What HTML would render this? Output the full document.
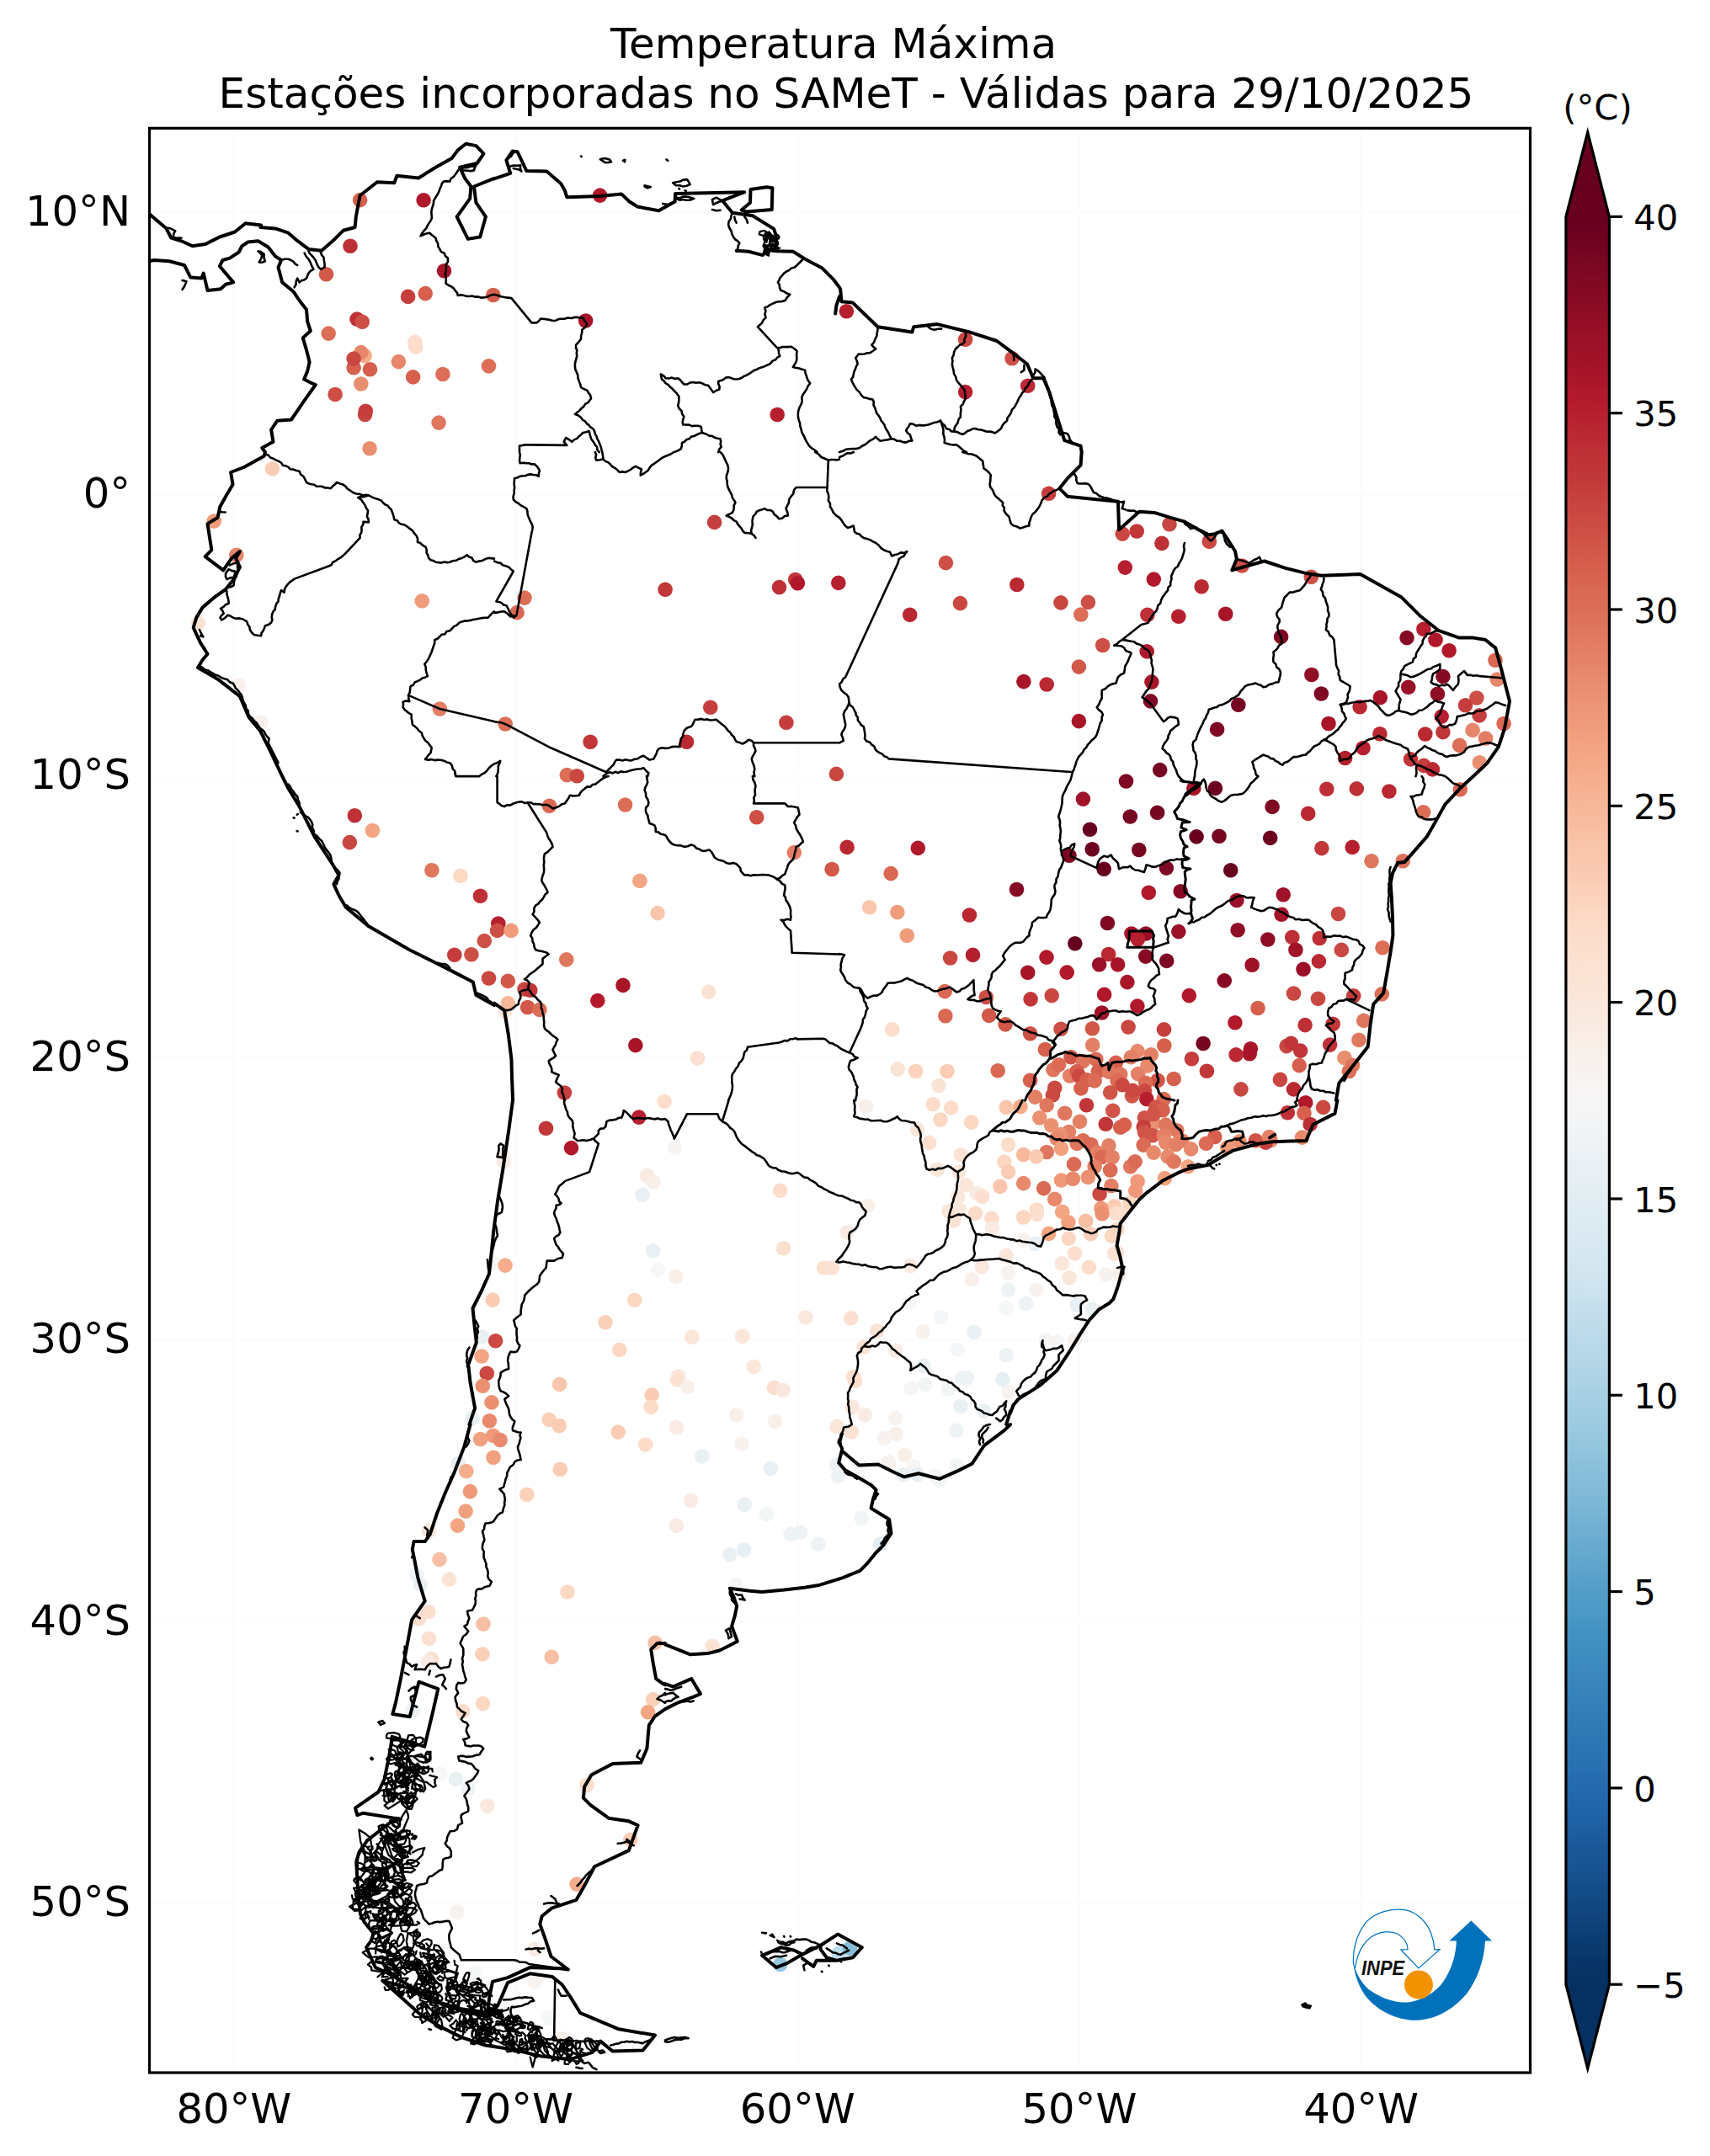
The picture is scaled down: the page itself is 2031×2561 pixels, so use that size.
<!DOCTYPE html>
<html lang="pt-BR"><head><meta charset="utf-8"><title>Temperatura Máxima - SAMeT</title>
<style>html,body{margin:0;padding:0;background:#fff}body{width:2031px;height:2561px;overflow:hidden}svg{display:block}text{font-family:'DejaVu Sans','Liberation Sans',sans-serif;fill:#000}.c{fill:none;stroke:#000;stroke-width:4;stroke-linejoin:round;stroke-linecap:round}.b{fill:none;stroke:#000;stroke-width:2.6;stroke-linejoin:round;stroke-linecap:round}.s{fill:none;stroke:#000;stroke-width:2.6;stroke-linejoin:round;stroke-linecap:round}.p{fill:none;stroke:#000;stroke-width:3.0;stroke-linejoin:round;stroke-linecap:round}.f{fill:none;stroke:#000;stroke-width:2.3;stroke-linejoin:round;stroke-linecap:round}</style></head><body>
<svg width="2031" height="2561" viewBox="0 0 2031 2561">
<rect width="2031" height="2561" fill="#fff"/>
<text x="990.1" y="69.4" font-size="50" text-anchor="middle">Temperatura Máxima</text>
<text x="1005" y="128.1" font-size="50" text-anchor="middle">Estações incorporadas no SAMeT - Válidas para 29/10/2025</text>
<defs><clipPath id="ax"><rect x="177.5" y="152.3" width="1640.0" height="2309.7"/></clipPath>
<linearGradient id="cb" x1="0" y1="0" x2="0" y2="1"><stop offset="0.0000" stop-color="#67001f"/><stop offset="0.0111" stop-color="#6d0220"/><stop offset="0.0222" stop-color="#760521"/><stop offset="0.0333" stop-color="#7f0823"/><stop offset="0.0444" stop-color="#870a24"/><stop offset="0.0556" stop-color="#900d26"/><stop offset="0.0667" stop-color="#991027"/><stop offset="0.0778" stop-color="#9f1228"/><stop offset="0.0889" stop-color="#a81529"/><stop offset="0.1000" stop-color="#b1182b"/><stop offset="0.1111" stop-color="#b61f2e"/><stop offset="0.1222" stop-color="#ba2832"/><stop offset="0.1333" stop-color="#be3036"/><stop offset="0.1444" stop-color="#c13639"/><stop offset="0.1556" stop-color="#c53e3d"/><stop offset="0.1667" stop-color="#c94741"/><stop offset="0.1778" stop-color="#ce4f45"/><stop offset="0.1889" stop-color="#d25849"/><stop offset="0.2000" stop-color="#d6604d"/><stop offset="0.2111" stop-color="#da6853"/><stop offset="0.2222" stop-color="#dc6e57"/><stop offset="0.2333" stop-color="#df765e"/><stop offset="0.2444" stop-color="#e37e64"/><stop offset="0.2556" stop-color="#e6866a"/><stop offset="0.2667" stop-color="#ea8e70"/><stop offset="0.2778" stop-color="#ee9677"/><stop offset="0.2889" stop-color="#f09c7b"/><stop offset="0.3000" stop-color="#f3a481"/><stop offset="0.3111" stop-color="#f5aa89"/><stop offset="0.3222" stop-color="#f6b191"/><stop offset="0.3333" stop-color="#f7b799"/><stop offset="0.3444" stop-color="#f8bda1"/><stop offset="0.3556" stop-color="#f9c4a9"/><stop offset="0.3667" stop-color="#fac8af"/><stop offset="0.3778" stop-color="#fbceb7"/><stop offset="0.3889" stop-color="#fcd5bf"/><stop offset="0.4000" stop-color="#fddbc7"/><stop offset="0.4111" stop-color="#fcdecd"/><stop offset="0.4222" stop-color="#fce2d2"/><stop offset="0.4333" stop-color="#fbe4d6"/><stop offset="0.4444" stop-color="#fae7dc"/><stop offset="0.4556" stop-color="#faeae1"/><stop offset="0.4667" stop-color="#f9eee7"/><stop offset="0.4778" stop-color="#f8f1ed"/><stop offset="0.4889" stop-color="#f8f4f2"/><stop offset="0.5000" stop-color="#f7f6f6"/><stop offset="0.5111" stop-color="#f3f5f6"/><stop offset="0.5222" stop-color="#eff3f5"/><stop offset="0.5333" stop-color="#eaf1f5"/><stop offset="0.5444" stop-color="#e6eff4"/><stop offset="0.5556" stop-color="#e1edf3"/><stop offset="0.5667" stop-color="#ddebf2"/><stop offset="0.5778" stop-color="#dae9f2"/><stop offset="0.5889" stop-color="#d5e7f1"/><stop offset="0.6000" stop-color="#d1e5f0"/><stop offset="0.6111" stop-color="#cae1ee"/><stop offset="0.6222" stop-color="#c2ddec"/><stop offset="0.6333" stop-color="#bbdaea"/><stop offset="0.6444" stop-color="#b6d7e8"/><stop offset="0.6556" stop-color="#aed3e6"/><stop offset="0.6667" stop-color="#a7d0e4"/><stop offset="0.6778" stop-color="#a0cce2"/><stop offset="0.6889" stop-color="#98c8e0"/><stop offset="0.7000" stop-color="#90c4dd"/><stop offset="0.7111" stop-color="#87beda"/><stop offset="0.7222" stop-color="#81bad8"/><stop offset="0.7333" stop-color="#78b4d5"/><stop offset="0.7444" stop-color="#6eaed2"/><stop offset="0.7556" stop-color="#65a9cf"/><stop offset="0.7667" stop-color="#5ca3cb"/><stop offset="0.7778" stop-color="#529dc8"/><stop offset="0.7889" stop-color="#4c99c6"/><stop offset="0.8000" stop-color="#4393c3"/><stop offset="0.8111" stop-color="#3f8ec0"/><stop offset="0.8222" stop-color="#3b88be"/><stop offset="0.8333" stop-color="#3783bb"/><stop offset="0.8444" stop-color="#337eb8"/><stop offset="0.8556" stop-color="#2f79b5"/><stop offset="0.8667" stop-color="#2c75b4"/><stop offset="0.8778" stop-color="#2870b1"/><stop offset="0.8889" stop-color="#246aae"/><stop offset="0.9000" stop-color="#2065ab"/><stop offset="0.9111" stop-color="#1d5fa2"/><stop offset="0.9222" stop-color="#1a5899"/><stop offset="0.9333" stop-color="#185493"/><stop offset="0.9444" stop-color="#144e8a"/><stop offset="0.9556" stop-color="#114781"/><stop offset="0.9667" stop-color="#0e4179"/><stop offset="0.9778" stop-color="#0a3b70"/><stop offset="0.9889" stop-color="#073467"/><stop offset="1.0000" stop-color="#053061"/></linearGradient></defs>
<path d="M277.9 152.3V2462.0M612.6 152.3V2462.0M947.3 152.3V2462.0M1282.0 152.3V2462.0M1616.7 152.3V2462.0M177.5 2260.9H1817.5M177.5 1926.2H1817.5M177.5 1591.5H1817.5M177.5 1256.8H1817.5M177.5 922.1H1817.5M177.5 587.4H1817.5M177.5 252.7H1817.5" fill="none" stroke="#000" stroke-opacity="0.012" stroke-width="3"/>
<g clip-path="url(#ax)">
<g><circle cx="427.6" cy="237.6" r="8.8" fill="#d6604d"/><circle cx="503.1" cy="237.8" r="8.8" fill="#b1182b"/><circle cx="416" cy="292.3" r="8.8" fill="#be3036"/><circle cx="387.5" cy="325.8" r="8.8" fill="#d25849"/><circle cx="527.5" cy="321.8" r="8.8" fill="#a81529"/><circle cx="484.6" cy="352.4" r="8.8" fill="#c53e3d"/><circle cx="505.2" cy="348.6" r="8.8" fill="#d6604d"/><circle cx="585.8" cy="350.5" r="8.8" fill="#d6604d"/><circle cx="424" cy="379.1" r="8.8" fill="#be3036"/><circle cx="430.2" cy="382.2" r="8.8" fill="#ce4f45"/><circle cx="390.2" cy="396.1" r="8.8" fill="#dc6e57"/><circle cx="492.8" cy="406.2" r="8.8" fill="#fcdfcf"/><circle cx="493.7" cy="412.1" r="8.8" fill="#fdddcb"/><circle cx="433.1" cy="422.5" r="8.8" fill="#f5aa89"/><circle cx="428.8" cy="418.6" r="8.8" fill="#e6866a"/><circle cx="420.1" cy="436.8" r="8.8" fill="#d6604d"/><circle cx="420.1" cy="426.1" r="8.8" fill="#c94741"/><circle cx="439.5" cy="438.8" r="8.8" fill="#d6604d"/><circle cx="473.4" cy="429.6" r="8.8" fill="#e6866a"/><circle cx="490.6" cy="447.9" r="8.8" fill="#d6604d"/><circle cx="525.9" cy="444.5" r="8.8" fill="#dc6e57"/><circle cx="580.5" cy="434.9" r="8.8" fill="#dc6e57"/><circle cx="428.8" cy="456" r="8.8" fill="#ea8e70"/><circle cx="398.1" cy="468.5" r="8.8" fill="#ce4f45"/><circle cx="433.5" cy="492.5" r="8.8" fill="#c94741"/><circle cx="434.3" cy="488.2" r="8.8" fill="#c53e3d"/><circle cx="521.1" cy="502.1" r="8.8" fill="#df765e"/><circle cx="439.1" cy="532.7" r="8.8" fill="#ea8e70"/><circle cx="323.5" cy="556.9" r="8.8" fill="#fbccb4"/><circle cx="254.2" cy="619" r="8.8" fill="#f09c7b"/><circle cx="280.8" cy="659.3" r="8.8" fill="#e6866a"/><circle cx="235.3" cy="740.1" r="8.8" fill="#fbe3d4"/><circle cx="501.2" cy="713.9" r="8.8" fill="#f09c7b"/><circle cx="283.2" cy="813.9" r="8.8" fill="#f9f0eb"/><circle cx="522.3" cy="842" r="8.8" fill="#e37e64"/><circle cx="309.6" cy="857.8" r="8.8" fill="#f9f0eb"/><circle cx="421.3" cy="968.8" r="8.8" fill="#be3036"/><circle cx="442.4" cy="986.5" r="8.8" fill="#f3a481"/><circle cx="415.3" cy="1000.6" r="8.8" fill="#c94741"/><circle cx="512.9" cy="1033.7" r="8.8" fill="#df765e"/><circle cx="547" cy="1040.2" r="8.8" fill="#fdd9c4"/><circle cx="570.5" cy="1064.2" r="8.8" fill="#be3036"/><circle cx="575.3" cy="1117.6" r="8.8" fill="#ce4f45"/><circle cx="539.8" cy="1134.2" r="8.8" fill="#c53e3d"/><circle cx="559.9" cy="1133.7" r="8.8" fill="#ce4f45"/><circle cx="580.5" cy="1162" r="8.8" fill="#c94741"/><circle cx="648.5" cy="1340.3" r="8.8" fill="#c13639"/><circle cx="758.8" cy="1327.1" r="8.8" fill="#b61f2e"/><circle cx="678.5" cy="1363.6" r="8.8" fill="#b1182b"/><circle cx="597.7" cy="1371.7" r="8.8" fill="#f9efe9"/><circle cx="598.2" cy="1380.1" r="8.8" fill="#f9ebe3"/><circle cx="768.4" cy="1396.4" r="8.8" fill="#f9ebe3"/><circle cx="776.3" cy="1403.9" r="8.8" fill="#f9efe9"/><circle cx="763.1" cy="1419.2" r="8.8" fill="#e9f0f4"/><circle cx="775.6" cy="1485.9" r="8.8" fill="#e9f0f4"/><circle cx="781.6" cy="1508.4" r="8.8" fill="#f6f7f7"/><circle cx="586.7" cy="1500" r="8.8" fill="#f7f5f4"/><circle cx="600.1" cy="1503.1" r="8.8" fill="#f5ac8b"/><circle cx="585.2" cy="1544.1" r="8.8" fill="#fbccb4"/><circle cx="753.8" cy="1544.4" r="8.8" fill="#fcd7c2"/><circle cx="719" cy="1570.7" r="8.8" fill="#fbd0b9"/><circle cx="572.3" cy="1588" r="8.8" fill="#e9f0f4"/><circle cx="588.6" cy="1592.8" r="8.8" fill="#cb4942"/><circle cx="735.8" cy="1603.4" r="8.8" fill="#fcd7c2"/><circle cx="572.1" cy="1611" r="8.8" fill="#f4a683"/><circle cx="578.3" cy="1631.2" r="8.8" fill="#cb4942"/><circle cx="573.3" cy="1646.3" r="8.8" fill="#eb9172"/><circle cx="664.6" cy="1644.4" r="8.8" fill="#f9c6ac"/><circle cx="584" cy="1665.9" r="8.8" fill="#eb9172"/><circle cx="774.2" cy="1657.1" r="8.8" fill="#fbccb4"/><circle cx="773.2" cy="1671.4" r="8.8" fill="#fddcc9"/><circle cx="561" cy="1684.6" r="8.8" fill="#e9f0f4"/><circle cx="581.4" cy="1687.7" r="8.8" fill="#e8896c"/><circle cx="652.1" cy="1686.3" r="8.8" fill="#fbd0b9"/><circle cx="664.1" cy="1693.5" r="8.8" fill="#fbccb4"/><circle cx="570.6" cy="1709.5" r="8.8" fill="#f2a17f"/><circle cx="585.7" cy="1705.2" r="8.8" fill="#ef9979"/><circle cx="594.1" cy="1710.5" r="8.8" fill="#e8896c"/><circle cx="734.1" cy="1701.1" r="8.8" fill="#fbccb4"/><circle cx="766.7" cy="1716" r="8.8" fill="#fddcc9"/><circle cx="586" cy="1731.3" r="8.8" fill="#f2a17f"/><circle cx="544.5" cy="1738" r="8.8" fill="#e9f0f4"/><circle cx="553.8" cy="1747.6" r="8.8" fill="#f5ac8b"/><circle cx="665.3" cy="1745.2" r="8.8" fill="#fbccb4"/><circle cx="558.4" cy="1771.6" r="8.8" fill="#ef9979"/><circle cx="625.8" cy="1775.2" r="8.8" fill="#fbd0b9"/><circle cx="553.1" cy="1795.1" r="8.8" fill="#f2a17f"/><circle cx="543.5" cy="1812.1" r="8.8" fill="#f4a683"/><circle cx="509.5" cy="1818.4" r="8.8" fill="#fbe6da"/><circle cx="521.9" cy="1852.4" r="8.8" fill="#f8bfa4"/><circle cx="495.1" cy="1871.3" r="8.8" fill="#edf2f5"/><circle cx="499.4" cy="1882.6" r="8.8" fill="#e9f0f4"/><circle cx="533.5" cy="1876.1" r="8.8" fill="#fbe3d4"/><circle cx="674" cy="1891" r="8.8" fill="#fcd7c2"/><circle cx="509" cy="1914.7" r="8.8" fill="#fcdfcf"/><circle cx="497.5" cy="1922.7" r="8.8" fill="#fcdfcf"/><circle cx="574" cy="1929.1" r="8.8" fill="#f8bfa4"/><circle cx="509.5" cy="1946.4" r="8.8" fill="#fcdfcf"/><circle cx="778" cy="1951.4" r="8.8" fill="#f8bfa4"/><circle cx="573" cy="1964.9" r="8.8" fill="#fbd0b9"/><circle cx="655.3" cy="1968.2" r="8.8" fill="#f8bfa4"/><circle cx="512.6" cy="1970.6" r="8.8" fill="#fcdfcf"/><circle cx="508.3" cy="1973.7" r="8.8" fill="#f9ebe3"/><circle cx="775.6" cy="2018.6" r="8.8" fill="#fbd0b9"/><circle cx="573.5" cy="2023.6" r="8.8" fill="#fcd7c2"/><circle cx="549.8" cy="2032.9" r="8.8" fill="#fddcc9"/><circle cx="490.3" cy="2031.3" r="8.8" fill="#edf2f5"/><circle cx="769.6" cy="2033.7" r="8.8" fill="#f4a683"/><circle cx="522.7" cy="2107" r="8.8" fill="#f6f7f7"/><circle cx="541.4" cy="2113.4" r="8.8" fill="#e9f0f4"/><circle cx="555.7" cy="2124.2" r="8.8" fill="#edf2f5"/><circle cx="578.8" cy="2145.3" r="8.8" fill="#fae8de"/><circle cx="697" cy="2120.2" r="8.8" fill="#fddcc9"/><circle cx="748.8" cy="2185.4" r="8.8" fill="#fbccb4"/><circle cx="685" cy="2238.1" r="8.8" fill="#f5ac8b"/><circle cx="543" cy="2270.7" r="8.8" fill="#f8f2ef"/><circle cx="635.4" cy="2315.1" r="8.8" fill="#f9ebe3"/><circle cx="527.5" cy="2316.8" r="8.8" fill="#f6f7f7"/><circle cx="564.4" cy="2342.7" r="8.8" fill="#f6f7f7"/><circle cx="635.4" cy="2353.9" r="8.8" fill="#f8f2ef"/><circle cx="651.4" cy="2396.8" r="8.8" fill="#f6f7f7"/><circle cx="668.4" cy="2421.8" r="8.8" fill="#f9efe9"/><circle cx="712.6" cy="232.1" r="8.8" fill="#b1182b"/><circle cx="695.6" cy="381" r="8.8" fill="#a81529"/><circle cx="923.2" cy="492.5" r="8.8" fill="#b61f2e"/><circle cx="623" cy="710.1" r="8.8" fill="#dc6e57"/><circle cx="614.1" cy="727.6" r="8.8" fill="#da6853"/><circle cx="790.1" cy="700.3" r="8.8" fill="#c13639"/><circle cx="848.6" cy="620.4" r="8.8" fill="#c53e3d"/><circle cx="925.5" cy="697.6" r="8.8" fill="#be3036"/><circle cx="944.7" cy="688.5" r="8.8" fill="#c13639"/><circle cx="947.4" cy="692.8" r="8.8" fill="#b1182b"/><circle cx="995.8" cy="692.4" r="8.8" fill="#b61f2e"/><circle cx="843.8" cy="840.3" r="8.8" fill="#c53e3d"/><circle cx="933.9" cy="858.3" r="8.8" fill="#c53e3d"/><circle cx="815.5" cy="881.3" r="8.8" fill="#ba2832"/><circle cx="701.1" cy="881.3" r="8.8" fill="#c13639"/><circle cx="600.2" cy="860" r="8.8" fill="#dc6e57"/><circle cx="673.3" cy="920.6" r="8.8" fill="#dc6e57"/><circle cx="685.3" cy="921.8" r="8.8" fill="#c94741"/><circle cx="993.4" cy="919.4" r="8.8" fill="#c94741"/><circle cx="652.5" cy="957.2" r="8.8" fill="#da6853"/><circle cx="742.6" cy="956" r="8.8" fill="#dc6e57"/><circle cx="898.7" cy="970.7" r="8.8" fill="#ce4f45"/><circle cx="943.3" cy="1012.6" r="8.8" fill="#e37e64"/><circle cx="988.1" cy="1032.5" r="8.8" fill="#d25849"/><circle cx="759.9" cy="1046.4" r="8.8" fill="#f3a481"/><circle cx="781" cy="1084.6" r="8.8" fill="#f9c6ac"/><circle cx="591.8" cy="1097" r="8.8" fill="#b61f2e"/><circle cx="590.6" cy="1105.4" r="8.8" fill="#ce4f45"/><circle cx="607.1" cy="1105.4" r="8.8" fill="#f09c7b"/><circle cx="672.8" cy="1139.9" r="8.8" fill="#df765e"/><circle cx="603.3" cy="1165.4" r="8.8" fill="#d25849"/><circle cx="623" cy="1175" r="8.8" fill="#c94741"/><circle cx="629.7" cy="1176.2" r="8.8" fill="#c13639"/><circle cx="740" cy="1170.4" r="8.8" fill="#a81529"/><circle cx="709.8" cy="1188.6" r="8.8" fill="#b1182b"/><circle cx="600.2" cy="1201.3" r="8.8" fill="#fbe6da"/><circle cx="603.3" cy="1191.7" r="8.8" fill="#f7b799"/><circle cx="626.6" cy="1196.5" r="8.8" fill="#d25849"/><circle cx="640.9" cy="1199.4" r="8.8" fill="#dc6e57"/><circle cx="841.6" cy="1178.1" r="8.8" fill="#fbe3d4"/><circle cx="754.8" cy="1241.6" r="8.8" fill="#a81529"/><circle cx="828.4" cy="1257" r="8.8" fill="#fcdfcf"/><circle cx="670.4" cy="1298" r="8.8" fill="#c53e3d"/><circle cx="789.1" cy="1308.5" r="8.8" fill="#fdddcb"/><circle cx="1028.6" cy="1314.2" r="8.8" fill="#f9efe9"/><circle cx="1108.2" cy="1311.8" r="8.8" fill="#fddcc9"/><circle cx="1129.7" cy="1315.9" r="8.8" fill="#fddcc9"/><circle cx="1195.2" cy="1315.4" r="8.8" fill="#f9c6ac"/><circle cx="1117" cy="1330" r="8.8" fill="#fcd7c2"/><circle cx="1153.7" cy="1333.1" r="8.8" fill="#fcd7c2"/><circle cx="1089.7" cy="1341.8" r="8.8" fill="#fbe6da"/><circle cx="1103.6" cy="1357.4" r="8.8" fill="#fcdfcf"/><circle cx="1141.3" cy="1371.7" r="8.8" fill="#fbe3d4"/><circle cx="1197.6" cy="1359.7" r="8.8" fill="#fddcc9"/><circle cx="1192.8" cy="1380.1" r="8.8" fill="#fcd7c2"/><circle cx="1197.6" cy="1392.1" r="8.8" fill="#fbccb4"/><circle cx="801.5" cy="1362.6" r="8.8" fill="#f7f5f4"/><circle cx="1113" cy="1389.2" r="8.8" fill="#fbe6da"/><circle cx="1138.9" cy="1392.1" r="8.8" fill="#fbe6da"/><circle cx="1147.3" cy="1407.7" r="8.8" fill="#fbe6da"/><circle cx="1187.8" cy="1409.4" r="8.8" fill="#f9c6ac"/><circle cx="926.7" cy="1414.2" r="8.8" fill="#fddcc9"/><circle cx="1160.4" cy="1417.3" r="8.8" fill="#f9ebe3"/><circle cx="1166.7" cy="1421.4" r="8.8" fill="#fcdfcf"/><circle cx="1137.7" cy="1422.1" r="8.8" fill="#fbe6da"/><circle cx="1030.5" cy="1432.2" r="8.8" fill="#f9efe9"/><circle cx="1138.9" cy="1436.5" r="8.8" fill="#fbe6da"/><circle cx="1126.9" cy="1438.9" r="8.8" fill="#fbe6da"/><circle cx="1158.5" cy="1441.3" r="8.8" fill="#fddcc9"/><circle cx="1177.9" cy="1447.3" r="8.8" fill="#fddcc9"/><circle cx="1132.9" cy="1449.7" r="8.8" fill="#fbe3d4"/><circle cx="1178.4" cy="1459.3" r="8.8" fill="#f9ebe3"/><circle cx="1005.8" cy="1464" r="8.8" fill="#f9ebe3"/><circle cx="930.5" cy="1482.7" r="8.8" fill="#fcdfcf"/><circle cx="1195.2" cy="1491.6" r="8.8" fill="#fbe6da"/><circle cx="978.7" cy="1506" r="8.8" fill="#fcdfcf"/><circle cx="988.5" cy="1506" r="8.8" fill="#fbe3d4"/><circle cx="1081.3" cy="1503.6" r="8.8" fill="#fae8de"/><circle cx="1166.4" cy="1504.8" r="8.8" fill="#fae8de"/><circle cx="802.7" cy="1516.3" r="8.8" fill="#f9efe9"/><circle cx="1154.4" cy="1519.7" r="8.8" fill="#f9efe9"/><circle cx="1197.6" cy="1512" r="8.8" fill="#f8f2ef"/><circle cx="1197.6" cy="1532.4" r="8.8" fill="#edf2f5"/><circle cx="1080.1" cy="1546.8" r="8.8" fill="#f7f5f4"/><circle cx="1195.2" cy="1553.5" r="8.8" fill="#f6f7f7"/><circle cx="956.9" cy="1565" r="8.8" fill="#fae8de"/><circle cx="1010.6" cy="1565.7" r="8.8" fill="#fcdfcf"/><circle cx="1117.8" cy="1564.3" r="8.8" fill="#f5f6f7"/><circle cx="1041.8" cy="1580.8" r="8.8" fill="#fbe3d4"/><circle cx="1096.4" cy="1581.8" r="8.8" fill="#f8f2ef"/><circle cx="1157.1" cy="1582.3" r="8.8" fill="#e9f0f4"/><circle cx="821.9" cy="1588.2" r="8.8" fill="#fbe6da"/><circle cx="881.8" cy="1587.3" r="8.8" fill="#fbe6da"/><circle cx="1026.2" cy="1600" r="8.8" fill="#fbe3d4"/><circle cx="1063.3" cy="1604.3" r="8.8" fill="#f9ebe3"/><circle cx="1137.2" cy="1603.1" r="8.8" fill="#f5f6f7"/><circle cx="1195.2" cy="1609.8" r="8.8" fill="#edf2f5"/><circle cx="895.3" cy="1623.5" r="8.8" fill="#fbe6da"/><circle cx="1096.9" cy="1622.3" r="8.8" fill="#e9f0f4"/><circle cx="805.6" cy="1634.8" r="8.8" fill="#fbe6da"/><circle cx="804.4" cy="1639.1" r="8.8" fill="#fbe3d4"/><circle cx="816.4" cy="1647.5" r="8.8" fill="#f9efe9"/><circle cx="1013.7" cy="1635.5" r="8.8" fill="#fcdfcf"/><circle cx="1015.4" cy="1640.3" r="8.8" fill="#fcdfcf"/><circle cx="1142.5" cy="1636.7" r="8.8" fill="#edf2f5"/><circle cx="1148.5" cy="1636.7" r="8.8" fill="#edf2f5"/><circle cx="1190.9" cy="1638.4" r="8.8" fill="#e6eff4"/><circle cx="1098.8" cy="1644.6" r="8.8" fill="#f2f5f6"/><circle cx="1081.8" cy="1649.4" r="8.8" fill="#f7f5f4"/><circle cx="1126.9" cy="1650.3" r="8.8" fill="#f2f5f6"/><circle cx="919.5" cy="1648.4" r="8.8" fill="#fcdfcf"/><circle cx="930.3" cy="1651.5" r="8.8" fill="#fae8de"/><circle cx="1197.6" cy="1653.5" r="8.8" fill="#f8f2ef"/><circle cx="1141" cy="1670.2" r="8.8" fill="#e9f0f4"/><circle cx="1012.5" cy="1671.4" r="8.8" fill="#fae8de"/><circle cx="1027.1" cy="1680.6" r="8.8" fill="#f9ebe3"/><circle cx="874.6" cy="1681" r="8.8" fill="#f9efe9"/><circle cx="1063.3" cy="1684.6" r="8.8" fill="#f8f2ef"/><circle cx="1168.4" cy="1676.2" r="8.8" fill="#e9f0f4"/><circle cx="920.4" cy="1688.2" r="8.8" fill="#f9efe9"/><circle cx="803.7" cy="1695.6" r="8.8" fill="#f9ebe3"/><circle cx="993.8" cy="1694.4" r="8.8" fill="#fbe6da"/><circle cx="1011.3" cy="1700.9" r="8.8" fill="#fbe3d4"/><circle cx="1064.1" cy="1703.3" r="8.8" fill="#f9efe9"/><circle cx="1050.6" cy="1708.3" r="8.8" fill="#f8f2ef"/><circle cx="1136" cy="1699.2" r="8.8" fill="#edf2f5"/><circle cx="880.9" cy="1715" r="8.8" fill="#f8f2ef"/><circle cx="833.9" cy="1729.9" r="8.8" fill="#e9f0f4"/><circle cx="1074.4" cy="1728.4" r="8.8" fill="#f9efe9"/><circle cx="1055.4" cy="1736.8" r="8.8" fill="#f8f2ef"/><circle cx="915.4" cy="1744" r="8.8" fill="#e9f0f4"/><circle cx="1021.4" cy="1740.7" r="8.8" fill="#f6f7f7"/><circle cx="1085.6" cy="1742.4" r="8.8" fill="#f7f5f4"/><circle cx="1136.5" cy="1741.2" r="8.8" fill="#f2f5f6"/><circle cx="993.8" cy="1740" r="8.8" fill="#edf2f5"/><circle cx="995.5" cy="1753.1" r="8.8" fill="#edf2f5"/><circle cx="1072.9" cy="1751.9" r="8.8" fill="#e9f0f4"/><circle cx="1089.7" cy="1751.5" r="8.8" fill="#e9f0f4"/><circle cx="1111.3" cy="1753.1" r="8.8" fill="#f7f5f4"/><circle cx="1116.1" cy="1757.9" r="8.8" fill="#f2f5f6"/><circle cx="820.7" cy="1782.2" r="8.8" fill="#f9ebe3"/><circle cx="884.2" cy="1787.2" r="8.8" fill="#e9f0f4"/><circle cx="910.6" cy="1798.5" r="8.8" fill="#f2f5f6"/><circle cx="1023.1" cy="1803" r="8.8" fill="#f2f5f6"/><circle cx="803.4" cy="1812.4" r="8.8" fill="#f9ebe3"/><circle cx="939.1" cy="1822.2" r="8.8" fill="#edf2f5"/><circle cx="950.6" cy="1820.3" r="8.8" fill="#edf2f5"/><circle cx="972.2" cy="1834.2" r="8.8" fill="#edf2f5"/><circle cx="1045.8" cy="1834.2" r="8.8" fill="#e1edf3"/><circle cx="883.5" cy="1841.1" r="8.8" fill="#e6eff4"/><circle cx="866.7" cy="1846.6" r="8.8" fill="#e9f0f4"/><circle cx="873.9" cy="1882.6" r="8.8" fill="#f7f5f4"/><circle cx="846.1" cy="1955.3" r="8.8" fill="#fbe3d4"/><circle cx="926.7" cy="2333.5" r="8.8" fill="#98c8e0"/><circle cx="996.2" cy="2320.4" r="8.8" fill="#bbdaea"/><circle cx="1009.4" cy="2314.4" r="8.8" fill="#87beda"/><circle cx="1005.4" cy="369.7" r="8.8" fill="#b61f2e"/><circle cx="1146.6" cy="403.3" r="8.8" fill="#c94741"/><circle cx="1202" cy="425.8" r="8.8" fill="#ce4f45"/><circle cx="1220.7" cy="458.2" r="8.8" fill="#ba2832"/><circle cx="1146.6" cy="465.6" r="8.8" fill="#b61f2e"/><circle cx="1245.6" cy="586.2" r="8.8" fill="#c53e3d"/><circle cx="1333.2" cy="634.1" r="8.8" fill="#c94741"/><circle cx="1350.2" cy="631" r="8.8" fill="#c13639"/><circle cx="1389" cy="622.8" r="8.8" fill="#c94741"/><circle cx="1379.9" cy="645.4" r="8.8" fill="#be3036"/><circle cx="1336.3" cy="674.1" r="8.8" fill="#b61f2e"/><circle cx="1370.3" cy="688.1" r="8.8" fill="#b1182b"/><circle cx="1123.4" cy="668.6" r="8.8" fill="#ce4f45"/><circle cx="1207.8" cy="694.5" r="8.8" fill="#ba2832"/><circle cx="1140.4" cy="716.6" r="8.8" fill="#c94741"/><circle cx="1080.7" cy="730.3" r="8.8" fill="#ba2832"/><circle cx="1260" cy="715.9" r="8.8" fill="#c94741"/><circle cx="1283.8" cy="730" r="8.8" fill="#dc6e57"/><circle cx="1292.4" cy="715.4" r="8.8" fill="#ce4f45"/><circle cx="1362.9" cy="730.3" r="8.8" fill="#be3036"/><circle cx="1399.8" cy="732.2" r="8.8" fill="#b61f2e"/><circle cx="1309.7" cy="766.5" r="8.8" fill="#ce4f45"/><circle cx="1362.2" cy="773.9" r="8.8" fill="#b1182b"/><circle cx="1281.4" cy="792.1" r="8.8" fill="#d25849"/><circle cx="1215.9" cy="809.6" r="8.8" fill="#a81529"/><circle cx="1243.2" cy="813" r="8.8" fill="#ba2832"/><circle cx="1367.9" cy="810.1" r="8.8" fill="#a81529"/><circle cx="1366.5" cy="832.9" r="8.8" fill="#7f0823"/><circle cx="1281.4" cy="856.6" r="8.8" fill="#a81529"/><circle cx="1377.7" cy="914.6" r="8.8" fill="#760521"/><circle cx="1337.5" cy="928" r="8.8" fill="#7f0823"/><circle cx="1286.4" cy="949.1" r="8.8" fill="#9f1228"/><circle cx="1342.3" cy="970" r="8.8" fill="#760521"/><circle cx="1374.6" cy="965.2" r="8.8" fill="#760521"/><circle cx="1294.5" cy="985.3" r="8.8" fill="#67001f"/><circle cx="1006.1" cy="1006.4" r="8.8" fill="#ba2832"/><circle cx="1090.3" cy="1007.4" r="8.8" fill="#b1182b"/><circle cx="1297.2" cy="1008.8" r="8.8" fill="#6d0220"/><circle cx="1352.8" cy="1009.5" r="8.8" fill="#760521"/><circle cx="1269.9" cy="1016.2" r="8.8" fill="#7f0823"/><circle cx="1311.1" cy="1032.3" r="8.8" fill="#67001f"/><circle cx="1385.4" cy="1031.1" r="8.8" fill="#7f0823"/><circle cx="1058.1" cy="1037.6" r="8.8" fill="#da6853"/><circle cx="1207.5" cy="1056.5" r="8.8" fill="#870a24"/><circle cx="1364.3" cy="1060.3" r="8.8" fill="#b1182b"/><circle cx="1402.2" cy="1058.7" r="8.8" fill="#870a24"/><circle cx="1032.7" cy="1077.8" r="8.8" fill="#f9c6ac"/><circle cx="1065.8" cy="1083.6" r="8.8" fill="#f09c7b"/><circle cx="1151.4" cy="1087" r="8.8" fill="#ba2832"/><circle cx="1315.4" cy="1096.5" r="8.8" fill="#7f0823"/><circle cx="1343.9" cy="1109" r="8.8" fill="#a81529"/><circle cx="1361" cy="1109" r="8.8" fill="#991027"/><circle cx="1351.4" cy="1115.7" r="8.8" fill="#b61f2e"/><circle cx="1399.8" cy="1106.6" r="8.8" fill="#991027"/><circle cx="1077.3" cy="1111.2" r="8.8" fill="#f09c7b"/><circle cx="1276.8" cy="1120.8" r="8.8" fill="#67001f"/><circle cx="1128.6" cy="1138" r="8.8" fill="#c94741"/><circle cx="1155.5" cy="1134.4" r="8.8" fill="#b61f2e"/><circle cx="1243" cy="1137.1" r="8.8" fill="#b1182b"/><circle cx="1316.6" cy="1133.5" r="8.8" fill="#ba2832"/><circle cx="1360.7" cy="1136.1" r="8.8" fill="#870a24"/><circle cx="1385.7" cy="1141.4" r="8.8" fill="#7f0823"/><circle cx="1305.6" cy="1145.7" r="8.8" fill="#991027"/><circle cx="1327.6" cy="1145.7" r="8.8" fill="#a81529"/><circle cx="1220.7" cy="1155.3" r="8.8" fill="#a81529"/><circle cx="1267.2" cy="1155.1" r="8.8" fill="#b1182b"/><circle cx="1338.9" cy="1166.6" r="8.8" fill="#a81529"/><circle cx="1311.6" cy="1181.4" r="8.8" fill="#b1182b"/><circle cx="1122.2" cy="1177.6" r="8.8" fill="#da6853"/><circle cx="1171.3" cy="1184.5" r="8.8" fill="#ce4f45"/><circle cx="1224.1" cy="1186.9" r="8.8" fill="#c13639"/><circle cx="1249.2" cy="1182.6" r="8.8" fill="#c94741"/><circle cx="1350.9" cy="1195.1" r="8.8" fill="#b1182b"/><circle cx="1308.7" cy="1203" r="8.8" fill="#9f1228"/><circle cx="1122.9" cy="1206.8" r="8.8" fill="#da6853"/><circle cx="1174.7" cy="1206.4" r="8.8" fill="#d25849"/><circle cx="1194.1" cy="1216.9" r="8.8" fill="#d25849"/><circle cx="1059.8" cy="1222.9" r="8.8" fill="#fdddcb"/><circle cx="1223.6" cy="1227.7" r="8.8" fill="#ce4f45"/><circle cx="1260" cy="1222.2" r="8.8" fill="#ce4f45"/><circle cx="1297.4" cy="1221.7" r="8.8" fill="#d25849"/><circle cx="1340.1" cy="1220" r="8.8" fill="#c94741"/><circle cx="1382.5" cy="1222.9" r="8.8" fill="#c53e3d"/><circle cx="1066.3" cy="1269.9" r="8.8" fill="#fbe3d4"/><circle cx="1087.6" cy="1272.5" r="8.8" fill="#fcd3bc"/><circle cx="1125" cy="1272.5" r="8.8" fill="#fbccb4"/><circle cx="1185.2" cy="1271.8" r="8.8" fill="#da6853"/><circle cx="1223.6" cy="1283.3" r="8.8" fill="#d6604d"/><circle cx="1115" cy="1289.6" r="8.8" fill="#fbe3d4"/><circle cx="1436.3" cy="643.2" r="8.8" fill="#c94741"/><circle cx="1475.1" cy="672" r="8.8" fill="#ce4f45"/><circle cx="1427.1" cy="696.7" r="8.8" fill="#ba2832"/><circle cx="1455.7" cy="729.3" r="8.8" fill="#a81529"/><circle cx="1557.3" cy="685.2" r="8.8" fill="#ce4f45"/><circle cx="1521.6" cy="756.4" r="8.8" fill="#7f0823"/><circle cx="1671" cy="757.6" r="8.8" fill="#870a24"/><circle cx="1690.9" cy="747.3" r="8.8" fill="#b61f2e"/><circle cx="1705" cy="760" r="8.8" fill="#b1182b"/><circle cx="1721.1" cy="772.7" r="8.8" fill="#b1182b"/><circle cx="1776" cy="784.2" r="8.8" fill="#da6853"/><circle cx="1778.2" cy="807" r="8.8" fill="#e6866a"/><circle cx="1557.8" cy="801.5" r="8.8" fill="#900d26"/><circle cx="1569.3" cy="824" r="8.8" fill="#7f0823"/><circle cx="1470.8" cy="837.2" r="8.8" fill="#760521"/><circle cx="1445.6" cy="866.4" r="8.8" fill="#7f0823"/><circle cx="1672.7" cy="816.3" r="8.8" fill="#991027"/><circle cx="1713.9" cy="803.6" r="8.8" fill="#870a24"/><circle cx="1707.4" cy="824.2" r="8.8" fill="#900d26"/><circle cx="1639.3" cy="828.6" r="8.8" fill="#a81529"/><circle cx="1615.1" cy="839.8" r="8.8" fill="#ba2832"/><circle cx="1578" cy="859.5" r="8.8" fill="#a81529"/><circle cx="1753.9" cy="829" r="8.8" fill="#ce4f45"/><circle cx="1740.5" cy="837.7" r="8.8" fill="#c53e3d"/><circle cx="1757.1" cy="849.9" r="8.8" fill="#c53e3d"/><circle cx="1712.2" cy="851.1" r="8.8" fill="#b61f2e"/><circle cx="1786.1" cy="859.5" r="8.8" fill="#da6853"/><circle cx="1749.1" cy="867.4" r="8.8" fill="#e6866a"/><circle cx="1713.9" cy="869.6" r="8.8" fill="#c13639"/><circle cx="1692.8" cy="872" r="8.8" fill="#ba2832"/><circle cx="1638.9" cy="871.7" r="8.8" fill="#ba2832"/><circle cx="1764.5" cy="877" r="8.8" fill="#e37e64"/><circle cx="1733.6" cy="885.4" r="8.8" fill="#dc6e57"/><circle cx="1619" cy="888.5" r="8.8" fill="#b61f2e"/><circle cx="1597.6" cy="900.5" r="8.8" fill="#b61f2e"/><circle cx="1675.5" cy="901.9" r="8.8" fill="#c13639"/><circle cx="1691.1" cy="909.4" r="8.8" fill="#c53e3d"/><circle cx="1701.4" cy="913.9" r="8.8" fill="#ba2832"/><circle cx="1757.3" cy="905.8" r="8.8" fill="#ea8e70"/><circle cx="1417.8" cy="936.4" r="8.8" fill="#a81529"/><circle cx="1443.4" cy="936.4" r="8.8" fill="#6d0220"/><circle cx="1575.8" cy="937.3" r="8.8" fill="#be3036"/><circle cx="1611.3" cy="936.9" r="8.8" fill="#be3036"/><circle cx="1649.9" cy="940" r="8.8" fill="#ba2832"/><circle cx="1734.3" cy="937.8" r="8.8" fill="#da6853"/><circle cx="1511.1" cy="958.4" r="8.8" fill="#7f0823"/><circle cx="1553.7" cy="966.4" r="8.8" fill="#ba2832"/><circle cx="1690.6" cy="964.7" r="8.8" fill="#dc6e57"/><circle cx="1421.1" cy="993.9" r="8.8" fill="#67001f"/><circle cx="1448" cy="993.2" r="8.8" fill="#760521"/><circle cx="1508.7" cy="995.4" r="8.8" fill="#6d0220"/><circle cx="1569.8" cy="1007.6" r="8.8" fill="#c13639"/><circle cx="1606.2" cy="1006.4" r="8.8" fill="#b61f2e"/><circle cx="1629" cy="1022.7" r="8.8" fill="#df765e"/><circle cx="1666.2" cy="1022.7" r="8.8" fill="#dc6e57"/><circle cx="1461.7" cy="1033.7" r="8.8" fill="#67001f"/><circle cx="1524.2" cy="1062.7" r="8.8" fill="#9f1228"/><circle cx="1468.9" cy="1069.5" r="8.8" fill="#991027"/><circle cx="1522.1" cy="1086.2" r="8.8" fill="#a81529"/><circle cx="1589.5" cy="1085.5" r="8.8" fill="#c94741"/><circle cx="1470.1" cy="1104.7" r="8.8" fill="#900d26"/><circle cx="1505.8" cy="1116" r="8.8" fill="#900d26"/><circle cx="1534.8" cy="1113.3" r="8.8" fill="#be3036"/><circle cx="1538.9" cy="1128.2" r="8.8" fill="#9f1228"/><circle cx="1567.2" cy="1114.5" r="8.8" fill="#be3036"/><circle cx="1593.3" cy="1128.4" r="8.8" fill="#c94741"/><circle cx="1642" cy="1125.8" r="8.8" fill="#dc6e57"/><circle cx="1487.1" cy="1146.2" r="8.8" fill="#9f1228"/><circle cx="1566.4" cy="1141.9" r="8.8" fill="#ba2832"/><circle cx="1548" cy="1151.2" r="8.8" fill="#991027"/><circle cx="1454.2" cy="1164.9" r="8.8" fill="#870a24"/><circle cx="1412.3" cy="1182.6" r="8.8" fill="#b1182b"/><circle cx="1536.5" cy="1180" r="8.8" fill="#c94741"/><circle cx="1565.5" cy="1186.2" r="8.8" fill="#c94741"/><circle cx="1607.7" cy="1182.9" r="8.8" fill="#c53e3d"/><circle cx="1641.3" cy="1180.9" r="8.8" fill="#dc6e57"/><circle cx="1494" cy="1197.5" r="8.8" fill="#d6604d"/><circle cx="1466.9" cy="1214.8" r="8.8" fill="#b1182b"/><circle cx="1550.1" cy="1217.6" r="8.8" fill="#be3036"/><circle cx="1583.2" cy="1216.2" r="8.8" fill="#c13639"/><circle cx="1619.7" cy="1212.4" r="8.8" fill="#df765e"/><circle cx="1429.1" cy="1239.5" r="8.8" fill="#760521"/><circle cx="1485.4" cy="1245.7" r="8.8" fill="#a81529"/><circle cx="1484.2" cy="1251.7" r="8.8" fill="#a81529"/><circle cx="1468.1" cy="1252.9" r="8.8" fill="#ba2832"/><circle cx="1528.1" cy="1242.6" r="8.8" fill="#c94741"/><circle cx="1533.4" cy="1239.2" r="8.8" fill="#c13639"/><circle cx="1544.6" cy="1248.1" r="8.8" fill="#c13639"/><circle cx="1579.6" cy="1241.1" r="8.8" fill="#be3036"/><circle cx="1613.9" cy="1235.4" r="8.8" fill="#df765e"/><circle cx="1415.4" cy="1257.7" r="8.8" fill="#c53e3d"/><circle cx="1543.2" cy="1265.6" r="8.8" fill="#d6604d"/><circle cx="1596.9" cy="1256.5" r="8.8" fill="#ea8e70"/><circle cx="1606.5" cy="1265.3" r="8.8" fill="#df765e"/><circle cx="1602.4" cy="1272.5" r="8.8" fill="#dc6e57"/><circle cx="1433.4" cy="1272.3" r="8.8" fill="#c13639"/><circle cx="1520.4" cy="1282.4" r="8.8" fill="#c94741"/><circle cx="1473.9" cy="1293.9" r="8.8" fill="#c94741"/><circle cx="1536.5" cy="1293.9" r="8.8" fill="#ba2832"/><circle cx="1297.7" cy="1241.4" r="8.8" fill="#e48066"/><circle cx="1241.4" cy="1246.5" r="8.8" fill="#d6604d"/><circle cx="1382.8" cy="1242" r="8.8" fill="#d6604d"/><circle cx="1351.1" cy="1248.6" r="8.8" fill="#e8896c"/><circle cx="1343.3" cy="1255.8" r="8.8" fill="#e48066"/><circle cx="1367.2" cy="1252.8" r="8.8" fill="#e48066"/><circle cx="1271.9" cy="1255.8" r="8.8" fill="#d05548"/><circle cx="1286.3" cy="1260.6" r="8.8" fill="#df765e"/><circle cx="1301.9" cy="1258.2" r="8.8" fill="#db6b55"/><circle cx="1325.3" cy="1262.4" r="8.8" fill="#d6604d"/><circle cx="1251" cy="1270.8" r="8.8" fill="#df765e"/><circle cx="1257.5" cy="1264.8" r="8.8" fill="#db6b55"/><circle cx="1363" cy="1266" r="8.8" fill="#e8896c"/><circle cx="1270.7" cy="1278" r="8.8" fill="#e48066"/><circle cx="1279.1" cy="1272.6" r="8.8" fill="#d6604d"/><circle cx="1351.7" cy="1275.6" r="8.8" fill="#e48066"/><circle cx="1304.3" cy="1272.6" r="8.8" fill="#d6604d"/><circle cx="1317.5" cy="1273.2" r="8.8" fill="#df765e"/><circle cx="1330.7" cy="1276.2" r="8.8" fill="#df765e"/><circle cx="1281.5" cy="1278" r="8.8" fill="#cb4942"/><circle cx="1291.1" cy="1282.7" r="8.8" fill="#d6604d"/><circle cx="1300.1" cy="1283.9" r="8.8" fill="#db6b55"/><circle cx="1327.1" cy="1283.9" r="8.8" fill="#db6b55"/><circle cx="1375" cy="1283.3" r="8.8" fill="#d05548"/><circle cx="1394.2" cy="1281.5" r="8.8" fill="#d6604d"/><circle cx="1360.6" cy="1286.3" r="8.8" fill="#db6b55"/><circle cx="1333.1" cy="1288.7" r="8.8" fill="#cb4942"/><circle cx="1250.4" cy="1300.7" r="8.8" fill="#cb4942"/><circle cx="1252.7" cy="1292.3" r="8.8" fill="#cb4942"/><circle cx="1283.9" cy="1292.9" r="8.8" fill="#d6604d"/><circle cx="1344.5" cy="1301.9" r="8.8" fill="#d05548"/><circle cx="1345.1" cy="1295.3" r="8.8" fill="#cb4942"/><circle cx="1359.4" cy="1295.9" r="8.8" fill="#cb4942"/><circle cx="1318.7" cy="1297.7" r="8.8" fill="#d05548"/><circle cx="1361.8" cy="1305.5" r="8.8" fill="#b61f2e"/><circle cx="1229.4" cy="1303.1" r="8.8" fill="#e48066"/><circle cx="1382.2" cy="1305.5" r="8.8" fill="#db6b55"/><circle cx="1243.2" cy="1312.7" r="8.8" fill="#df765e"/><circle cx="1290.5" cy="1312.7" r="8.8" fill="#c13639"/><circle cx="1212" cy="1314.5" r="8.8" fill="#f5ac8b"/><circle cx="1372.6" cy="1315.1" r="8.8" fill="#d05548"/><circle cx="1381" cy="1318.7" r="8.8" fill="#d6604d"/><circle cx="1321.7" cy="1319.3" r="8.8" fill="#d05548"/><circle cx="1264.7" cy="1322.3" r="8.8" fill="#df765e"/><circle cx="1370.2" cy="1334.3" r="8.8" fill="#eb9172"/><circle cx="1359.4" cy="1327.7" r="8.8" fill="#d05548"/><circle cx="1370.2" cy="1323.5" r="8.8" fill="#d05548"/><circle cx="1234.8" cy="1327.7" r="8.8" fill="#eb9172"/><circle cx="1282.5" cy="1332.3" r="8.8" fill="#e48066"/><circle cx="1313.3" cy="1335.3" r="8.8" fill="#c13639"/><circle cx="1330.7" cy="1339.1" r="8.8" fill="#d6604d"/><circle cx="1335.5" cy="1336.1" r="8.8" fill="#d6604d"/><circle cx="1358.2" cy="1338.5" r="8.8" fill="#c53e3d"/><circle cx="1384.6" cy="1336.1" r="8.8" fill="#df765e"/><circle cx="1248.6" cy="1336.7" r="8.8" fill="#eb9172"/><circle cx="1397.8" cy="1342.7" r="8.8" fill="#df765e"/><circle cx="1269.5" cy="1344.5" r="8.8" fill="#e48066"/><circle cx="1259.9" cy="1347.5" r="8.8" fill="#eb9172"/><circle cx="1369" cy="1348.7" r="8.8" fill="#d05548"/><circle cx="1359.4" cy="1345.1" r="8.8" fill="#d05548"/><circle cx="1382.2" cy="1348.7" r="8.8" fill="#e48066"/><circle cx="1255.1" cy="1352.3" r="8.8" fill="#e8896c"/><circle cx="1286.3" cy="1354.7" r="8.8" fill="#db6b55"/><circle cx="1295.9" cy="1359.5" r="8.8" fill="#db6b55"/><circle cx="1403.8" cy="1354.7" r="8.8" fill="#e48066"/><circle cx="1279.1" cy="1358.3" r="8.8" fill="#df765e"/><circle cx="1316.9" cy="1360.7" r="8.8" fill="#e48066"/><circle cx="1358.2" cy="1360.1" r="8.8" fill="#db6b55"/><circle cx="1384.6" cy="1357.1" r="8.8" fill="#e8896c"/><circle cx="1396.6" cy="1359.5" r="8.8" fill="#e48066"/><circle cx="1260.5" cy="1364.3" r="8.8" fill="#f2a17f"/><circle cx="1243.2" cy="1368.5" r="8.8" fill="#df765e"/><circle cx="1303.1" cy="1369.1" r="8.8" fill="#e48066"/><circle cx="1370.2" cy="1369.1" r="8.8" fill="#e8896c"/><circle cx="1215.6" cy="1371.5" r="8.8" fill="#f7b99c"/><circle cx="1230.6" cy="1373.9" r="8.8" fill="#fbccb4"/><circle cx="1308.5" cy="1374.5" r="8.8" fill="#db6b55"/><circle cx="1321.1" cy="1374.5" r="8.8" fill="#e48066"/><circle cx="1387" cy="1373.9" r="8.8" fill="#e8896c"/><circle cx="1394.2" cy="1379.9" r="8.8" fill="#df765e"/><circle cx="1342.7" cy="1385.8" r="8.8" fill="#df765e"/><circle cx="1348.1" cy="1379.9" r="8.8" fill="#db6b55"/><circle cx="1275.5" cy="1382.9" r="8.8" fill="#db6b55"/><circle cx="1300.1" cy="1385.8" r="8.8" fill="#e48066"/><circle cx="1318.7" cy="1390" r="8.8" fill="#db6b55"/><circle cx="1260.5" cy="1402" r="8.8" fill="#ef9979"/><circle cx="1274.3" cy="1400.2" r="8.8" fill="#e8896c"/><circle cx="1292.3" cy="1398.4" r="8.8" fill="#eb9172"/><circle cx="1351.1" cy="1403.2" r="8.8" fill="#ef9979"/><circle cx="1383.4" cy="1399.6" r="8.8" fill="#f2a17f"/><circle cx="1215.6" cy="1405.6" r="8.8" fill="#e8896c"/><circle cx="1319.9" cy="1408.6" r="8.8" fill="#e48066"/><circle cx="1239.6" cy="1411.6" r="8.8" fill="#db6b55"/><circle cx="1348.7" cy="1414.6" r="8.8" fill="#ef9979"/><circle cx="1306.1" cy="1418.2" r="8.8" fill="#cb4942"/><circle cx="1550.7" cy="1309.7" r="8.8" fill="#b1182b"/><circle cx="1571.6" cy="1315.4" r="8.8" fill="#cb4942"/><circle cx="1529.3" cy="1321.7" r="8.8" fill="#be3036"/><circle cx="1548.9" cy="1322.3" r="8.8" fill="#d6604d"/><circle cx="1556.1" cy="1335.5" r="8.8" fill="#be3036"/><circle cx="1442.8" cy="1350.5" r="8.8" fill="#d6604d"/><circle cx="1432.6" cy="1358.3" r="8.8" fill="#db6b55"/><circle cx="1414.6" cy="1364.9" r="8.8" fill="#e8896c"/><circle cx="1546.5" cy="1351.1" r="8.8" fill="#e8896c"/><circle cx="1509.3" cy="1354.7" r="8.8" fill="#eb9172"/><circle cx="1503.3" cy="1357.1" r="8.8" fill="#c53e3d"/><circle cx="1491.3" cy="1354.7" r="8.8" fill="#d05548"/><circle cx="1507.5" cy="1350.5" r="8.8" fill="#e48066"/><circle cx="1472.1" cy="1355.9" r="8.8" fill="#eb9172"/><circle cx="1457.7" cy="1363.1" r="8.8" fill="#ef9979"/><circle cx="1411" cy="1385.8" r="8.8" fill="#f4a683"/><circle cx="1252.7" cy="1424.4" r="8.8" fill="#e8896c"/><circle cx="1231.4" cy="1437" r="8.8" fill="#fddcc9"/><circle cx="1231.4" cy="1442.4" r="8.8" fill="#fcdfcf"/><circle cx="1215.6" cy="1446" r="8.8" fill="#fcd7c2"/><circle cx="1261.7" cy="1439.4" r="8.8" fill="#f4a683"/><circle cx="1268.9" cy="1452" r="8.8" fill="#f2a17f"/><circle cx="1289.6" cy="1450.2" r="8.8" fill="#f8bfa4"/><circle cx="1323.5" cy="1432.8" r="8.8" fill="#fbccb4"/><circle cx="1325.9" cy="1441.2" r="8.8" fill="#fddcc9"/><circle cx="1331.9" cy="1442.4" r="8.8" fill="#fcdfcf"/><circle cx="1341.5" cy="1429.2" r="8.8" fill="#fcd7c2"/><circle cx="1307.9" cy="1435.2" r="8.8" fill="#ef9979"/><circle cx="1309.1" cy="1441.8" r="8.8" fill="#eb9172"/><circle cx="1245.6" cy="1465.4" r="8.8" fill="#f4a683"/><circle cx="1269.3" cy="1471.2" r="8.8" fill="#fcd7c2"/><circle cx="1295.5" cy="1465.8" r="8.8" fill="#fbd0b9"/><circle cx="1327.1" cy="1460.4" r="8.8" fill="#fddcc9"/><circle cx="1320.5" cy="1468.2" r="8.8" fill="#fcd7c2"/><circle cx="1215.6" cy="1473" r="8.8" fill="#f8f2ef"/><circle cx="1230" cy="1477.1" r="8.8" fill="#e9f0f4"/><circle cx="1276.5" cy="1488.9" r="8.8" fill="#fcdfcf"/><circle cx="1323.5" cy="1489.1" r="8.8" fill="#fbe3d4"/><circle cx="1326.5" cy="1487.3" r="8.8" fill="#fbe3d4"/><circle cx="1261.3" cy="1500.8" r="8.8" fill="#fbe6da"/><circle cx="1293.3" cy="1505.3" r="8.8" fill="#fddcc9"/><circle cx="1270.1" cy="1517.9" r="8.8" fill="#fbe6da"/><circle cx="1313.3" cy="1514.1" r="8.8" fill="#f8f2ef"/><circle cx="1330.1" cy="1513.7" r="8.8" fill="#f9efe9"/><circle cx="1230.8" cy="1532.1" r="8.8" fill="#f8f2ef"/><circle cx="1218.6" cy="1548.2" r="8.8" fill="#edf2f5"/><circle cx="1279.4" cy="1550" r="8.8" fill="#e6eff4"/><circle cx="1297.7" cy="1555.1" r="8.8" fill="#e9f0f4"/><circle cx="1242" cy="1591.6" r="8.8" fill="#f7f5f4"/><circle cx="1255.7" cy="1594" r="8.8" fill="#f7f5f4"/><circle cx="1276.7" cy="1591.6" r="8.8" fill="#f8f2ef"/></g>
<path class="f" d="M915.1 277.3L915.6 278.9L915.8 280.8L914.1 281.6L912.2 281.7L912.1 279.6L911.7 277.4L913.4 275.4ZM921.5 292L920 292.3L918.3 292L917 291.1L917 289.9L919.6 290.4L921.9 290.9ZM916.4 284.9L918.2 283.4L920.7 282.6L921.7 284.9L921.3 286.6L919.7 287.2L917.2 287.3ZM910.5 287.7L909.4 286.1L908.6 286.5L908.4 284.7L907.1 284.1L906.8 282.4L907.3 281.1L907.6 279.3L908.9 280.2L909.8 279.3L910.7 280.4M917.9 296.7L914.6 289.8L915.5 279.6L918.8 281L921 286.4L921.1 295.2ZM908.4 278L909 277.1L910.3 276.8L912.5 277.9L913.2 279L912.9 279.9L910.4 279.4ZM921.5 286.4L920.6 287.1L919.4 286.5L918.4 285.4L919.1 284L920.7 284.3L921.5 285.3ZM922.8 294.3L926.1 294.6L923.2 296L921.4 296.8L918.8 297.5L916.5 297.2L914.7 296.6L916.4 295.4L918.3 294.7L920.7 294ZM911.5 283.3L910.7 286.1L909.5 287.3L908.3 287.8L907.9 285.8L909.6 283.1L910.8 282.5ZM907.2 300.2L907.8 297.5L907.8 295.2L910.2 293.8L912.3 291.2L915.1 290.3L915.4 293.3L913.7 296.9L911.2 298.8L909.1 300.2ZM909.8 291.1L912.6 295.9L913.9 299.3L913.2 301.4L910.3 300.4L908.5 295.6L907.7 291.9ZM923.8 290.4L922.8 290.6L921.5 289.4L920.7 287.6L920.1 285.3L921.2 284.3L923.3 286.3L924.2 289ZM922.3 296.5L923.1 297.3L921.5 298.7L919.1 298.8L917.5 298.7L915.8 298.2L917.3 296.9L919.5 296.4M916.9 282.1L916.2 283.9L911.6 282.2L908.5 280.6L901.8 278.3L902.1 275.6L904.5 274.6L907.9 273.9L912.9 277.3L918.3 280.2ZM920.5 281.2L921.3 280.2L920.8 278.5L922.2 278.1L923.8 279.2L925.2 280.6L925.2 282L925 283.4L923.6 283.7L922.3 282ZM906.4 292.3L909.1 285.3L912.3 282.9L914.6 283.9L913.8 290.1L910.6 296.8L908.5 294.3ZM459.7 2127.6L462.8 2126.9L466.2 2129.9L464.6 2135.4L463.2 2139.9L459.6 2141.7L456.3 2138.6L456.5 2133.2L455.9 2127.6ZM489 2073.1L486.5 2071.9L487.6 2069.4L489.5 2068L492 2069.2L491.8 2072.4ZM461.6 2077.8L465.5 2078.3L469 2079.5L471.2 2084.6L468.1 2085.2L464.2 2083.4ZM475.4 2134.7L483.6 2138.7L490.5 2143.7L489.6 2146.6L488.8 2148.8L483.5 2148.7L477.5 2142.8L476.6 2139.3ZM485.1 2126.9L482.5 2125.4L482.2 2121.1L482.8 2117.9L482.4 2112.9L485.1 2112.7L487.6 2113.6L489.9 2115.9L489.8 2120.2L490.2 2123.1L489 2124.7M486.9 2089.7L489.9 2096.2L492.6 2103.2L490.7 2106.5L486.1 2103.1L482.9 2095.7L483.1 2091.8L482.8 2086.5ZM476.7 2081.7L479.6 2082.9L481.6 2081.8L484.7 2085.1L486.7 2092.1L487.4 2098.2L485.7 2100L484.2 2100.4L482.4 2102.5M481.1 2121.8L482.4 2122.7L483.6 2123.1L485.2 2124L483.9 2125.9L482.2 2127.3L480.6 2128.6L479.3 2127.7M473.6 2098.6L472.2 2097L474.7 2095.9L476.1 2094.9L477.4 2095.8L480.2 2095.6L479.3 2097.6L478.4 2099.2L476.6 2099.8L474.4 2100.4ZM500.4 2099.7L497.8 2101.9L495.8 2103.1L493.9 2101.9L493.1 2100L493.9 2098L495.8 2094.6L498.2 2097.3ZM461 2112.5L459.4 2111.8L456.1 2112L456.5 2109.8L459.7 2107.5L462.9 2106.5L465.1 2106.7L466.1 2107.7L465.1 2109.3L464.1 2111.3ZM482 2082.4L480 2081.6L478.1 2079.5L475 2076.5L474.9 2073.6L477.1 2073.6L479.6 2076.1L481.8 2078.2L482.3 2080.6ZM483.6 2136.7L487.3 2133.7L494.1 2128.5L493.1 2134.1L495.7 2136.7L490.9 2142.1L485.2 2147.3L481.2 2146L479.1 2144.1L480 2140.3ZM510.3 2108.9L519 2111.2L516 2114.3L516.9 2116.3L516.2 2117.8L517.8 2121.3L514.4 2122.9L506.9 2117L501.3 2116.4L496.2 2113.2L489.2 2109M475.1 2089.4L470.5 2089.7L472.1 2085.8L474.9 2084L480.2 2083.6L477.8 2087.8ZM480.6 2067.8L481.8 2070.5L480.4 2074.3L476.8 2075L474.8 2073L477.2 2069.9ZM466.7 2086.6L467.9 2087.3L469.4 2087.9L469.3 2089.2L466.4 2090.3L463.7 2090.5L460 2091.1L459 2089.8L460 2088.1L463.3 2086.5ZM483.3 2094.7L481.3 2095L479.1 2093.5L477.2 2091.3L478.8 2089.9L480.4 2089.3L482.3 2089.7L483.8 2091L485.7 2093.1M505.5 2092L505.4 2089.4L504.4 2086.5L506 2083.1L508 2083.7L509.1 2083.3L511.5 2080.7L511.3 2084.3L511.5 2086.9L511.4 2090.7L509 2091M507.7 2093.4L503.7 2093.6L498 2092.2L491.1 2086.4L495.6 2084.8L500.5 2083.7L505.3 2089.5ZM466.3 2137.1L475.5 2130L484.7 2129.4L481 2135.8L473.5 2140.8L461.1 2148.5L456.6 2144.7ZM483.2 2114.6L479.3 2106L479.7 2097.5L485.6 2101.4L489.8 2100.8L492.5 2108.6L492 2115.4L487.8 2114.3ZM484 2074.2L485.5 2073.1L488.9 2074.3L490.4 2076.7L491.3 2078.8L489.3 2079.4L486.6 2078L484.3 2076.2ZM486.2 2146.7L482.2 2142.8L482.6 2135.5L488.5 2128.8L491.8 2134.2L491.3 2140.4ZM474.1 2113.1L471.2 2114.7L469.3 2110.3L468.9 2105.5L470.6 2103.6L473.1 2105.8ZM491.1 2119.7L491.4 2117.2L495.3 2119.9L500.1 2120.6L502.6 2124.1L500.9 2126L499.3 2128M499.1 2063.6L502.8 2065.4L501.7 2069.5L497.7 2072.1L493.6 2074.3L489.3 2073.6L485.9 2070.7L489.5 2066.1L494.6 2064.5ZM483.1 2100.6L479.3 2112.4L474.7 2118.3L469.9 2115.9L472.2 2105.4L477.4 2097.2ZM473.3 2116.2L477.4 2117.6L483.3 2120.3L473.6 2122.1L467.6 2125.5L457.9 2125.2L459.9 2120.9L455.1 2118.7L463.1 2117.2L467.9 2115.2ZM490.5 2118.5L494.2 2118.6L496.6 2120.4L499.6 2123.1L497.4 2126.1L494.7 2127.9L491.8 2125.8L489.2 2122.6ZM494 2065.1L494 2073.3L489.7 2077.5L485.3 2083.7L482.5 2077.3L482.8 2069.9L485.1 2061.4L490.4 2060.8ZM482.3 2112.2L483.7 2113.6L484.6 2115.6L483.7 2119.1L481.1 2122.2L478.7 2122.9L476.5 2123.3L476.3 2120.7L477.4 2117.4L479.6 2114.5ZM479.4 2119.4L471.7 2122.3L469.4 2120.1L471 2114.2L481.2 2106L487.2 2106.4L484.1 2112.5ZM502.7 2098.7L504.9 2100.1L507.1 2099.9L509.3 2101.9L508.2 2104.8L506 2106L503.7 2107.2L501.6 2105.7L501.6 2103.1L501.9 2101.2ZM507.8 2080.8L509.1 2080.6L510.4 2083.4L510 2089.1L507.8 2090.6L506.4 2088.8L505.2 2085.8L506.4 2081.5ZM472.9 2109.2L474.2 2104.8L473.2 2101.8L477.4 2098.1L480.1 2098.1L481.6 2099.5L480.9 2103.4L476.9 2107.7ZM464.3 2110.1L465.4 2112.7L467.2 2116.8L466.2 2119.7L465.6 2123.3L463.7 2119.7L461.8 2118.1L460.8 2112.9M475.1 2072.8L473 2075.4L466.7 2073L464.8 2069.4L467.1 2067.1L472.9 2067.3L478.8 2070.7ZM474.9 2116.5L476.1 2114.7L479.2 2114.8L484.8 2116.9L485.5 2120.5L483.3 2122.1L478.5 2119.6ZM482 2089.5L486.7 2086.2L496.2 2086.2L502.3 2087L505.5 2088.8L510.1 2091.8L502.4 2093.8M468.1 2128.8L475.1 2131.6L479.4 2135L484.4 2142.2L477.7 2139.7L472.7 2136.4ZM502.9 2128.3L499.4 2126.6L493.7 2124.7L492.2 2114.5L494.6 2110.2L498.2 2108.7L503 2115.7L505.3 2124.6ZM483.7 2081.4L478.1 2085L471.9 2090.3L473.1 2082.1L471.8 2075.9L477.8 2069.1L483.7 2068L482.4 2075.7ZM451.8 2127.2L457.5 2125.9L463.3 2126.6L463.9 2129.8L463.5 2132.9L458.3 2133.3L454.6 2132.8M469.6 2089.7L466.4 2085.7L470.6 2083.8L475 2081.3L477.7 2086.4L476 2090.2L473 2094.6ZM472.6 2088.8L479.1 2088.1L486 2089.8L489.1 2094L497.3 2099L494.1 2103L485.9 2102L480.2 2097.4L475.6 2094ZM470.3 2096.8L469.5 2095.7L470.2 2094.9L470.8 2094.2L471.9 2094.5L472.8 2093.1L473.5 2094.5L474.1 2095.2L474.1 2096.1L475.8 2097.1L474.6 2097.8M487.3 2099.2L492.7 2099.3L494.3 2103.8L492.1 2113.6L482.8 2120.7L478.8 2119.4L477.9 2115.4L479 2107.6ZM488.2 2141.5L484.2 2142.5L484.8 2138.8L487 2136.2L490.4 2134.2L491.3 2137.2ZM470.1 2131.7L469.4 2136.4L466.7 2140.2L464.2 2139L461.8 2138.9L461.4 2135.2L460.8 2130.9L463.3 2126.7L466 2124.6L468.8 2124.2M467.8 2116.9L469.1 2123.2L468.5 2129.2L467.3 2137.3L463.8 2130.6L459.3 2131.2L459.2 2122.7L461 2116.4L464.4 2114.6ZM494.6 2113.2L493.4 2110.4L496 2106.3L497.2 2103.2L500 2100.4L503.3 2098.9L505.7 2099.7L509 2098.2L509.1 2100.8L513.3 2100.9L513.7 2104.3M459.1 2064.4L458.9 2061.4L460.8 2058.8L467.5 2058.1L474.1 2059.9L475.2 2062.8L474.9 2065.1L471.7 2067.1L465.7 2065.6ZM502.4 2107L498.2 2105.1L496 2103.1L492.2 2100.7L493 2098.2L497.7 2099L502.1 2099.1L503.5 2102.2L504.6 2104.4M474.7 2095.2L470.5 2094.4L468.5 2094.1L466.2 2095L463.6 2095.1L460.1 2094.7L462.7 2091.3L461.9 2089L463.5 2086.2L467.7 2086.8M488.1 2110.8L478 2109.9L474.9 2106.2L485.3 2103.4L492.2 2104.9L497.1 2107.5ZM571 2375.8L572 2374.9L573.1 2375.6L574.2 2375.7L575 2376.5L574.6 2377.7L574.2 2378.5L574.4 2379.8L573 2379.9M556.6 2364.8L556 2362.6L558.5 2360.3L561.5 2357.9L566.6 2357.2L572.3 2356.6L576.2 2358.4L569.8 2362.1L563 2363.3ZM536.7 2378.1L532.4 2369.1L530 2361L531.6 2356.8L535.3 2354.3L540.9 2363.8L546.1 2373L544 2377.6L543 2384ZM519.2 2370.4L520.5 2376.5L518.5 2380.5L511.5 2377.5L506.6 2372.5L501.6 2366.2L504.6 2362.5L511.8 2365.5ZM489.6 2332.4L486.4 2335.8L484.7 2332.7L481.9 2333.7L483.2 2330.1L482 2327.8L483.8 2324.4M455.9 2225.6L445.4 2225.5L435.5 2222.6L434.9 2218.6L443.4 2218L460.8 2220.3ZM479 2181.8L482.6 2180.8L486.3 2184.2L486.8 2196.3L482.3 2206.6L478.4 2198.8L476.1 2191.2M421.3 2269.8L418.5 2267.4L415.3 2264.6L423.1 2260.8L429.9 2259.4L437.5 2258.1L443.7 2259.9L434.5 2264.6L429.5 2268.9ZM490.5 2284.5L489.4 2286.2L485.3 2283.4L482.4 2279.6L480.9 2277L480.4 2275.1L480.8 2273.4L483.8 2275.5L487.6 2277.5L489.9 2281.6ZM424.5 2212.4L429.5 2213.6L433.1 2216.1L432.9 2220.4L428.5 2220.6L425.5 2219.6L422.8 2216.6ZM460.7 2180.7L462.6 2182.2L464.5 2184L464.6 2186.2L462.3 2186.2L460.7 2187.5L458.8 2185.4L458.6 2183.7L457.2 2181.6L458.1 2179.8ZM470.8 2318.7L476.8 2316.6L479.6 2313.2L484.2 2312.9L488 2314L487.4 2317.4L488.4 2320.6L483 2322.2L479.5 2324.4L475.2 2324.6M493.6 2330.7L495.8 2330.9L498.8 2331.2L499.6 2333.7L497.8 2335.1L497 2337.7L494.1 2336.3M476.1 2281.1L473.7 2279L473.1 2274.6L478.8 2268L484.8 2262.4L491.3 2259.8L494.4 2263.6L488.3 2272.8L481.5 2281.4ZM445.3 2243.3L442.2 2251.3L436.1 2246.7L429.6 2241.4L435.1 2235.9L441.6 2235.1ZM442.6 2225.7L448.2 2224.8L453.8 2223.2L456.6 2224.9L458.6 2226.5L454.3 2228.2L449.6 2230.2L443.8 2229.5L442.1 2227.7ZM448 2259.9L450.4 2259.8L449.6 2261.2L449.1 2262.6L446.8 2263.5L444.6 2264.4L442.3 2264.7L440.4 2264.2M510.3 2368.7L510.4 2372L506.8 2373.7L503.4 2370.9L499.1 2370.1L498.7 2366.7L502.3 2365.8L505 2363.9L508.5 2365.9ZM449.2 2300.5L447.1 2304L445.2 2308.1L442.4 2306.3L440.5 2303.8L442.3 2300.2L442.9 2296.3L445.9 2293.8L448.7 2295.9ZM488.6 2366.4L492.7 2357.6L496.9 2350.4L500.7 2349.9L501.2 2357.1L496.4 2365.2L493.3 2369.5L490.3 2370.9ZM494.8 2358.6L495 2360.9L496.2 2364.7L494.2 2365L493.7 2367.9L492.4 2367.7L490.9 2369.2L490.2 2365.6L490 2362.7L488.8 2360.8L488.2 2357.5M446 2274.9L447.3 2273.7L448.1 2275L448.6 2275.9L448.5 2277L447.7 2277.6L447.1 2278.6L446 2278.2L444.8 2278L444.4 2277L443.4 2275.7M524.6 2372L525.5 2374.3L524.5 2376.1L522.2 2376.5L519.4 2374.8L519.8 2371.9L521.8 2369.4ZM516.5 2325.7L517.3 2327.8L515.4 2331.4L512.3 2332.6L508.4 2333.9L509.7 2329.4L512.4 2326.5L515.8 2322ZM480.6 2248.4L476 2253.2L469.1 2253.1L466.6 2247.2L467.3 2240.5L475 2242.9ZM464.1 2308.2L465.3 2306L468.2 2304.6L470.2 2306L469.9 2307.9L466.6 2310ZM516.5 2361.3L516.1 2358.7L515.9 2356.1L518 2355.2L519.9 2356.2L522.1 2357.9L520.4 2360.1L518.8 2361.3ZM572.5 2378.5L575.6 2376.7L578.6 2382.3L583.6 2385.6L582.6 2392.2L579.9 2394.4L577.6 2396.6L574.1 2394.2L570.5 2388.9L571.8 2383.4ZM419.6 2261.7L419.8 2257.3L424.9 2252.7L430.1 2253.2L435.5 2253.1L433 2258L430.9 2261.8L425.6 2268.1L418.7 2267.4ZM506.2 2308.5L509.1 2311.7L510.7 2315.9L509.2 2319.8L507.9 2324L504.4 2323.7L500.1 2324.6L499.2 2319.3M499.8 2352.6L496.9 2349.2L496.9 2346.3L503.2 2348.4L508.3 2352.8L508.9 2355.6L504.9 2355.1ZM459.3 2318.7L462.5 2319L464.4 2320.3L467.7 2321.3L471.9 2323.4L469.1 2325.1L467.3 2327L462.9 2328.2L457.8 2325.7L454.8 2324.7L451.2 2323.9M438.7 2314.6L445.8 2314.7L457.1 2317.4L462.8 2323.3L457 2326.1L447.8 2324.4L437.8 2325.2L430.8 2319.3L436 2316.6ZM522.2 2322.8L527.7 2323.3L527 2329L527.5 2334.2L522.5 2336L517.4 2334.3L516.6 2329.1L518.2 2324.9ZM479.7 2269.2L478.4 2271.4L476.6 2272.9L474.2 2271.3L474.3 2267.6L476 2264.5L479 2265.6ZM570.5 2363.9L563.5 2363.2L560.5 2359.6L558.7 2356.6L561.6 2355.1L566.8 2354L572 2358.3M450.7 2298L450.8 2301.8L447.5 2302.6L445.3 2303L442.1 2302L442.4 2298L445.7 2297.1L448.3 2295.7ZM460 2208.1L462.7 2209.1L463.9 2210.7L465.5 2213L461.8 2212.1L459.4 2211.5L457.7 2210.1L455.1 2208.6L454.2 2206.5L457.1 2206.6ZM481.9 2255.1L484.6 2255.6L486.8 2258.7L486 2261.5L484.5 2262.2L482.6 2262.9L481.4 2260L481.3 2257.7ZM481.3 2286.6L471.2 2287.6L461.8 2287L468.6 2282.5L476.2 2279.2L481.6 2281.9ZM438.8 2248.2L432.4 2250.9L434 2245.3L433.9 2242.1L437.7 2237.1L441.1 2239.6L445.8 2239.8L445.2 2245ZM535.2 2353.7L535.6 2355.5L537.2 2353.7L537.6 2355.1L536.9 2357.3L536.3 2358.7L535.6 2359.7L535.3 2362.8L533.9 2364.1L533.1 2362.9M433.7 2251.6L429.4 2246.7L423.4 2242.4L425.2 2239.6L420.2 2233.8L421.1 2231.4L424.8 2232.1L427 2229.5L433.3 2238L438.1 2240.6L442.2 2245.3M485.1 2158.9L481.8 2166.5L478.8 2174L473.5 2181.6L471.8 2177.4L469.7 2174.4L474.5 2165.9L477 2158.7L482.4 2150.2L484.3 2154.3ZM463.5 2215.3L465.9 2215.9L467.4 2219.3L469.1 2224L467.1 2228.8L464.3 2229.7L462 2229.7L459.3 2227.6L459.4 2221.9L461 2217.3ZM514.7 2335.6L517.1 2332L522.1 2329L526.3 2329.7L524.8 2334.2L523.9 2337.3L520.7 2340.3L515.5 2344.5L513.8 2340.9M466 2235.4L462.4 2233.8L460.2 2230.5L463 2230.5L466.6 2231.4L467.5 2234.4ZM492.4 2184.9L490.6 2183.6L491.4 2181.8L492.5 2180.5L494.7 2181.3L493.8 2183.4ZM473.8 2345.9L472.6 2343.5L470.9 2340.4L470.9 2335.5L472.8 2333.3L474.3 2331.1L476.2 2331.7L477.1 2335.6L478.5 2337.9M484.6 2218.7L490.4 2219.2L493.1 2221.1L490.4 2222.7L488.2 2224.3L483.8 2223.5L477.8 2223.5L475.4 2221.3L478.1 2219ZM459 2298.9L465.1 2295.5L462.1 2301.6L459.1 2306.8L454 2309.7L452.5 2307.5L449.1 2305.6L455.5 2300.5ZM559.1 2360.6L562.7 2365.4L555 2367.2L545.2 2364.7L534.8 2361.3L539.2 2358.2L547.7 2358ZM455.2 2238L450.7 2242.8L445.7 2247.2L442.9 2246.2L439.5 2246.2L444.6 2237.5L440.9 2235.8L448.5 2230.1L450.9 2226.3L453.9 2223.7M569.8 2381.6L571.4 2385.3L575.6 2392.1L574.9 2396.9L572.4 2399.6L567.7 2396.7L564.6 2388.9L559.6 2385.3L556.2 2377.7L558 2373.5M554.9 2363.5L556.5 2367.8L561.6 2372.9L553.8 2370.4L547.7 2369.1L542.2 2364.4L541.6 2360.7L546.5 2359.7ZM457.1 2304.6L457.8 2307.7L457.4 2310L458.6 2312.8L457.9 2313.8L457.5 2315L457 2316.7L455.9 2313.8L455.1 2312.7L454.1 2311.3M446.1 2320.5L446.3 2313.8L447.6 2308.3L449.8 2306.2L451.7 2304.7L453.1 2306.7L454.1 2309.5L456 2315.1L453 2319.3M457.9 2258.2L457.9 2256L460.3 2255.7L462 2256.9L462.3 2258.2L461.7 2259.2L460.1 2259.1ZM489.9 2200.5L496.6 2196.9L504.3 2195L502.2 2199.8L501.9 2202.9L497.9 2207.1L491.5 2212.4L483.4 2214.7M571.3 2362.8L573 2365.5L569.6 2366.8L567.3 2366.8L565.3 2366.5L564.3 2364.9L564.8 2363L565.6 2360.6L568.1 2360.8L570.5 2360.9ZM551.9 2360.7L547 2365L546.5 2361.1L547.1 2357.1L552.8 2352.9L554.9 2356.2ZM539.6 2329L540.4 2333.7L543.7 2335.3L541.4 2344.1L539.8 2355.1L535.8 2352.2L531.3 2361.3L531.5 2351.6M469.8 2212.9L473.5 2216.7L476.5 2217.3L477.9 2224L480.7 2230.6L477 2233.5L477.1 2242.3L473.6 2238.2M428.5 2220.4L425 2220L424.6 2213.3L425 2208.6L426.2 2203.6L429.2 2198.1L432.9 2200.4L433.8 2208.2L432.5 2216.8ZM514.9 2365.2L519.4 2367.4L520.7 2372.2L517.6 2375.9L515.4 2379L512 2378.8L509.8 2376.2L510.1 2372.4M475.5 2322.5L469.6 2323.9L463.9 2323.5L462.3 2319.1L462.3 2315.3L467.1 2311.2L472.2 2317.1ZM477.2 2293.7L476 2288.7L474.9 2283.3L479.9 2278.8L486.1 2273.6L487.5 2280.2L487.3 2286.7L482.9 2294.4ZM546.2 2379L546.1 2377.8L548.2 2376.6L551 2375.9L552.6 2376.8L557 2376.1L553.9 2378.3L554.1 2379.4M448.6 2348.2L459.4 2339.6L468.6 2338.4L479 2336.1L470.4 2344.4L465 2349.2L458 2351.6M467.9 2345.2L464.3 2342.5L460.6 2338.3L455.1 2330.9L453.7 2323.4L460.5 2327.1L465.9 2330L471.3 2337.4L475.9 2345.8L476 2352.4ZM471.2 2337.5L471.3 2340.8L467.7 2339.3L465 2339.3L462.9 2337.3L457.8 2335.4L461.3 2332.8L460.9 2330L464.2 2330.3L466.3 2329M452.3 2291.3L447 2291.2L451.9 2288.1L455.2 2286.2L457.4 2283.5L462.2 2281.5L466.8 2281L471.1 2281L468.5 2284.4L467.5 2286.1L465.7 2287.6M504.1 2357.2L502.8 2356.4L504.6 2352.3L507 2347.6L510.5 2344.3L510.1 2348.3L510.3 2350.3L509.1 2354.9L505.4 2358.8ZM496.5 2335.6L494.2 2336.2L492.7 2337.2L490.6 2337.4L491.3 2335.6L491.7 2334.6L492.6 2333.1L494.2 2333.3L496 2333L495.7 2334.3ZM449.4 2230.6L453.4 2229.6L457.7 2226.9L456.9 2234.1L458.1 2241.4L452.8 2245.6L449.2 2247.1L444.5 2247.5L445.1 2238.5ZM449.5 2276.6L453.1 2280L452.8 2282.2L451 2282L449.7 2283.7L445.9 2280.1L443.5 2276.3L442.9 2273.2L446.5 2274.8ZM485.5 2296.5L490 2295.8L495.6 2291.7L494.5 2297.6L498.9 2299.4L494.1 2303.7L491.2 2309.1M475.4 2181.4L482.6 2181.6L482.2 2186.2L480 2190.3L473.2 2191.2L468.3 2188.8L469.5 2184.3ZM487.2 2330L490.5 2333.6L489.2 2338.1L487.4 2341.2L484 2343.1L481.4 2339.6L479.9 2336.4L479.8 2332.2L483.1 2330.5ZM435.5 2193.5L441.5 2201.7L444.3 2210.6L437 2209.6L430.6 2199.1L429.5 2192.2ZM462 2227L461 2224L460.1 2221.6L461.7 2219.6L463.3 2218.4L465.1 2217L468.1 2215.9L469.6 2218.7M445.4 2202.8L447.6 2203.8L448.3 2205.9L448.3 2208L446.7 2209.3L445.1 2210.9L443.3 2209.6L441.4 2208.8L440.5 2206.8L441 2204.3M496.7 2369.4L500.8 2368.2L501.3 2366.4L504.9 2366.8L507 2366.7L511.2 2365.2L509.8 2367.7L512.5 2368L512.5 2369.3L510.5 2370.5M540 2352.1L541.8 2352.9L542.8 2354.9L543.7 2357.4L543.4 2361.2L541 2362.1L539.3 2359.7L537.3 2357.4L539 2354.6ZM474.2 2252.4L478.7 2257.3L479.6 2264.1L477.8 2267L473.9 2263.9L469.3 2258.8L466.1 2250L467.9 2246.3L471 2247ZM512.6 2351L512.4 2355.9L507 2352.3L501.3 2345.6L498.3 2338L502.8 2338.2L503.1 2333.8L508.2 2334.9L511 2343.7L516.1 2350.3ZM450.2 2194.7L453.8 2199.7L453.9 2205.7L451.6 2210.6L448.1 2205.2L444 2201.1L447.1 2197.6ZM457.8 2319.3L450.6 2317.3L444.6 2315L448 2312.1L453 2311L456.5 2314.6ZM498.7 2312.3L494.7 2310.8L493.7 2309L494.5 2307.1L500 2308.4L503.7 2310.6L504.2 2313ZM468.1 2216.3L469.7 2211.6L472.2 2208L476.3 2210.3L478 2215L479.2 2219.4L478.1 2223.9L474.3 2224.9L469.5 2223.1ZM575.2 2382.1L576.5 2388.1L572.4 2392.1L567.8 2391.2L563 2390.4L562.3 2384.7L563.9 2379.8L567.8 2377.2L572.5 2377.4ZM541.6 2371.7L541.1 2373.9L538.7 2374.4L536.6 2373.8L535.6 2372.5L535.3 2371.2L533.9 2369.8L534.4 2367.7M453.2 2285.2L454.7 2286.9L458.5 2287.7L459.3 2290.7L457.6 2292.8L455.3 2293.8L452.9 2293L450.2 2295.1M455.5 2291.9L454 2287.8L455.2 2280.8L461.2 2280.6L466 2278.6L465.9 2284L464.9 2287.8L463.5 2294.5L459.2 2292ZM494.1 2210.3L497.7 2213.2L496.1 2215L495 2216.8L489.9 2216.8L486 2213.7L483.4 2211.2L484.6 2209.3L488.9 2209.5ZM566.9 2350.8L568.5 2349.9L568.9 2351.4L570.7 2352.1L571.3 2353.7L570.9 2355.4L569.1 2356.3L567.1 2355.1L565.6 2356.2L563.8 2355.9M513.9 2343.2L509.6 2339.4L514.3 2336.8L523.9 2337.8L531.9 2340.1L543.9 2343.8L542.1 2348.2L533 2349.9M431.1 2241.3L431.9 2238.6L432.8 2235.8L435.8 2236.2L438.4 2237.8L437.5 2240.5L436.2 2242.5L433.7 2242.7ZM507.9 2351.9L506.3 2354.6L499.5 2349.2L494.8 2342.3L494.4 2338L499.8 2340.8L503.8 2340.7L507.2 2346.9L510.6 2351.7ZM558.5 2373.2L561.9 2371.9L565.1 2373L564.2 2375.5L570.5 2376.9L568.1 2379L567.2 2381.4L564.6 2383.6L559.7 2383.4L555.3 2382.9M468.1 2347.1L465 2347L465.8 2345.2L467.9 2343.6L470.7 2343.4L472.6 2343.8L474.1 2344.9L472.1 2346.5M488.8 2335.5L486.8 2332.1L490.2 2332.5L492 2332.6L494.4 2331.5L494.3 2334.4L497.6 2335.7L496.8 2338.4L494.3 2339.6M442.2 2238.4L444.6 2230.7L447.9 2225.7L453.1 2219.9L453.2 2228.6L452 2237.1L447.6 2242.1L443.7 2243.7ZM457.9 2194.1L456.8 2186.1L464.4 2190.9L470.1 2191.6L473.5 2200.4L477.5 2208.4L475.5 2213L469.1 2210.5L461.4 2203.4ZM472.1 2245.5L473.5 2239.8L476.5 2239.9L479.7 2239.3L478.8 2244.8L477.1 2249.9L474.1 2251.1L470.7 2254.3L469 2251ZM446.9 2296.5L443.5 2296.1L441.8 2295.4L441.4 2293.5L446.1 2290.4L450.3 2290.4L450.7 2291.8L449.8 2293.6ZM479.3 2249L471.1 2254.3L463.6 2253.5L460.2 2250.3L465.1 2244.9L473.1 2240.8L483.4 2236.9L489.7 2239.2L483.8 2245.1ZM450.3 2288.5L447.9 2286.3L451.3 2278.8L456.3 2275.1L457 2279.5L458.5 2284.3L452.9 2290.9ZM481 2273.7L483.6 2269.5L485 2266L490.8 2266.5L495.2 2269.1L492.6 2272.5L487.8 2275.1ZM453.7 2221.8L456.1 2221.2L458.8 2224.8L459.2 2230L458.2 2234.6L454.9 2233.3L452.5 2229.8L449.8 2225.6L450.1 2220.1ZM460.5 2327.8L465.8 2333.1L470 2338.4L472.5 2345.2L472.8 2352.7L465.7 2346.1L460.9 2342.4L455.4 2334.6L455.4 2327.5ZM469.6 2236.1L462.8 2235.5L458.6 2231.6L466.6 2229.6L471.9 2228L477.2 2229.8L481.9 2233.2L475.9 2236ZM439.1 2245L442.4 2243.5L447.7 2243.8L450.5 2246L451.5 2248.7L447.2 2250.2L439.2 2251.8L436.5 2247.5ZM476.3 2177.3L482.7 2174.1L486.9 2175.1L487.1 2178.7L481.8 2183.6L475.2 2185.3L467 2187.1L466.4 2182.1ZM536.6 2382.2L540.9 2376.6L544.8 2378L545.2 2381.8L544.4 2389.6L536.9 2391.1L532.3 2389.1ZM450.4 2244.1L449.8 2244.8L450.4 2245.9L448.3 2246.5L445.5 2247.1L443.1 2246.1L442.3 2245.2L440.6 2244.4L442.1 2243.7M432.5 2251.6L429.9 2255.1L424.1 2255.5L422 2250.9L422.2 2246.1L427.6 2245.6L433.3 2244.1M437.4 2235L438.2 2232.3L444.4 2232.8L454.2 2234.7L460.4 2240.5L457.9 2243.7L449.6 2242.8L439.9 2239.4ZM500.6 2329.5L504.2 2336.1L508.5 2343.4L503.5 2344.4L497.9 2344.5L493 2337L491.2 2330.4L493.8 2326.2ZM473.3 2227.5L469.6 2220.6L464.4 2211.7L469.8 2214.3L474.4 2215.4L476.3 2223.1L479 2231.2ZM513.6 2359.9L514.9 2366L515 2370.8L512.4 2371.5L510.1 2364.9L510.6 2359.1ZM506.2 2315.6L499.9 2314.2L498 2310.3L500.3 2307.1L503.1 2304.6L508.2 2303.2L512.4 2305.3L512.6 2308.8L510.7 2312ZM426.4 2250.9L434.2 2249.1L444.1 2258.5L446 2265.1L437.5 2265.6L423.1 2256.6ZM472.9 2301.8L475.9 2296.9L478.6 2299.1L479.7 2304.7L476.3 2310.2L472.5 2312.2L471.3 2307.3ZM452.8 2265.1L457.3 2266.3L463 2271.4L463.7 2277L463.9 2282.6L457.9 2280.5L453.7 2273.3L450.9 2267.8ZM443.3 2266.3L454.7 2256L459.3 2259.4L460.1 2263.8L455.2 2271.5L448.3 2275.5L443.9 2275.4M447.2 2341.3L441.2 2340.3L441.1 2337L437 2333.6L440.3 2330.6L447.4 2331.1L454.4 2332.5L457 2336.2L456.9 2339.5L454.3 2342.7ZM457.8 2253L447.6 2258.2L437.3 2256.8L443 2250.7L450.1 2246.3L460.1 2245L466.9 2247.6ZM441.8 2196.5L439 2202.7L433.4 2199.2L428.3 2188.2L426.4 2173.5L433.5 2177.7L439.9 2183.3ZM561 2371.9L558.6 2374.7L557.1 2376.5L553.5 2374.2L548.6 2370.4L552.2 2369.1L555.4 2367.6ZM459.9 2208.5L459.6 2212.7L456.5 2213.4L449.8 2209.2L445.7 2202.4L446.5 2198.6L453.1 2203.9ZM434.3 2247.5L437.1 2252.5L439.5 2258.1L432.4 2254.2L427.7 2253.5L422.7 2248L420.1 2242.7L424.3 2242.6L428.9 2245.3ZM475.1 2235.6L478.8 2237.4L480.6 2239.8L480.2 2241.2L478.5 2241.5L475.8 2240.5L473.5 2239.3L470.5 2238.3L468.9 2236.3L465.6 2233.5L469.3 2234.2M433.9 2232.8L438.1 2230.5L440 2231.9L440.6 2235.3L439.6 2242.3L435.2 2245.1L430.7 2247.9L430.6 2241.1ZM482.6 2272.9L476.7 2272.2L473.3 2270.7L470.8 2266.9L477.5 2266.3L482.1 2265.9L482.2 2268.9ZM462.2 2194.7L457.3 2181.7L464.7 2185L471.8 2190.5L477.3 2201.3L478.3 2209.1L476.7 2213.7L471.8 2215.3L465 2203.3ZM474.6 2169.7L471.7 2171.9L468.8 2168.6L466.1 2166.7L463.2 2162.5L466.7 2159.9L470.2 2159L474.2 2159.7L474.8 2163.9L475.2 2166.6ZM426.6 2232.5L435 2221.6L441.5 2214.2L443.7 2222.2L437 2232.2L432.3 2235.2ZM460.6 2347.8L453.7 2348.3L456.3 2343.8L457 2340.3L461.9 2339.5L466 2338.1L468 2340.7L473.3 2342.3M462.8 2314.9L464.8 2310.3L469.6 2312.7L471.1 2315.6L472.1 2319.9L467.5 2321.2L462.6 2319.7ZM535 2369.9L530.5 2362.6L535.5 2359.6L542.3 2361.9L546.3 2369.1L540.9 2370.5ZM516.7 2352.2L521 2356.3L523.9 2357.3L524.5 2360.3L524.8 2363.2L523 2365.7L519.2 2367.8L517 2362.8L514.4 2359.8L515.2 2356.3ZM485.2 2178.9L486.5 2177.7L488 2179L490.1 2178.3L489.6 2180.2L491.5 2180.8L492 2182.4L489.7 2182.8L489.2 2184.4M473.5 2237.3L471.6 2237.8L469.4 2237.6L466.9 2235.9L468 2232.7L471.4 2232.3L473.7 2232.2L476.7 2233L476.7 2236.1ZM459.5 2176.4L459.5 2177.9L459.4 2179.7L458 2181.1L456.4 2182.4L455.1 2180.7L453.9 2181.1L453.4 2180.2L451.8 2179.8L453.6 2178.1L452.4 2176.5M491.7 2318.6L490.7 2321.2L486.8 2323.8L484.4 2323.9L483.2 2322.8L485.3 2320L488.9 2316.6L490.6 2317.8ZM431.8 2274.9L432.7 2273.7L433.8 2271L436.4 2270.8L436.5 2274.5L437.4 2275.7L438.6 2277.5L437.9 2279.5M461.7 2254L461.9 2256.2L461.8 2258.4L460.2 2258.9L459.1 2258.7L457.6 2257.7L458.9 2255.7L460 2254.6ZM520 2340.1L520.3 2339.2L521.5 2338.4L524.1 2339.7L525.5 2341.3L525.9 2342.6L525.2 2343.5M570.1 2382.1L571.5 2379.5L574 2379.6L575.8 2381.4L575.1 2384.5L572 2384.4ZM485.9 2326.7L485 2329.1L481.7 2329.8L478.4 2327.5L479.2 2324L482.2 2321.2L485.1 2324.5ZM473.8 2208.7L471.1 2208.6L468 2207L471.8 2202.7L474.3 2198.6L478.4 2194.3L482.7 2193.7L487.5 2192L489.6 2194.3L485.8 2200L487.5 2202.3M465.2 2183.9L464.1 2181.3L460.8 2179.5L461.3 2177.9L464.8 2178.1L468 2179.7L471.6 2180.6L474 2182.7L472.3 2183.9L468.8 2183.3ZM452.4 2242.6L449.2 2243L445.6 2239.4L445.1 2235.7L445.1 2232.5L448 2232.5L451 2232.1L455.2 2234.8L456.4 2239M435.6 2200.5L439 2202.3L440.7 2205.9L437.5 2206.6L434.6 2205.7L432.8 2202.3ZM484.8 2265.5L484 2269.2L479.9 2268.2L478.1 2263.7L480.9 2261.4L483.7 2262.7ZM553.2 2361.4L552.3 2361.2L551.3 2363.3L550.5 2360.1L549.7 2357.9L549 2355L550.2 2354L550.9 2353.3L551.6 2351.5L552.9 2352.6M424.1 2247L427.7 2248.6L430.3 2252.3L430.8 2255.7L432.6 2259.4L429.8 2260.1L428.3 2262.1L425.1 2262.4L422.3 2258.6L418.8 2255.5L418 2251.4M461 2263.1L464.2 2264.6L465.7 2265.1L467.7 2266.7L470.6 2269.2L470.6 2271L468.7 2270.6M540.9 2353.4L528.6 2349.1L527.4 2342.5L533.7 2341.3L541.1 2344L542.6 2348.2ZM481 2283.7L477.8 2281.7L478.4 2278.3L479.1 2276.9L480.7 2277.1L482.8 2280.1L485.2 2285L483.3 2286ZM475.9 2183.1L474.1 2177L477.1 2174.4L479.8 2173.9L483.2 2176.7L483 2182.4L479.7 2183.7ZM471.8 2268.9L466 2271.3L459.1 2271.2L458.9 2268.7L459.4 2266.8L464.3 2265.3L469.8 2265.8M507 2324.9L507.4 2328.3L509.5 2332.6L505.8 2333.8L502.7 2335.7L498.8 2330.7L495.3 2329.8L495.1 2326.9L491.4 2323.5L493.6 2321.5L494.6 2317.7M459.6 2308.1L457.2 2311.5L455 2311.5L454.2 2309.3L457 2306L460.3 2302.3L462.1 2304ZM453.6 2259.8L462.4 2260.6L468.8 2265.5L457.9 2267.7L449.8 2266.3L438.7 2264.2L446.2 2260.5ZM556.9 2347.6L555.6 2352.2L553.1 2355.5L551.5 2355.1L550.7 2353.5L550.3 2350.9L552 2346.7L554.2 2343.3L556 2343.1L557.5 2343.6ZM488.3 2252.7L488.8 2256.8L487.2 2262L485.3 2261.3L484.5 2260.2L483.7 2257.8L485.1 2254.6L486.6 2252.6ZM522.9 2334.5L524.4 2336.4L524.3 2338.4L522.1 2338.4L519.9 2337.1L518.5 2335.3L518.5 2333.8L518.7 2332.4M457.5 2213.5L459.2 2216.2L457.5 2219.2L454.4 2217.3L453.8 2213.5L455.7 2212ZM445.7 2205.2L447.1 2198.7L449.1 2191.1L453.9 2184.4L455.1 2189.8L456.6 2192.2L454.2 2198L452 2206.4M455.6 2270.1L454.8 2269.1L453.9 2267.8L453.9 2265.6L452.5 2262.6L454.4 2263.1L454.1 2260.4L454.7 2259.2L455.6 2258.5L456.6 2260.7L457.6 2261.7M448.8 2231.5L446.2 2230.3L442.4 2231.6L441.5 2228.1L439.5 2224.6L443.9 2223.4L444.9 2219.2L448 2221.3L449.5 2223.4L450.9 2225L453.4 2227.9M472.6 2248L472.8 2249.8L471.1 2249.2L469.5 2249.4L467.6 2248.1L467.8 2246.1L468.9 2244.9L470.6 2244.7L472.5 2245.4M508.2 2375.3L500.7 2373.1L492.3 2365.4L492 2359.7L493.4 2356.2L499.8 2357.2L509 2364.6L507.1 2369.4ZM437.4 2276.5L431.5 2280.5L427.7 2279L429.3 2275.8L433.7 2272.9L440.3 2270.1L440.4 2273.1M508.5 2353.4L503.9 2353.3L503.4 2349L501.7 2345.1L505 2341.5L510.2 2343L512.8 2347.1L510.6 2350.5ZM520.7 2311.1L527.1 2319.6L526.9 2324.5L521.5 2320.7L515.3 2314.9L515.9 2310.5ZM484.2 2210.3L482.9 2213.1L479.8 2214.7L475.3 2217.8L473.4 2215.4L470.3 2213.2L476 2209.3L478.8 2207.2L481.5 2206.6L484.9 2205.7M465.4 2329.4L463.4 2328.8L464.1 2327.1L467.3 2326.8L469.9 2326.5L470.7 2327.6L470.6 2329.2L467.4 2329.9ZM480.2 2204.7L475 2204.8L471.4 2199.2L469.7 2193.6L473.5 2191.5L477.8 2194.9L480.7 2199.4ZM449.6 2169.2L451.9 2168.3L454.6 2167.3L459.4 2172.2L461.7 2178.4L464 2184.4L460.8 2184.4L458.1 2184.9L453.4 2180.6L450.5 2174.2ZM472.2 2196L469 2194.1L465.6 2191.5L463.2 2186.8L464.2 2184.3L467.2 2185.9L470.2 2187.4L472.7 2191.8M458.8 2279.2L458.2 2276.6L459.7 2273.6L461.5 2271.2L462.7 2273.2L464.8 2273.6L463.6 2277.1L462.1 2280.1L460 2281.2ZM509.1 2357.6L511.4 2360.3L508.9 2362.2L505 2362L503.7 2364L500.7 2363.6L498.6 2361.7L494.8 2360.8L494 2358.4L495 2356.5M579.6 2390.1L573.5 2388.9L567.7 2388.3L559.7 2386.4L565.6 2383.8L569.5 2381.9L576.1 2379.4L584 2381.2L586.9 2384L591.2 2386.9M442.4 2193.5L442.4 2194.8L442.6 2196L441.2 2196.8L439.7 2197.3L437.8 2197L436.8 2195.7L437.8 2194.3L438.5 2193.3M479.3 2283.5L476.7 2283.9L477.1 2279.5L480.3 2276.5L483.4 2273.9L482.8 2277.9L482.1 2282ZM479.3 2271.6L476 2274.8L473 2273.3L471 2271.3L471.6 2267.2L475.9 2266.8L479.6 2267.5ZM519.7 2340.2L517.4 2337.4L519 2333.8L520.9 2331.4L523.6 2328.8L526.6 2330.6L529 2333.1L529.5 2337.2L525.9 2339M426.9 2243.4L429.9 2238.9L432.5 2246.1L434.2 2250.2L435.9 2254.8L437.9 2262.9L434.4 2267.2L434 2277.9M449.5 2298.1L450.1 2293.2L455.8 2292.2L459.6 2289.7L462.7 2293.3L466 2295.9L463.5 2298.5L460.2 2299.4L454.5 2302.2ZM434 2212.4L438.2 2209.4L441.3 2213.1L444.4 2216.7L443.1 2221.4L437.1 2220.7L432.3 2223.3L427.4 2220.2M458.4 2305.9L460.6 2306.2L461.9 2308L463.4 2309.5L462.9 2311.8L463.1 2314.7L461.4 2317.8L458.3 2316.5L454.7 2318M470.1 2177.9L467.6 2181.6L460.8 2178.2L452.5 2171.1L455 2167.4L462.1 2170.2ZM485.1 2342.4L480.6 2345.6L471.5 2338.4L462.4 2333.8L459.1 2327.5L467.4 2327.9L475 2328.1L481.7 2334.2L489.3 2340ZM463.9 2318.4L466.6 2322.9L468.1 2329.1L466.3 2332.8L462.7 2330.9L460.4 2325.3L459.2 2319.7L460.6 2316.1ZM451.8 2183.9L457.1 2182.5L458.9 2185.6L458.1 2189.4L455.1 2195.7L450.3 2194L447.5 2190.3M499.4 2336L496 2340.4L487.5 2339.2L478.4 2336.3L482.5 2330.7L491.6 2329.6L496.7 2332.7ZM454.5 2281L451.9 2282.2L448.5 2281L448.2 2276.8L449.9 2274.2L449.7 2270.2L452.4 2267.9M539.3 2374.2L537.5 2375.7L536.2 2376.3L535.2 2378L533 2376.6L529.7 2375.9L529.7 2372.9L530.8 2371.6L529.3 2368M480.7 2197.2L483.4 2199.8L480.4 2201.5L475.1 2201.2L470.8 2199.6L467.6 2198L466.1 2196L469.4 2195.3L472 2193.8L477 2195.1ZM570.2 2376L568 2380.1L563.1 2378.9L559.7 2375L559.3 2369.3L564.7 2370.1L570.2 2370.3ZM480.2 2323.1L476.1 2326.3L471.4 2325.5L470 2322.4L471.2 2318.9L475 2316L479.9 2314L482.6 2316.3L485.2 2318L486.3 2321.6ZM521.8 2331.1L521.1 2326.9L524.1 2324.7L527.1 2326.2L530.5 2327.7L530.6 2332.3L527.1 2334.1L525.5 2337.4M511.2 2337.7L510.4 2334.6L509.8 2331.8L509.7 2328.6L511.4 2326.7L512 2323.3L513.7 2322L515.7 2321.2L516.1 2325.5M453.5 2331.3L450.5 2329.9L446.1 2329.3L446.9 2327.1L452.4 2326L455.9 2324.6L460 2324.8M457.8 2332.3L459.2 2330.3L460.9 2329.2L463.3 2327.3L464.8 2329.5L466.7 2330.7L465.4 2332.4L462.9 2333.6M450.6 2290.2L446.4 2290.4L440 2291.4L438.1 2287.3L438.3 2284.4L439.4 2281.4L444.8 2281L451.4 2281.5L455 2285.4L453.6 2288.5ZM460.3 2281.4L454.1 2279.7L462 2272.9L472.2 2266.3L471.5 2272.5L470.7 2278.8ZM495.7 2282.6L498.3 2284.4L494.5 2286.5L489.5 2286.7L484.4 2287.5L480.8 2286L480.9 2283.5L485.2 2281.2M499 2298.3L498.2 2299.7L496.4 2301.2L493.3 2300.1L491.8 2298.3L491.7 2296.7L492.3 2295.2L494.4 2294.6L497 2295.3L498.9 2296.6ZM520.2 2333.2L526.3 2339.3L522.6 2342.2L517.8 2344.9L513.1 2338.8L515.5 2335.9ZM567.3 2356.6L569.8 2356.4L573 2357.2L577 2360.7L579.9 2364.6L584.4 2370.9L577.9 2367.6L575.6 2369.4L571.1 2363.9L567.6 2359.7ZM522.4 2347.1L524.8 2348.6L526.9 2350.2L526.2 2352.3L522.5 2352.3L519.4 2350L521.2 2348.5ZM513.2 2348.6L515.7 2353.4L514.4 2357.2L509.9 2355.7L505.3 2351.5L505.8 2346.8L508.8 2344.8ZM550.2 2362L550.3 2360L553.3 2359.7L555.6 2360L557.7 2361L556.3 2362.4L555.4 2363.3L553.7 2363.6L551 2363.7ZM492 2309.8L489.6 2315.1L484.5 2316.3L482.8 2305.8L484.5 2296.1L490.7 2300.1ZM440.5 2206.9L441.7 2205.7L444.8 2205.7L446.3 2207.3L447 2208.5L446.8 2210.1L443.6 2209.3L439.8 2208.7ZM512.9 2325.9L505.2 2325.9L503.7 2322.9L502 2319.9L508.8 2321.2L515.5 2322.9ZM508.2 2316.5L515 2315.8L524.7 2317.7L527.3 2324.3L533.4 2331L524.4 2329.5L516 2328.9L508.7 2322ZM444.2 2288.1L447 2287.9L450.5 2287L452.9 2288.1L451 2289.7L451.2 2291.2L447.7 2291.1L445.7 2290.9L444 2290.3L442.1 2289.3ZM471.2 2164.1L473.9 2167.5L473.1 2170.2L468.8 2169.8L466.3 2168L466 2165.2ZM573.4 2368.6L576.2 2367.6L579.3 2366.5L579 2368.4L578.8 2369.6L577.4 2371.3L573.9 2372.1L572.8 2370.5ZM478.4 2245.3L477.8 2241.9L481.8 2242.8L485.4 2240L486.4 2243.7L489.4 2245.6L488.5 2248.8L486 2251.2L482.3 2249.4L478.9 2250.7M549.7 2413L546.6 2412.9L546 2410.3L545.5 2407.9L548.1 2406.9L549.7 2404.9L552.9 2404.9L554.1 2407.4L555.3 2409.8L553.9 2412.1M580.4 2425.6L573.1 2423.9L567.4 2423.7L569.6 2420.5L570.4 2417.2L577.8 2415.7L586 2414.2L590.4 2416.7L588.3 2421.2ZM607 2404.1L604.4 2405.8L600.8 2406.4L598.2 2401L600.6 2397.2L604.8 2399.6ZM676.6 2450.1L674.8 2447.5L673 2444L673.1 2439.8L675.3 2441.2L677.4 2444.2L677.9 2448.6ZM613.2 2411.7L617.4 2415L620.6 2414.2L624.2 2417.9L623.4 2421.1L626.5 2425.6L624 2426.8L621.4 2428L617.5 2424.6M635.8 2420.7L637.1 2420.1L638.4 2420.2L639 2421.3L638.8 2422.6L637.7 2423.8L636.5 2423.2L635.7 2422.2ZM601.9 2418L603.8 2419.6L605.6 2421.2L603.7 2424.6L599.8 2425.1L598.9 2422.8L598.3 2420ZM616.7 2404.1L619.6 2404.5L622.4 2405.9L617.5 2408.8L614.7 2410.1L609.5 2413.2L607.2 2411.3L607.7 2408L612.8 2405.4ZM636.1 2428.4L637.4 2432.4L639.5 2436.6L635.9 2443.6L632.7 2455.4L630.8 2448L629.8 2443.7M519.6 2379.9L517.6 2382.1L514.2 2382.2L510.8 2381L510.9 2377.6L512.9 2374.7L517 2372.4L519 2375.9L520.4 2377.7ZM491.1 2362.6L489.2 2364.8L485.1 2367L482.4 2366.6L484.7 2363.9L489.1 2362ZM638.4 2424.3L640.7 2423.4L642.8 2423.7L644.7 2425L645.8 2427.5L644.3 2429.6L642.6 2431.6L640.3 2430.7L639 2428.8L637.8 2426.8ZM568.4 2393.6L572.7 2400.6L571.9 2404.2L571.5 2408.7L568.6 2407.9L565.2 2404.3L561.9 2400.2L559.6 2394.1L559.9 2389.9L557 2383.6L560.3 2385.2M463.5 2361.2L462.4 2359.1L464.6 2358.4L469.9 2361.5L469.8 2363.9L466.8 2363.8ZM605.8 2405.2L602.6 2404.6L600.9 2404.4L599.1 2404L596.6 2403.5L594.7 2402.1L595.5 2401L596.1 2400.1L597.3 2399.6L599.2 2399.7L601.3 2400M636.5 2431.1L635.2 2433.8L633.2 2431.8L631.8 2430.6L630 2430L630.4 2425.8L629.8 2423.5L630.2 2421.1L629.8 2417.5L631.4 2417M671.7 2431.9L668 2437.1L664.4 2436.6L664.6 2432.4L666.3 2427.7L670.5 2426.2L673.2 2424.8L674.8 2426.1L676.4 2428.9ZM612.3 2416.4L612.2 2414.2L614 2413.9L618.6 2415.3L619.3 2418L617.2 2418.4ZM604.3 2419L603.2 2417.3L603.3 2415.5L603.4 2414L604.2 2412.2L605.2 2414.4L606.2 2415.5L606.2 2417.3L605.5 2418.7ZM514 2401L512.7 2394L516.4 2394.5L519.4 2393.3L524.1 2399.1L525.4 2406.6L524.2 2410.7L520.6 2408.4L517.4 2407.2ZM630 2401.8L631.7 2402.3L633.2 2403.7L631.9 2408.8L628.7 2411.2L626.8 2409.9L627.8 2405.5ZM576.1 2422.7L578.5 2422.2L581.1 2422.5L584.7 2424.1L582.4 2426.8L582.8 2429.5L580 2429.5L576.8 2430.2L575.4 2427.2L575 2424.7ZM552.5 2402L559.7 2398.1L567.2 2398.4L562.7 2404.2L557.7 2409.1L552 2407.4ZM611.9 2436.5L605.3 2435.2L601.1 2429.9L601.8 2425.8L608.8 2427.6L614.4 2429.2L619.3 2433.4L620.9 2437.7M582.7 2406.1L583 2409.4L581.9 2412.7L578.7 2411.6L575.6 2410.3L575.7 2406.4L579.3 2404.9ZM662.8 2434.6L668.6 2431.1L671.3 2433.9L669.1 2439.1L666 2443.6L661.8 2444.4L655.6 2448L657.6 2442.4L658.3 2438.3ZM584.8 2416.6L583.3 2415.8L583.3 2412.6L582.6 2410.2L583.2 2408.4L584.4 2409.2L585.9 2407.3L586.3 2411.2M476 2368.4L476.5 2366.7L478.3 2366.1L479.9 2367.1L479 2368.8L478.6 2370L477.3 2370.8L475.7 2370.3ZM638.3 2421.5L641.6 2422.5L645 2423.1L648.3 2430.7L650.9 2438L650.2 2443.1L646 2440.5L641.3 2435.5L641.1 2428.8ZM631.1 2418.6L626.6 2418.2L630.2 2412.9L635.7 2410.8L638.3 2411.9L635.4 2415.4ZM619.9 2409.1L617.9 2407.9L619.7 2406.5L621.6 2405.2L623.8 2406.2L623.6 2407.9L622.2 2409.2ZM604.5 2428.9L606.4 2428.3L610.3 2430.7L614.1 2435.1L613 2436.8L611.3 2437.4L607.7 2434.3M605.2 2425.6L607.1 2423.4L609.1 2425.1L611 2427.6L609.8 2430.8L609.2 2433.9L607.4 2432.3M518.5 2395.6L514.7 2397.5L511.3 2397.6L512.2 2394L514.7 2391.3L518.3 2389.2L520.1 2391.6ZM590.8 2415.4L589.6 2416.2L587.7 2413.2L585.9 2411L584.8 2408.1L587.2 2409.1L589.2 2410.8L591.3 2412.8L592.9 2415.7ZM531.1 2382.9L536.8 2384L537 2387L536.6 2390.8L528.3 2391.6L521.9 2392.2L515.2 2390.9L516.9 2386.8L524.7 2384.7ZM589.7 2403.3L589.4 2401.7L590.7 2400.7L592.2 2401L593.4 2401.8L595 2403.2L594.1 2405L592.2 2405.4L590.2 2405.2ZM457.5 2351.7L461 2350.7L464.5 2348.7L466.6 2350.8L466.9 2353.5L466.5 2355.9L465 2357.8L464.6 2361.4L461.3 2363.9L457.7 2363.8L456.7 2360.5M559.2 2402.5L559.7 2400.9L560.6 2399.5L561.9 2398.8L563.4 2398.5L564.3 2399.8L563.4 2401.5L562.5 2402.6L561.4 2404.1L560.2 2403.3ZM574.6 2402L575 2405.6L576.1 2408L574.2 2410.5L572.1 2411.7L569.7 2410.9L569.6 2406.9M533.6 2386.7L536.9 2386.1L538.5 2389.1L539.2 2392L536.3 2391.5L533 2390.1ZM679.5 2432.2L681 2429.1L683.4 2433.6L685.2 2437L688.5 2441.4L688.8 2447.7L686.9 2450.8L684.7 2451.9L682.3 2447.9L679.8 2447.7M485.2 2365.4L485.8 2364.2L486.9 2363.1L488.8 2363.1L491.8 2363.4L492.5 2366.1L493.7 2368.7M556.6 2405L556.4 2401.8L558.5 2400.8L560 2398.2L562.2 2399.9L561.9 2402.9L561.8 2404.8L560.5 2405.8L559.1 2405.2ZM592.5 2389.4L594.6 2390.4L596.8 2393L597.9 2396.1L596.9 2397.3L596.1 2398.9L594 2396.8L591.4 2395.1L591.6 2392.4L592 2391.1ZM520.5 2396L518.1 2396.6L517 2394L516.3 2391.7L517.8 2389.4L520.7 2390.8L520.6 2393.7ZM589.5 2388.2L589.3 2388.9L592.8 2389.2L589 2390.5L588.3 2391.7L586.2 2392.1L584.7 2392.3L582.1 2394.5L581.4 2393.3L579.8 2393.4L579.4 2392.5M641.9 2430.9L640.1 2432.8L639.3 2430.3L639 2428.5L638.4 2425.9L640.2 2424L641.6 2424.8L642.4 2425.6L643.4 2426.6L642.4 2428.5ZM526.6 2382.2L527.6 2385.3L529.3 2386.7L529.1 2390.8L526.6 2395.7L524.1 2393.3L523 2392.2L521.3 2390.6L522.8 2386.8M683.8 2430.6L683.9 2426.7L686.2 2426.7L689.2 2424.5L689 2429.2L687.9 2433.2L685.6 2433.6L683.9 2433.4ZM654.6 2432.4L662.3 2440.7L663.3 2447.7L652.5 2441.6L647 2435.8L645.7 2430.2ZM629.2 2422.6L628.3 2421L627.7 2419.4L627.8 2417.9L629.3 2417.4L631.4 2418.9L633.8 2420L633.6 2421.9L634.5 2424M599.5 2406.4L600 2408.9L602.5 2412L597.8 2413.1L593.1 2411.6L587.7 2411.3L584.3 2408.2L588.3 2406.3L589.5 2403.2L595.2 2404.9ZM573.7 2397.6L576.1 2393.5L579.7 2391.5L582 2397.3L583.1 2402.9L582.6 2408.9L579.5 2410.3L577 2410.7L574.6 2408.3L571.8 2403.5ZM559.6 2406.8L559.2 2400.6L562.3 2399.5L566.2 2400L568.2 2406.4L568.6 2413L563.9 2410.2ZM558.8 2407.5L558 2405.9L559.5 2405.1L561 2404.8L562.2 2406.3L561.4 2408L559.9 2408.6ZM575.8 2415L577.6 2412.7L580.5 2416L581.9 2418.9L579.2 2419.8L576.5 2417.5ZM634.4 2425.3L631.6 2425.4L633.2 2423.7L630.4 2423L632.5 2422L633.7 2421.2L635.2 2420.5L637.2 2420.3L639.9 2419.8M631.9 2414.4L633.2 2410.5L634.8 2406.8L636.2 2408.8L637.9 2409.1L638.2 2412.7L636.9 2416.6L635 2417.2L633.8 2416.9M613.4 2436.7L613.8 2434.9L614.9 2434.1L615.8 2432.9L616.8 2434.2L617.8 2434.7L618.6 2435.9L617.3 2436.7L616.3 2436.9L615 2437.4ZM567.7 2413.8L568.4 2411.9L570.1 2411L571.8 2412.7L572.7 2415.4L571.6 2417.5L570.1 2417.8M614.8 2416.4L613.7 2419.4L613.9 2425.4L611 2425.9L608.8 2419.6L606.4 2417.7L606.1 2413.5L605.6 2409.2L607.6 2408.3M467.8 2363.7L465.9 2359.3L476.1 2350.2L484.5 2349.8L477.5 2359L470.7 2367ZM535.1 2398.8L533.9 2401L531.6 2398.5L530.6 2397.1L528.3 2395L530.3 2394L532.6 2393.3L535.3 2394.9L537.4 2396.7L536.1 2398.1ZM558.4 2395.2L558.1 2397.4L556.8 2399.3L554.1 2399.8L552.2 2397.6L551.3 2394.3L553.8 2391.9L557.1 2392.4ZM559.9 2403.5L560.5 2401.1L562.3 2401.2L564.6 2403.9L567.5 2408.2L568.1 2413.1L566.6 2415.3L563.4 2410.6L560.1 2408ZM583.9 2397.9L581.9 2397.4L580.7 2395.2L583.1 2392.2L584.5 2388.9L587 2388.1L586.7 2391.6L587.2 2393.7M672.5 2434.9L675 2435.1L677.2 2434.4L679.4 2436.5L679.1 2438.9L678.3 2440.9L675.7 2440.3L674 2439L672.9 2437.2ZM500.9 2385.5L500 2379.7L502.6 2378.6L506 2379.4L510.1 2385.2L515.7 2391.8L517.9 2399.9M646.8 2429.7L646.2 2428.4L647.1 2427.6L648.2 2427.5L649.2 2427.1L650.4 2428L651.7 2428.9L652.6 2430.3M593.7 2394.5L594.9 2396.3L593.1 2397.5L590.3 2396.9L588.5 2395.9L586.3 2394.5L588.3 2393.6L589 2391.6L591.9 2393.1ZM498.9 2385.2L497.8 2386.7L496.3 2386.1L495.3 2383.7L497.1 2381.9L498.1 2381.3L499.7 2379.7L500.1 2382.1L500.7 2384.6ZM505.9 2390.8L508 2391.7L509.5 2392L510.3 2393.7L508.1 2397L505.2 2400.8L501.3 2403L501.2 2400L499.1 2398.8L501.3 2393.9ZM536.6 2388.1L536 2389.4L534.7 2388.2L533.5 2386.9L533.3 2385.1L534 2383.7L535.6 2384.2M479.9 2363.7L476.9 2369.1L473.3 2367.8L473.2 2363.2L473.7 2359.1L476.1 2353.4L479.8 2355M585.9 2393.9L580.7 2395.2L581.9 2392.9L582.6 2391.3L583.8 2389.6L586.4 2387.8L589.9 2387.9L592.6 2387.8L596.6 2387.5M577.5 2414.1L577.1 2420.4L574.9 2425.4L572.3 2420.2L569.6 2420.5L568.3 2414.9L569.1 2408.8L571.7 2407.1L573.7 2408.3L576.7 2407.8ZM620.2 2428.7L618.7 2429L616.9 2429.2L617 2425.9L617.9 2422.7L619.8 2422L620.5 2424L620.7 2426ZM677.2 2435.2L674.1 2433.3L673.2 2429.2L674.2 2425.9L676.2 2422.9L678.9 2425.9L680.5 2427.9L680.3 2430.5L679.3 2432.5ZM633.4 2432.9L633.3 2433.8L632.8 2434.7L631.7 2435L631.2 2433L629.8 2432.4L630.3 2431.1L630 2429.7L631.1 2429.6L631.8 2429.7M675.1 2451.9L670.6 2451.6L670.8 2448L674.4 2444.3L677.9 2441.8L681.7 2438.3L684.4 2439.6L689.4 2438.6L688.5 2442L687.2 2445.7M552.2 2414.2L550.2 2412.8L550 2408L548.6 2404.9L550 2401.3L551 2396.8L553.1 2397L554.1 2400.7L554.8 2403.3M703 2436.4L697.4 2432.8L693.8 2424.4L695.7 2421.6L699.1 2421.2L704.2 2428.3L707.8 2434.9L705.8 2436.7ZM671.2 2428L671.9 2422.6L676.2 2419.9L679.4 2422L680.5 2425.6L676.7 2428.4ZM609.1 2435.7L606.9 2436.7L605.2 2436.6L603 2437.4L601.6 2436L602.1 2433.5L602.6 2431.3L604.5 2430.1L606 2428.9L608.4 2427M505.8 2378.6L499 2376L498.5 2369.8L504.6 2369.9L510.9 2371.8L510.2 2376.8ZM507.7 2395.2L506.6 2395.8L505.6 2396.6L504.1 2397.2L503.7 2396L502.9 2395.8L501.7 2395.6L501.2 2394.8L502.3 2393.8L503.8 2393.4L504.3 2392.4M568.2 2422.2L570.9 2422.1L572.9 2423.8L572.3 2425.6L571.2 2426.6L569.2 2426.3L567.7 2424.5ZM602.4 2415.8L606.4 2415.7L608.3 2418L610.7 2419.4L608.3 2422L607.7 2423.9L605.8 2426L602.4 2428L600.8 2425.3L595.5 2426.3L599.2 2422.6M657.8 2436.2L661.3 2428.8L665.3 2422.6L669.1 2423.7L672.6 2424.1L670.1 2429.5L667.1 2434.1L663.3 2435.3ZM605.9 2394.6L609.6 2397L609.4 2401.4L605.7 2401.5L602.4 2399.8L602.4 2395.8ZM565.1 2415.2L574.8 2408.2L581.5 2407.9L585 2410.3L578.6 2417.2L568.4 2423.6L564.4 2420.8ZM565.6 2417.1L565.9 2420.8L566 2425L564.8 2427L562.8 2426.4L561.8 2420.9L560.3 2415.7L561.2 2411.7L563 2412L564.8 2411ZM574 2399.2L578.9 2398.5L582.5 2399.1L585.4 2401.7L580 2403.9L575.3 2404.9L570.8 2403.3M542.8 2406.9L550.2 2400.9L552.3 2408L548.5 2421.2L542.1 2423.4L537.7 2420.7ZM696.5 2440L694.6 2438.8L693.6 2438.7L692.5 2438.5L691.2 2437.8L690.7 2436.9L688.9 2435.8L690.4 2435.4L690.4 2434.6L690.3 2433.5L692.3 2434.5M620.4 2402.3L621.3 2407.1L615.1 2404L612.1 2400.6L611.8 2396.6L617.7 2397.3ZM657.8 2424.1L656.1 2420.1L657.5 2419.2L658.4 2418.2L660 2420.4L661.5 2422.8L662.1 2426.1M559.1 2427.4L561.4 2422.8L566 2418.4L571.3 2414.2L579.7 2409.7L578.6 2414.2L580.6 2417.2L571.8 2422.3L563.6 2428.4ZM491.1 2365.2L490.6 2370.9L487.2 2374L485.3 2369.8L483.1 2365L486.8 2362.7L489.7 2360.8ZM654.2 2432.7L653.2 2430.5L650.9 2426.6L654.4 2427.9L656.6 2427.2L658.9 2430.5L662.1 2433.5L663.2 2437.3L659.9 2437.2M513.9 2388.7L513.5 2384.9L516.8 2384.3L520.2 2382.7L520.7 2386.6L518.2 2389.7L516.2 2391.1L513.5 2392ZM612.2 2399.2L610.4 2405.9L608.2 2412.2L604.9 2412.2L602.3 2412.9L602.2 2408.6L600.2 2404.2L604.2 2400.1L607.2 2395.6L609.4 2397.5ZM583.6 2402.8L582.2 2404L579.6 2402.6L577.6 2399.7L577.7 2396.7L580.9 2398.5L583.8 2400.2ZM563 2407.8L567.6 2404.7L569.2 2410.1L567.7 2415.4L566.1 2421.4L562.7 2420.5L560.3 2418.7L561.5 2413.8ZM619.9 2426.7L623.2 2425.7L625.6 2427.8L626.7 2431.4L623.9 2433.9L621 2434.5L619 2432.1M673.9 2430.7L675.9 2429.7L677.5 2428.7L679.2 2429.7L680.1 2432L679 2434.3L677.8 2435.9L676.3 2436L674 2436.4L673.2 2433.7ZM590.8 2393.5L587.8 2392.4L584.8 2392.8L583.1 2391L582.6 2388L585.9 2384.7L587.5 2380.6L590.9 2382M666 2428.5L665.2 2426.3L664.2 2423.9L670.4 2423.7L675.8 2423L676.5 2425.4L671.8 2427.4ZM667.2 2443.9L665.4 2441.3L663.8 2438.5L663.9 2434.9L665.8 2433.7L666.6 2431.6L668.3 2429.3L670.2 2431.6M645.3 2428.6L638.2 2428.5L629.7 2427.9L628.1 2423.2L631.9 2419.9L638.8 2417.9L646.1 2420.8L650 2425.2ZM590.4 2392.8L588.9 2388.9L591.5 2390.1L593.9 2392.2L595.8 2395.4L597.5 2399.4L595.3 2398.9L592.7 2396ZM545.7 2410.5L542.3 2410L542.6 2407.8L542.5 2406.5L542.7 2403.9L547.1 2401.3L551 2401.1L552.2 2402.8L552 2405M605.5 2429.8L607.9 2428.1L609.5 2425.8L613.4 2428.4L615.6 2431.2L616 2433.6L618.2 2437.7L615.3 2438.8L611.7 2435.1L609.6 2433.2ZM609.7 2412.5L607.1 2411.4L605.3 2409.6L603 2407.4L602.8 2402.3L602.5 2397.2L603.9 2394.1L606.2 2400.1L608 2401.7L609.1 2406.5ZM474.8 2366.4L472.5 2361.5L472.8 2358.2L474.3 2356.1L476.5 2354.5L480.8 2356.1L485.1 2359.7L485.8 2364L489.5 2368.7L489 2372.3L484.6 2371.1M577.9 2410.6L580.4 2407.9L585.8 2410L591.7 2412.2L595.7 2419.7L602.2 2427.5L598.6 2428.8L593.4 2425.7L589.2 2423.9L582.4 2418.4ZM534.4 2406.1L538.6 2403.6L541.6 2399.4L544 2403.5L546.5 2406.9L544.4 2411.7L540.2 2410.2L537.6 2409.4ZM625.6 2436.6L622.6 2437L621.1 2435.2L621.1 2431.9L624.8 2428.9L627.8 2425.1L632.5 2422.8L630.5 2428.4L633.2 2430.3L628.7 2433.7ZM605.2 2408.3L607.5 2408.6L611.5 2410.6L611.3 2412.8L609.1 2413.2L606.3 2411.6L602.5 2410L603.3 2408.4ZM528.5 2388.6L524.1 2390.9L525.9 2386.8L527.6 2383.6L530.3 2381.9L533.5 2377.5L536.8 2377M639.6 2441.2L637 2444L631.9 2441L627.4 2439.2L625.3 2434.9L628.8 2433.3L633.2 2434L636.2 2437.1ZM502.9 2380.8L505.5 2380.1L506.1 2386.6L508.1 2390.3L506.4 2394.8L504.8 2397.7L503.2 2395.1L500.6 2395.9L501.4 2390.1L501.8 2386.3ZM603.9 2385.1L603.4 2387.2L598 2388.7L594.3 2391.1L589.9 2390.1L587.2 2389.7L583.2 2389.9L582.3 2388.6L577.1 2387.5L583.3 2385.2M602.3 2411.1L603.8 2412.9L604.4 2416L603.4 2417.8L603.4 2420.5L601.9 2419.4L601.3 2422.1L600 2420.5L598.5 2419.7L597.2 2416.9M703.7 2433.9L700.5 2427.6L699.3 2421.6L702.4 2422.4L705 2425.2L709.2 2428.9L709.7 2434.7L707.2 2435.6ZM673.9 2433.8L682.5 2439L687.6 2443.1L692.3 2447.8L687.7 2448.1L682.9 2448.4L677 2443.4L671.1 2439.2L668.5 2434.5ZM519.1 2397.1L521.7 2395.1L522.2 2397.9L519.8 2401.6L517.5 2405.1L516.7 2403.3L517.1 2400.5ZM478.7 2369.7L477.2 2369.4L477 2368.3L475.9 2367.3L475.6 2366L477.3 2365.7L479 2365.4L480.1 2367M643.1 2422.8L643.8 2423.6L643.6 2424.7L644 2425.6L643.7 2426.7L642.1 2426.5L641.6 2428L640.3 2428.4L639.3 2427.9M504.3 2396.1L497.6 2396.1L492.5 2395.8L489.8 2393L493.4 2388.4L499.5 2385.2L506.1 2383.2L509.3 2385.6M595.5 2403.6L601.5 2398.7L608.2 2396.1L614.9 2394.2L617.5 2396.5L610.2 2401.5L603.8 2404.6L597.1 2406.2ZM587.3 2430.1L584.1 2429.5L582.8 2427.7L581.7 2426.4L582.5 2425.3L579.2 2423.5L579.9 2422L584.4 2422.9L586.2 2422.3L588.8 2421.1L592.1 2422M641.3 2425.8L639.2 2424.1L637.6 2419.3L637.9 2414.8L639.3 2409.5L642.1 2416.4L643 2423.5ZM554.3 2403.5L551.6 2404.9L549 2404.7L545.6 2398.8L546.8 2393.6L549 2391.3L551.7 2396.8Z"/>
<path class="s" d="M485.1 825.9L522.3 842L587 857.1M659.3 2350.3L658.1 2422.3M834 514L838.3 515.4L842.4 517.6L845.8 517.9L848.9 519.8L852.1 520.7L855.5 521.2L856.2 524.4L855.6 527.7L856.7 530.8L854.3 533.6L853.1 537.1M855.5 537L858.2 539.8L859.9 543.2L861.5 546.6L862.9 549.7L864.4 552.8L865.1 556.2L864.5 560.2L863.1 564.1L862.7 568.2L863.7 571.8L863.7 575.6L864.7 579.1L866.3 582.6L867.9 585.4L869.2 588.3L870 591.5L871.9 594.2L873.5 596.9L871.6 600.7L871.6 605.1L869.9 608.9L866.3 610.8L862.7 612.5L866 613.9L869.1 615.5L871.6 618.2L874.7 619.7L876.2 622.7L878.3 625.2L880.6 627.6L882.1 630.5L884.3 632.9L888.6 633.1L892.7 634.1L895.6 636L897.5 638.9M892.7 634.1L892.1 630.5L892.9 626.9L893.9 623.3L893.5 619.7L893.9 616.1L894.8 612.9L897.3 610.6L898.7 607.7L901.8 606.3L905.1 605.3L908.3 604.1L911.2 606L914.9 606L917.9 607.7L919.7 611.1L922.7 613.3L925.1 616.1L928.9 615.7L932 613L935.9 612.5L935.2 608.2L933.5 604.1L935.1 600.6L936.9 597.1L937.3 593.1L939.5 589.7L942.2 586.6L942.9 582.2L945.5 579L982.6 579M983.8 546.6L982.6 579L982.2 582.9L983.8 586.7L984.4 590.6L983.8 594.5L985.9 597.9L986.1 602L988.2 605.4L989.8 608.9L993.1 612.3L997 614.9M587 857.1L590.7 857.7L594.4 858.1L597.9 859.3L601.4 860.7L654.1 888.3L721.3 917.7M720.1 918.2L721.6 915.3L724 913L726.3 910.6L728.7 908.4L730.1 905.3L732.1 902.6L735.7 902.6L739.2 903.4L742.9 902.2L746.4 903.1L750 903.4L753.6 901.8L757.5 901.2L760.7 899L764.4 897.8L768 900.3L771.6 902.6L776.4 901.4L777.9 898.4L779.6 895.5L780.4 892.2L782.4 889.5L786.2 888.2L790.3 888.9L794.2 888.5L798 887.1L802.8 886.8L807.6 887.1L807.1 883.8L808.5 880.7L808.8 877.5L811 874.8L811.5 871.3L812.6 868.1L814.8 865.5L817.6 863.9L820.8 863.1L822.8 860.5L824.1 857.5L825.6 854.7L829.2 854.6L832.8 853.9L836.4 855L840 854.4L843.5 855.5L847.1 855.2L850.7 854.7L854.3 857.7L857.9 860.7L860.7 862.7L862.8 865.4L864.9 868.1L867.5 870.3L869.1 873.1L871.7 875.3L873 878.3L874.7 881.1L878.4 882.1L881.9 883.5L885.8 881.5L889.1 878.7L892.5 879.7L895.1 882.3L997 882.3M895.1 882.3L895 885.7L896.5 888.7L897.5 891.9L895.9 895.1L894.1 898.1L892.7 901.4L893.8 905.5L895.4 909.3L896.3 913.4L895.4 917.7L896.3 922.1M893.9 922L894.4 926.2L896.5 929.9L897.5 934L896.6 937.3L896.7 940.8L897 944.3L895.3 947.5L895.8 951L895.1 954.4L932.3 954.4L935.9 958L939.9 957.8L943.9 958.6L947.8 959.2L948.7 963.4L949.5 967.6L946.9 970.4L945 973.8L943.1 977.1L945 980.6L945.8 984.5L947.8 987.9L949.7 990.7L951.3 993.7L952.8 996.7L953.8 999.9L951.2 1002.1L948.7 1004.5L945.5 1005.9L945 1010L943.7 1013.9L943.1 1017.9L941.3 1021.6L938.1 1024.2L935.9 1027.5L934.9 1031.2L933.5 1034.7L932.3 1038.3L929 1040.1L926.3 1043L922.7 1044.3M1137.7 1392.1L1140.5 1390.1L1143.7 1388.5L1145 1384.6L1144.4 1380.4L1146.1 1376.5L1148.8 1373.2L1152 1370.5L1156 1368.6L1159.2 1365.7L1160.4 1362.6L1160.6 1359.3L1161.6 1356.2L1164.6 1353.8L1167.8 1351.9L1171.2 1350.2L1174.1 1348.2L1175.5 1344.8L1178.4 1343M1159.2 1466.4L1162.8 1466L1166.4 1467.3L1170 1466.4L1173.6 1466.4L1177.3 1467.2L1180.7 1468.6L1184.4 1469.2L1188 1470L1192.1 1470.1L1196 1471.5L1200 1472M1153.2 1496.4L1157.1 1497.2L1161 1497.1L1164.9 1496.6L1168.8 1496.4L1172.4 1496L1176 1495.9L1179.6 1495.8L1183.2 1495.2L1186.7 1495.1L1190 1496.2L1193.4 1496.9L1196.7 1498L1200 1498.8M1116.9 499.7L1118.4 503.6L1119.8 507.5L1120.5 511.6L1120.3 515.3L1121.4 518.8L1122 522.4L1121.7 526L1125.2 526.9L1128.7 528L1132.3 528.5L1136.1 528.4L1139.1 530.5L1141.9 532.9L1144.6 535.5L1148.1 537.1M1143.3 537L1146.6 538.1L1149.9 539.1L1153.5 539.3L1156.8 540.4L1160 541.8L1163.6 544.8L1167.2 547.8L1167.8 552L1168.4 556.2L1171.6 558.6L1174.5 561.3L1176.8 564.6L1176.4 568.2L1176.2 571.8L1175.6 575.4L1176.3 578.6L1178.3 581.2L1179.8 584L1180.9 587.1L1182.8 589.7L1185.7 592L1188.4 594.6L1191.2 596.9L1190.8 600.2L1192.9 603.2L1192.4 606.5L1195 610.5L1198.4 613.7L1199.5 618L1200.8 622.1L1204.1 624.5L1208.1 625.6L1211.6 627.6L1215.2 626.5L1218.7 625.1L1222.4 624.5L1222.4 620.7L1223.8 617.3L1224.8 613.7L1226.8 610.4L1229.8 607.9L1232.2 604.9L1234.4 601.7L1236.2 598L1237.6 594.1L1240.4 590.9L1243.7 589.6L1245.9 586.9L1248.8 585L1251.8 583L1255.2 581.9L1258.3 580.2M997 614.9L999.4 617.9L1001.5 621.2L1003.7 624.3L1006.6 626.9L1010.2 625.9L1013.8 624.5L1014.4 628.1L1015 631.7L1017.6 633.7L1020.9 634.6L1023.1 637.1L1025.8 638.9L1029.6 639.9L1033.2 641.2L1036.6 643.2L1040.2 644.9L1043.5 647.5L1046.2 650.9L1049.7 653.3L1053.3 654.8L1056.9 655.7L1059.3 660.5L1062.8 659L1066.5 658.2L1069.9 656.4L1074 656.8L1077.3 655L1075.1 657.4L1073.7 660.5L1070.5 662L1067.7 664.1L1066.5 668.9L1004.2 804.3L1001.2 806.6L999.6 810.1L997 812.7L997.8 816.5L999.4 819.9L1002.2 822.7L1005.6 825L1007.8 828.3L1008.5 834.3L1009.7 837.8L1012.9 840L1014.4 843.2L1016.2 846.3L1016.8 849.5L1018.8 852.2L1018.9 855.6L1021 858.3L1022.8 861.2L1025.8 863.1L1026.5 866.6L1027.1 870.2L1027.5 873.8L1027 877.5L1029.3 880.4L1033.1 881.7L1035.4 884.7L1038.3 886.5L1039.6 890.1L1041.9 892.5L1045 894.3L1047.9 895.7L1050.1 898.2L1053.3 899.3L1055.7 901.4L1272.7 917M1008.5 834.3L1007.3 838.1L1005.5 841.7L1003.1 844.9L1001.8 848.7L1002.6 852.7L1003.4 856.7L1004.2 860.7L1003.7 863.9L1002.3 866.9L1000.3 869.5L999.4 872.7L1000.9 876.2L1001.8 879.9L997 882.3M1272.7 922.1L1273.9 917L1275.5 914.2L1276.4 911.1L1277.6 908.1L1278.3 904.9L1279.7 902L1281.1 899L1283.6 896.4L1286 893.7L1287.5 890.4L1290.2 887.9L1291.9 884.7L1294.1 882.3L1296.2 879.8L1298.7 877.8L1301 875.5L1302.7 872.7L1303.7 869.2L1304.8 865.9L1305.8 862.4L1306.8 859L1308.7 855.9L1308.6 852.2L1309.9 848.7L1308.1 845.4L1305 843.2L1302.7 840.3L1305.1 836.9L1306.6 833.1L1308.7 829.5L1308.6 824.7L1308.7 819.9L1312.7 818.2L1315.9 815.1L1318.9 813.3L1322.1 812.2L1325.5 811.5L1326.6 807.9L1327.9 804.3L1331.1 801.4L1335.1 799.5L1335.8 795.4L1336.3 791.2L1338.2 788.1L1339.9 785L1341.1 781.6L1342.6 778.7L1343.5 775.6L1340.5 774.3L1337.5 773.2L1335.1 769.5L1331.5 767.2L1327.3 767L1323.1 766.7L1326.7 765L1329.4 762.2L1332.7 760M1332.7 760L1355.5 742L1359.7 741.1L1363.8 739.6L1365 736.4L1367.3 733.9L1368.7 730.9L1370.6 728.2L1373.2 725.9L1374.6 722.8L1375.3 719.2L1378.3 716.5L1379.1 712.9L1380.6 709.6L1382.7 706.8L1384.7 704.1L1386.9 701.4L1387.6 697.6L1390.2 695.2L1390.2 691.6L1391.5 688.1L1391.2 684.3L1392.6 680.9L1394 677.7L1396 674.8L1399 672.7L1400.3 669.3L1402.2 666.5L1403.8 663.4L1404.8 660.1L1405.8 656.9L1406.8 652.9L1405.8 648.8L1407 644.9M1332.7 760L1336.3 760.4L1339.9 761.1L1343.5 761.8L1347.1 762.4L1350 764.6L1353.4 765.6L1356.6 767.2L1359 770.1L1362.5 771.7L1365 774.4L1366.4 777.6L1366.7 781L1367.9 784.3L1367.5 787.9L1368.6 791.2L1369.5 794.7L1369.1 798.3L1368.8 801.9L1368.6 805.5L1367.6 809.6L1366.1 813.5L1365 817.5L1362.4 819.8L1360.4 822.6L1358.5 825.4L1356.6 828.3L1359.9 830.7L1363.2 832.9L1366.2 835.5L1381.8 857.1L1384.6 855.3L1387 852.8L1390.2 851.6L1394.5 852.1L1398.6 853.5L1399.5 857L1399.8 860.7L1396.4 862.8L1393.4 865.4L1390.2 867.9L1389.2 871L1387.6 873.8L1387.3 877.1L1385.4 879.9L1383.3 882.8L1381.4 885.9L1380.6 889.5L1383.4 891.5L1385.4 894.3L1388.4 896.1L1390.2 899L1390.9 902.3L1393.3 904.8L1393.6 908.1L1395 911L1396.9 914.6L1398 918.5L1399.8 922.1M1272.7 922L1271.7 925.9L1270 929.4L1267.9 932.8L1266.4 936.1L1265 939.4L1263.2 942.6L1261.9 946L1261.6 950L1261.5 954L1260.7 958L1259.7 962L1258.5 966L1257.1 970L1258.5 973.4L1259.1 977L1258.7 980.8L1259.5 984.3L1259.9 988L1259.3 991.6L1259.3 995.2L1258.3 998.7L1259.7 1001.9L1260.2 1005.2L1259.8 1008.7L1260.7 1011.9L1263.5 1009.4L1266.8 1007.8L1270.6 1006.9L1272.8 1003.6L1276.3 1002.3L1275.6 1006.1L1273.7 1009.4L1272.3 1013L1271.5 1016.7L1302.7 1031.1L1303.4 1027.3L1304.4 1023.7L1306.3 1020.3L1311.1 1016.7L1315.9 1017.9L1319.5 1015.5L1321.7 1019.2L1324.9 1022L1327.9 1025.1L1328.4 1028.7L1329.1 1032.3L1332.2 1030.8L1335.6 1030.1L1339.2 1030.3L1342.3 1028.7L1344.9 1031.5L1348.3 1033.5L1352 1033.7L1355.5 1034.9L1359 1035.9L1360.5 1031.8L1361.4 1027.5L1364.7 1028.1L1367.8 1029.4L1371 1029.9L1374.4 1028.9L1377.6 1027.6L1380.9 1026.4L1383.7 1024L1387 1022.8L1390.2 1021.5L1393.9 1021.9L1397.4 1020.4L1401 1021L1404.6 1020.3L1407 1020.3M1260.7 1011.9L1261 1015.6L1262.9 1019L1263.1 1022.7L1261.7 1026.3L1260.4 1030L1258.2 1033.3L1257.1 1037.1L1256.6 1040.9L1254.5 1044.2L1254.4 1048.2L1252.4 1051.5L1252.6 1055.1L1253.5 1058.7L1252.7 1062.2L1250.6 1065.2L1248.8 1068.3L1248.6 1072.3L1248.2 1076.3L1247.6 1080.2L1246.1 1083.5L1243.9 1086.4L1242.8 1089.8L1238 1090.2L1233.2 1089.8L1229.7 1093L1226 1095.8L1225.6 1099.9L1224 1103.6L1222.6 1107.4L1222.4 1111.4L1219.6 1113.4L1217.4 1116L1215.2 1118.6L1212.1 1119.8L1208.8 1119.8L1205.6 1119.8L1201.9 1122L1198.7 1124.8L1196 1128.2L1193.2 1131.6L1191.2 1135.4L1193.6 1140.2L1190.5 1143.7L1187.6 1147.4L1184.8 1149.8L1182.3 1152.5L1179.2 1154.6L1177.8 1157.5L1177.6 1160.9L1176.3 1163.8L1174.4 1166.6L1174.4 1169.8L1173.7 1173L1173.2 1176.2L1175 1179.1L1176.3 1182.3L1176.8 1185.7M1021 1173.8L1023.5 1176.7L1025.2 1180.2L1027.6 1183.2L1030.6 1185.7L1034 1184L1037.5 1182.6L1041.5 1182.6L1045 1180.9L1047.4 1178.7L1048.9 1175.8L1050.8 1173.1L1052.8 1170.5L1054.5 1167.8L1058.6 1167.5L1062.6 1167.4L1066.5 1166.6L1070.4 1165.6L1073.8 1163.6L1077.3 1161.8L1080.3 1163.5L1083.6 1164.5L1086.6 1166.3L1089.5 1168.1L1092.9 1169L1096.5 1170.1L1099.5 1172.6L1103.2 1173.5L1106.3 1175.8L1109.7 1177.4L1113 1177.2L1116.2 1176.1L1119.3 1175L1123.6 1174.3L1127.7 1172.6L1130.6 1174.4L1133.4 1176.4L1136.1 1178.5L1139.6 1177.6L1142.2 1174.7L1145.7 1173.8L1148.6 1171.7L1151.5 1169.4L1153.9 1166.8L1156.4 1164.2L1156.5 1167.8L1156.7 1171.4L1156.6 1175L1157.1 1178.6L1157.6 1182.1L1154.5 1183.1L1151.8 1184.9L1149.3 1186.9L1152.8 1187.9L1156.6 1187.8L1160 1189.3L1163.6 1189.4L1166.8 1188.1L1170.1 1187.1L1173.4 1186.3L1176.8 1185.7M1176.8 1185.7L1177.4 1189.8L1177.6 1193.9L1179.2 1197.7L1182.2 1199.5L1185.4 1200.7L1188.8 1201.3L1186.1 1204.7L1184 1208.5L1186.4 1211L1188.8 1213.3L1192.8 1214.1L1196.8 1213.4L1200.8 1213.3L1203.8 1215.4L1206.5 1218L1209.8 1219.6L1212.8 1221.7L1215.6 1223.4L1219 1223.5L1221.8 1225.3L1224.8 1226.5L1228.9 1227.2L1232.6 1229.5L1236.8 1230.1L1239.9 1231.2L1243.2 1232.3L1245.4 1235.3L1248.8 1236.1L1250.7 1239L1253.5 1240.9M1253.5 1240.9L1251.2 1236.1L1253.6 1233.8L1255.4 1230.8L1258.3 1228.9L1261.2 1226.1L1264.9 1224.3L1267.9 1221.7L1268.4 1217.3L1270.3 1213.3L1273.9 1212.3L1277.5 1211.5L1280.9 1209.9L1284.7 1209.7L1288.3 1208.8L1291.9 1208L1295.4 1206.4L1299.1 1206.1L1302.7 1210.9L1305.7 1207.3L1308.7 1203.7L1311.9 1203L1314.9 1201.3L1318.3 1201.3L1321.9 1200.5L1325.5 1200.5L1329.1 1202.1L1332.7 1201.3L1337.5 1201.8L1342.3 1201.3L1345.1 1202.9L1347.9 1204.4L1350.7 1206.1L1354.5 1204.5L1357.8 1202L1361.4 1200.1L1364.6 1199L1367.3 1197.2L1369.5 1194.6L1372.2 1192.9L1371.4 1189.7L1371.3 1186.4L1369.8 1183.3L1371.3 1179.8L1372.2 1176.2L1369.7 1174.2L1366.2 1173.7L1363.8 1171.4L1365.2 1167.5L1367.4 1164.2L1370.7 1161.8L1373.5 1158.9L1377 1157L1376.3 1153.8L1376.2 1150.4L1374.6 1147.4L1372.8 1144.5L1370.2 1142.1L1368.6 1139L1369.1 1135.7L1368.6 1132.3L1368.9 1129L1369.8 1125.8M1369.8 1125.8L1373.4 1124.4L1377 1123.2L1380.6 1122L1384.1 1120.8L1387.8 1119.8L1386.7 1115.9L1387.9 1111.7L1386.6 1107.8L1385.3 1103.7L1384.2 1099.4L1386.2 1095.5L1386.6 1091L1389.8 1090L1392.9 1088.8L1396.2 1088.6L1398.4 1084.6L1399.8 1080.2L1403.2 1083L1407 1085M1399.8 922L1402.1 924.5L1404.6 926.8L1407 928M1457.7 1337L1460.9 1335.1L1464.5 1334.6L1467.9 1333.3L1471.2 1331.9L1474.5 1330.4L1478.1 1329.8L1482 1328.3L1486.2 1327.7L1490.1 1326.2L1493.6 1326.6L1496.9 1326.3L1500.3 1325.2L1503.7 1326.1L1507.1 1325L1510.5 1325L1514.3 1324.3L1517.9 1323.1L1521.3 1321.4L1524.7 1320.6L1527.8 1318.8L1530.8 1317L1533.7 1315L1537.4 1314.6L1540.5 1313L1538.1 1309.4L1541.7 1307M1200 1472.4L1203.7 1472.3L1207.1 1474.2L1210.9 1473.5L1214.4 1474.8L1218 1475.3L1221.6 1475.8L1225.3 1476L1228.8 1477.2L1232 1479.8L1236 1480.8L1237.6 1477.4L1238.8 1473.8L1239.6 1470L1242.1 1467.5L1245.4 1466.1L1248.4 1464.4L1251.5 1462.8L1254.8 1460.6L1258.9 1460.3L1262.3 1458.5L1265.9 1459.7L1269.5 1460.5L1273.7 1460.3L1277.5 1458.9L1281.5 1458.1L1284.4 1459.5L1287.1 1461.4L1289.8 1463.1L1293 1463.8L1295.9 1465.2L1299.1 1464.4L1302.1 1463L1304.2 1460.1L1307.4 1459.1L1310.3 1457.6L1314.1 1457.9L1318 1457.8L1321.8 1456.5L1325.7 1457.3L1329.5 1456.9M1200 1498.8L1203.8 1500.6L1208.2 1500.4L1212 1502.4L1215 1503.8L1217.6 1506.2L1221.1 1506.7L1224 1508.4L1226.8 1509.9L1230.1 1510.6L1233 1511.9L1236 1513.2L1238.6 1516.1L1241.7 1518.3L1244.6 1520.9L1248 1522.8L1249.7 1526.4L1253.3 1528.8L1255.1 1532.4L1258.9 1535.2L1262.3 1538.4L1266.4 1538.1L1270.4 1538.8L1274.3 1539.6L1277.9 1538.9L1281.5 1538.7L1285.1 1538.8L1288.7 1539.6L1291.1 1544.4L1287.2 1546.3L1283.9 1549.2L1283.6 1553.2L1283.7 1557.2L1283.9 1561.2L1280.3 1563.5L1276.7 1565.9L1282.7 1567.1L1286.4 1567.4L1289.9 1568.3M1556.9 683.3L1555 686.6L1552.5 689.5L1550.9 692.8L1548.8 695.9L1546.3 698.7L1543.7 701.2L1539.7 702.3L1535.8 703.6L1531.7 703.6L1528.8 706.7L1525.7 709.6L1524.3 713.6L1523.1 717.6L1522.1 721.6L1518.6 724.8L1516.1 728.8L1517.2 732.8L1519.7 736L1519.5 739.3L1517.6 742.3L1517.3 745.6L1518.3 748.9L1518.9 752.3L1520.9 755.2L1521.9 758.3L1522.6 761.5L1522.1 764.8L1519.1 766.6L1517.5 769.8L1515.3 772.3L1512.5 774.4L1512.9 778.4L1512.1 782.4L1512.5 786.4L1515.3 788.9L1516.3 792.6L1519.4 794.9L1520.9 798.3L1520.6 802.5L1519.5 806.4L1518.5 810.3L1514.6 810.7L1511.2 812.4L1507.4 813.1L1504.2 815.4L1500.5 816.3L1497.7 814L1494.2 812.9L1490.9 811.5L1486.9 812.8L1482.8 813.4L1478.9 815.1L1476.4 818.2L1473.5 821.1L1471.7 824.7L1469 826.8L1466.1 828.7L1462.7 829.9L1460.4 832.7L1457.4 834.3L1454.4 835.9L1451.4 837.2L1448.1 837.8L1445.3 839.9L1442.1 840.6L1439 841.8L1435.8 842.7L1435 846.3L1433.1 849.5L1432 852.9L1429.8 855.9L1428.7 859.2L1427 862.3L1425.4 865.4L1424 868.6L1422.6 871.8L1421.4 875.1L1420.5 878.6L1417.5 881.1L1416.6 884.7L1417.2 887.9L1417.4 891.2L1419.4 894.1L1420.5 897.3L1420.3 900.7L1421.4 903.8L1421.4 907.5L1420.6 911.2L1419.7 914.7L1419.2 918.4L1419 922.1M1572.4 686.9L1572.2 690.3L1570.9 693.5L1570 696.8L1568.8 700L1571 703.4L1571.4 707.4L1574 710.6L1574.8 714.4L1576.2 717.9L1577.2 721.5L1577 725.4L1578.4 728.8L1578.3 732.1L1576.4 735.1L1576.4 738.4L1575.4 741.5L1575.6 744.8L1574.8 748L1577.8 750.6L1579.2 754.4L1582.3 756.8L1584.4 760L1586.8 786.4L1587 790.1L1588.4 793.6L1590.1 797L1589.6 800.8L1591.3 804.2L1591.6 807.9L1594.6 809.7L1597.7 811.5L1600.7 813.2L1603.6 815.1L1603.3 818.5L1602.4 821.6L1600.6 824.6L1601 828.1L1600.1 831.2L1598.8 834.3L1595.4 836.1L1591.6 836.7L1593.5 840.7L1594 845.1L1596.3 847.5L1597.2 850.7L1598.8 853.5L1597.1 856.3L1594.9 858.7L1593.2 861.5L1590.9 863.9L1589.2 866.7L1586.4 868.6L1584 871.2L1581.1 873L1578.1 874.7L1575.7 877.4L1572.4 878.7L1569.4 880.6L1567.2 883.6L1563.9 885.2L1560.5 886.7L1558.1 889.5L1555.9 892.1L1553.1 894.1L1550.9 896.6L1547.2 897L1543.7 898.3L1540.2 899.1L1536.5 899L1534 901.1L1531.4 903.2L1528.8 905.1L1525.4 906L1523.3 908.6L1520.3 907.2L1517.8 905.1L1514.8 903.8L1512.5 901.4L1509.3 900.9L1506.6 898.7L1503.5 897.8L1500.5 896.6L1497.1 898.5L1493.8 900.6L1490.5 902.7L1487.3 905L1488.6 908.6L1489.3 912.4L1490.9 915.8L1491.5 919.2L1493.3 922.1M1709.1 749.2L1705.3 749.4L1701.9 751.1L1698.5 752.7L1694.7 752.8L1693.5 755.8L1691.1 758.2L1689.8 761.1L1689.5 764.6L1687.5 767.2L1685.7 770.3L1683.7 773.3L1682 776.4L1681.7 780.2L1678.7 782.8L1677.9 786.4L1674.7 787.8L1671.5 789.4L1668.3 791.2L1666.8 794.4L1664.4 797.2L1663.5 800.7L1667.7 801.3L1671.8 802.3L1675.5 804.3L1679.5 803.6L1683 802L1686.5 800.3L1689.9 798.3L1692.8 796.6L1695.7 795L1699.3 794.5L1701.9 792.4L1706.2 790.8L1710.3 788.8L1710.3 794.7L1707.8 797.2L1704.8 798.9L1701.9 800.7L1701.1 803.9L1700.8 807.3L1699.5 810.3L1702.4 812.6L1706.1 813.1L1709.1 815.1L1712.1 813.7L1715.7 814.3L1718.7 812.7L1721.4 814.8L1723.7 817.3L1725.9 819.9L1728.6 816.1L1731.9 812.7L1732.5 807.9L1731.9 803.1L1735.4 800L1739.1 797.1L1742.7 801.9L1746.3 801.7L1749.8 802.8L1753.5 802.3L1757.1 803.1L1785.8 805.5M1663.5 800.7L1663.4 804.4L1663.2 808.1L1661 811.4L1661.2 815.1L1659.1 818L1657.6 821.1L1659.6 824.3L1661.4 827.6L1663.5 830.7L1662.7 834L1661.7 837.2L1661.8 840.6L1661.2 843.9L1664.7 845.2L1668.5 845.7L1672.1 846.9L1675.5 848.7L1679.2 848.1L1682.6 846.6L1685.4 843.8L1689.2 843.5L1692.3 841.5L1695.5 839.4L1698.2 836.5L1701.6 834.6L1704.3 831.9L1707.7 833.7L1711.5 834.3L1715.1 835.5L1713.1 839.6L1711.5 843.9L1710.3 847.6L1708.1 850.7L1705.5 853.5L1708.4 855.7L1709.8 859.3L1712.1 862.1L1715.1 864.3L1718.5 863.3L1721.4 861.1L1725.1 861.1L1728.3 859.5L1730 855.4L1730.7 851.1L1734.1 850.6L1737.4 849.8L1740.7 848.9L1743.9 847.4L1747.5 847.5L1750.8 847L1753.6 844.7L1757 844.5L1760.5 844.2L1763.5 842.7L1766.6 841.5L1769.8 839L1773.2 836.9L1776.2 834.3L1780.4 835.1L1784.2 836.7L1788.2 837.9M1591.6 836.7L1595.1 837.1L1598.4 835.9L1601.8 835.9L1605 834.7L1608.4 834.3L1611.6 833.6L1614.9 834.3L1618 833.5L1621.2 832.9L1624.5 832.8L1627.6 831.9L1631.1 833.9L1634.2 836.4L1637.2 839.1L1639.4 842.3L1642.1 845L1644.7 847.8L1648 849.9L1651.6 849.2L1654.8 847.4L1657.7 845L1661.2 843.9M1572.4 878.7L1575.7 879.7L1578.6 881.3L1581.5 883L1584.4 884.7L1586.7 887.3L1586.9 890.9L1588.4 893.9L1590.4 896.6L1591.7 900.1L1591.6 903.8L1595.4 902L1599.7 901.9L1603.6 900.2L1604.9 897.1L1607.4 894.9L1609.8 892.7L1611.3 889.7L1613.2 887.1L1616.4 884.7L1619.9 882.7L1622.8 879.9L1626.4 878.3L1630.1 877.2L1633.9 876.1L1637.2 873.9L1640.1 875.3L1642.9 876.8L1645.5 878.8L1648.5 880.1L1651.6 881.1L1655.5 882.5L1659.5 883.8L1663.5 884.7L1666 886.8L1668.9 888.3L1671.9 889.5L1673.4 893.4L1674.2 897.5L1675.5 901.4L1678.1 903.7L1679.8 906.8L1682.7 908.6L1686.2 909.4L1689.4 910.8L1692.6 912.3L1695.6 914L1699 915L1701.9 917L1705.4 918.6L1708.9 920.2L1712.7 920.8L1716.3 922.1M1675.5 901.4L1677.3 898.4L1680.9 897.2L1682.6 894.1L1685.1 891.9L1689 889.2L1692.3 885.9L1695 888.1L1698.1 889.2L1701 890.9L1704.3 891.9L1706.9 893.8L1709.8 895.3L1713.1 895.9L1715.6 898.1L1718.7 899L1721.9 897.7L1725.4 897.4L1728.9 897.4L1732.2 896.6L1735.5 895.5L1739.1 893.2L1741.4 889.3L1745.1 887.1L1748.7 886.6L1752.3 885.7L1756 885.2L1759.5 884.2L1763.1 883.2L1766.6 882.3L1770.2 882.4L1773.4 883.5L1776.5 885L1779.8 885.9M1682.7 908.6L1681.9 912L1682.3 915.4L1682.5 918.8L1681.5 922.1M1407 946L1410.5 944L1413.3 941.1L1416.6 938.8L1420.1 936.8L1423.3 934.5L1426.2 931.6L1427.5 928.3L1429.8 925.6L1431.4 928.7L1432.2 932L1432.6 935.5L1433.4 938.8L1436.2 941.2L1437.7 944.8L1440.6 947.2L1444.2 949L1447.4 951.5L1451.4 952.7L1454.3 951.1L1457 949.1L1459.5 946.8L1462.1 944.8L1465.7 944L1469.4 944L1473 943.4L1476.5 942.4L1479.3 939.9L1481.6 937L1483.7 934L1485.5 930.6L1488.4 928.3L1490.9 925.6L1494.5 922M1411.8 1097L1414.8 1095.4L1418.3 1095.1L1421.4 1093.4L1424.6 1092.3L1427.1 1089.9L1430.7 1089.5L1433.4 1087.4L1436.9 1085.5L1440 1083L1443 1080.2L1445.8 1078.1L1449 1076.8L1452.2 1075.3L1455 1073.1L1457.7 1070.7L1461 1069.4L1464.5 1068.3L1467.2 1066L1470.5 1064.7L1473.8 1064L1477 1064.4L1480.1 1066.1L1483.3 1066.4L1486.5 1066L1489.7 1066.3L1488 1070L1487.3 1074L1486.1 1077.8L1490 1079.6L1494 1081.1L1498.1 1082.2L1501.6 1081.4L1504.6 1079.4L1507.7 1077.8L1511 1078.3L1514.1 1079.5L1517.3 1080.2L1520.1 1082.8L1524 1083.7L1526.9 1086.2L1529.7 1088.1L1532.9 1089.2L1536.2 1090.1L1538.9 1092.2L1542.8 1091.7L1546.6 1093L1550.6 1092.5L1554.5 1092.7L1557.1 1095L1560.1 1096.9L1563.3 1098.5L1565.7 1101.1L1568.8 1102.8L1571.2 1105.4L1572.2 1109.6L1572.4 1113.8L1576.4 1112.6L1580.6 1112.8L1584.4 1111.4L1588 1111.7L1591.7 1111.6L1595.1 1113.1L1598.8 1112.6L1602.8 1113.9L1606.6 1115.7L1610.8 1116.2L1613.7 1118.1L1615 1121.6L1618.3 1123.1L1620.4 1125.8L1618.6 1128.9L1617.7 1132.5L1615.6 1135.4L1613.2 1137.8L1610.5 1139.8L1608.4 1142.6L1608.1 1145.9L1606.5 1148.9L1606 1152.2L1602 1154.4L1597.6 1155.8L1597.5 1159.1L1597.7 1162.4L1596.2 1165.6L1596.4 1169L1599 1171.1L1601.3 1173.7L1603.6 1176.2L1606.2 1178.4L1608.3 1181L1610.8 1183.3L1608.4 1188.1M1608.4 1188.1L1605.3 1187.1L1602 1187.5L1598.8 1186.9L1595.8 1188.6L1592.4 1188.5L1589.2 1189.3L1587.1 1192.1L1583.5 1193.1L1581.4 1196L1578.4 1197.7L1577.1 1201.8L1577.2 1206.1L1579.3 1208.8L1581.7 1211.3L1584.4 1213.3L1581.6 1215.7L1577.7 1215.9L1574.8 1218.1L1578.4 1220.5L1580.9 1224L1584.4 1226.5L1585.7 1230.6L1585.6 1234.9L1582.7 1238L1579.9 1241.2L1577.2 1244.5L1576.6 1247.7L1574.5 1250.3L1573.2 1253.3L1572.4 1256.5L1570.9 1259.3L1570 1262.5L1566.4 1263L1562.9 1264.2L1559.2 1263.7L1555.7 1264.9L1555.7 1268.9L1554.4 1272.8L1554.5 1276.9L1553.8 1280.2L1552.6 1283.5L1550.9 1286.4L1548 1289.3L1546.5 1293.2L1543.7 1296L1541.9 1299.5L1540.9 1303.3L1540.1 1307.1M1598.8 1186.9L1626.4 1200.1M1554.5 1276.9L1554.9 1280.3L1555.6 1283.6L1556.2 1287L1556.6 1290.4L1558.1 1293.6L1561.3 1294.7L1564.9 1294.3L1568.1 1295.8L1571.6 1295.7L1574.8 1297.2L1578.1 1297.3L1581.3 1297.7L1584.4 1298.4M1688.7 922L1690.5 925L1690.4 928.7L1692.3 931.6L1691.5 935.7L1689.7 939.5L1688.7 943.6L1685.4 944.3L1682.1 944.6L1679 946.1L1675.5 946L1677.5 948.7L1678.5 951.8L1679.1 955L1680.3 958L1681.2 961.1L1681.9 964.3L1683.2 967.3L1685.1 970L1688.6 970.4L1691.4 972.8L1694.7 973.5L1697.9 973.2L1701.2 973.4L1704.3 972.4M1716.3 922L1719.7 924.5L1722.8 927.5L1725.9 930.4L1729.3 931.5L1732.6 933L1735.5 935.2M1418.9 922.4L1418 926L1417.9 929.7M1407.2 1085.1L1410.9 1085.2L1414.5 1085.1"/>
<path class="b" d="M361.6 300.7L363.6 304.5L366.4 307.8L368.2 310.7L369.5 313.8L370.8 316.9L372.4 319.8L369 321.7L366.4 324.6L365.2 327.6L364 330.6L361.3 332.4L358.1 333.3L355.6 335.4L353.2 330.6L351.7 334.1L351.5 338L349.6 341.4M366.4 298.3L368 301.4L370.6 303.8L372.8 306.4L374.8 309.3L376 312.6L377.9 316.6L380.8 319.8L385.6 317.4L385.5 313.4L384.9 309.4L384.4 305.5L382 302.8L380.8 299.5M334 309L338.1 307.7L342.4 307.8L345.6 309L348.3 310.7L350.5 313.3L353.2 315M546.2 198.8L544.6 201.8L542.6 204.6L540.7 207.5L538.5 210.1L535.5 212.2L534.3 215.5L530.7 215.1L527.1 215.5L524.8 218L524 221.2L522.5 224L521.6 227.2L520.1 230L518.4 232.8L516.8 235.6L515.1 238.3L514.9 241.8L513.9 245.1L512.8 248.5L512.3 251.9L512.6 255.5L512.9 259L511.5 262.3L509.4 265.2L507.6 268.4L506 271.6L503.4 274.2L501.3 277.1L499.5 280.3L502.9 278.7L506.5 277.4L510.3 276.7L513.7 279.8L517.5 282.7L518.3 286.1L520.1 289.2L520.3 292.8L522.3 295.9L524 299.1L527.7 300.7L529.1 304.2L531.9 306.6L532 310.7L529.8 314.3L530 318.3L529.5 322.2L528.9 325.8L529.7 329.4L529.8 333L529.5 336.6L532.5 338.8L536 340.4L539 342.6L540.8 345.3L543 347.8L543.8 351L547.2 350.4L550.6 350.7L553.9 351.9L557.3 352L560.6 351.5L564.1 352.6L567.8 352.4L571.3 353.6L575 353.4L579.1 352.5L582.9 350.7L587 349.8M546.2 200L549.5 199.8L552.7 199.1L556 198.9L559 197.5L562.4 197.7L565.4 196.4L563.9 199.2L563 202.4L559.1 203.1L555.2 202.7L551.3 202.5L547.4 202.4M306.5 298.3L309 300.6L311.3 303.1L310.1 307.5L307.7 311.4L311.4 311.7L314.9 310.2L313.5 306.2L313.7 301.9L308.9 298.7M216.6 333L221.4 334.2L220.2 337.3L219 340.2L216.6 343.8M198.6 270.7L202 271.2L205.1 272.7L208.2 274.3L206.3 277.7L205.8 281.5L208.9 282.7L212.1 282.6L215.4 282.7M314.9 539.4L318.5 540.5L321.2 543.5L324.7 544.8L328.1 546.6L331.1 548L334 549.7L336 552.7L339.5 553.4L342.5 554.9L344.8 557.4L348.6 557.6L352 559L355.6 559.8L357.1 563.5L360.5 566L362.3 569.4L364 573L366.9 574.4L370 575.3L373.3 575.8L376 577.8L379.4 577.8L382.8 577.9L386 579.5L389.5 579.4L392.8 580.2L395.1 577.6L397.7 575.5L400 573L403.5 574.4L407.2 575.4L410.3 577.6L412.8 580.6L416 582.8L419.2 585L423.1 586.5L427.3 586.9L431.2 588.5L434.7 587.7L438.3 588.5L441.7 590.5L445.4 591.9L449.1 593.1L452.7 594.5L454.9 597L457.2 599.2L460.4 600.5L462.4 603.1L464.7 605.3L466.2 609.3L467.5 613.2L468.3 617.3L471.7 618.3L474 621.3L477.1 622.8L480.7 623.6L483.6 625.4L486.3 627.6L489.7 630.1L492 633.4L494.7 636.5L496.1 640L495.9 643.7L499.4 645.2L502.2 647.8L505.5 649.7L506.7 652.9L506.6 656.5L508.3 659.5L509.1 662.9L511.5 665.2L514.7 666L517.5 667.7L520.8 668.1L524.2 668.5L527.5 667.5L530.9 668.1L534.3 667.7L537.8 666.3L541.6 665.8L545 663.9L548.6 662.9L551.7 661.3L554.6 659.3L557.1 661.6L560.6 662.8L562.3 666.1L565.4 667.7L569 666.6L572.8 666L576.2 664.2L579.8 662.9L583.4 663.1L587 663.6M438.3 588.5L435 589.1L431.8 590.2L428.4 590.1L425.2 590.9L428.8 593.3L431.2 596.9L433.5 599.9L435 603.4L437.1 606.5L436.6 610.1L435.9 613.7L437.6 616.9L437.9 620.4L431.6 619.7L431.3 623L429.4 625.9L429.5 629.3L429.3 632.6L427.4 635.5L427.6 638.9L409.6 658.1L407 660.4L404.3 662.5L401.3 664.2L398.6 666.2L395.4 667.7L393.6 671L390.4 672.5L349.6 687.6L347 689.6L344.3 691.4L342 693.8L340 696.4L338 699.8L337.6 703.6L334 701.2L332.8 704.4L332 707.8L330.8 711L330.5 714.4L328.3 717.1L327.2 720.3L326.7 723.8L324.5 726.4L323.2 729.6L322.7 732.9L323.4 736.4L322.1 739.6L318.8 742.1L314.9 743.2L314 746.3L312.6 749.3L310.6 751.9L310.1 755.2L305.8 754.8L301.7 754L298.9 751.3L296.9 748L296.3 744.6L294.2 741.7L293.3 738.4L288.5 735.5L284.4 734.4L280.1 734.8L276.8 733.6L273.8 731.8L270.5 730.7L267.2 734L263.3 736.5L261.4 733.6L263.2 730.9L265.7 728.8L264.4 725.6L262.1 722.8L265.4 720.9L268.1 718.2L271.7 716.8L271.4 713.2L270.6 709.6L269.5 706.1L269.3 702.4M587 726.4L584.4 728.6L582 731L579.8 733.6L576.2 733.7L572.5 734.1L569 734.8L565.4 735.5L562 735.9L558.7 736.9L555.4 737.4L551.9 737.6L548.6 738.4L545.2 739.9L542.6 742.6L539.2 744.1L536.6 746.8L534.2 749.3L530.5 750.1L528.4 753.2L524.6 753.7L522.1 756.3L519.6 758.7L516.3 760L516.2 763.8L515 767.3L513.8 770.8L512.7 774.4L511.3 777.4L509.9 780.5L508.4 783.4L506.4 786.2L504.3 788.8L505.7 792.2L505.8 796L506.7 799.6L507.9 803.1L504.9 804.7L501.6 805.5L498.9 807.6L495.9 809.1L492.6 810.5L490.8 813.8L487.5 815.1L487.1 818.8L486.7 822.5L485.1 825.9L485.4 829.6L486.3 833.1L482.4 832.6L478.6 833.8L479 837.1L478.6 840.3L480.6 843L483.2 845.1L485.6 847.2L488.7 848.7L488.6 852.7L489.4 856.7L489.9 860.7L492.8 862.9L495.4 865.3L497.7 868.2L500.7 870.3L501.7 873.8L503.4 876.9L505.5 879.9L508.4 882.2L510.5 885.3L512.7 888.3L511.5 894.3L509.1 896.6L507.1 899.3L505 901.9L508.7 902.6L512.4 902.1L516.1 903.1L519.9 902.6L523.6 902.8L527.2 903.7L530.6 905.4L534.3 906.2L536.8 909.1L537.6 913L540.2 915.8L541.4 922.1M540.2 918.2L541.4 922.1L569.3 922.1L571.9 919.9L575.1 918.4L577.7 916.3L579.8 913.4L583 910L587 907.4M268.1 680.9L271.7 676.1L275.1 677.9L278.9 678.5L278.9 682.2L277.7 685.7L273.4 686.4L269.3 688.1L267.9 684.6L268.1 680.9M272.9 671.3L275.9 669.8L279.1 668.9L282.5 668.9L282 672.9L282.6 677L281.3 680.9L280.7 684.5L278.8 687.9L277.9 691.5L277.7 695.2L274.9 696.9L271.7 697.6M236.9 791.2L240.2 792.8L243.1 795.2L246.7 796.2L249.8 798.1L252.9 799.9L256.1 801.8L259.7 802.7L262.8 805L266.5 806.2L270.2 807.3L272.9 810.2L276.5 811.5L278.4 814.3L279.8 817.4L282.4 819.8L284.4 822.5L286.6 825L287.8 828.3L288.5 831.8L290 835L291.8 838L292.3 841.6L294.8 844.4L294.9 848.1L296.9 851.1L299.8 853.2L301.7 856.3L304.6 858.4L306.6 861.4L308.4 864.5L311.3 866.7L313.8 869L315.2 872.3L317.2 875L319.7 877.5L318.5 882.3L330.5 906.2M236.9 748L238.9 752.3L241.3 756.4L238.1 755.2M260.9 607.7L264.2 608.3L267.6 608.5M356.8 965.2L360.1 967L363.1 969.4L366.4 971.2L368.4 973.7L370.1 976.5L371.2 979.5L370.8 983.2L372.8 986.6L372.4 990.3L376 992.6L378.8 995.9L382 998.7L383.7 1001.8L385 1005.1L386.7 1008.1L389 1010.8L391.1 1013.7L392.8 1016.7L393.6 1020.9L394 1025.1L396.2 1028.2L398.3 1031.5L401.4 1033.9L403.6 1037.1L402.4 1040.3L402.5 1043.9L400.7 1046.9L400 1050.3M519.9 1143.8L524 1145.1L528.3 1145L531.7 1146.8L534.3 1149.8M566.6 1179.7L570.9 1181.3L575 1183.3L578.2 1185.1L580.1 1188.5L583.4 1190.1M342.4 931.6L344.7 934.4L346.3 937.7L348.7 940.4L350.5 943.5L353.2 946L354 950L355.6 953.8L355.6 958M412 1075.5L414.5 1077.9L417.5 1079.7L420.9 1080.8L423.9 1082.4L426.4 1085L428.7 1088.1L431.2 1091L433.5 1094.1L435.9 1097M348.7 971.4L349.6 971.6M352.7 967.6L353.7 967.1M352.7 987.2L353.7 987.5M594.6 1358.5L592.2 1360.9L592.6 1364.4L592.2 1367.6L591.3 1370.9L590.5 1374.1L593.8 1374.4L597 1375.3L597.1 1371.7L597.5 1368.1L597.2 1364.5L598.2 1360.9L594.6 1358.5M593.4 1422.1L595.1 1425.9L596.5 1429.9L597 1434.1L595.8 1440.1L592.2 1441.8L588.6 1443.7M588.6 1455.7L589.8 1459.6L590.2 1463.7L591 1467.6L589 1471.1L587.4 1474.8L586.7 1478.5L585.7 1482.1L584.7 1485.6L583.8 1489.2M579 1496.4L579.5 1500.4L579.7 1504.4L580.2 1508.4M564.6 1568.3L566.6 1571.8L568.2 1575.5L566.9 1578.8L567.9 1582.3L566.3 1585.5L566.9 1589L565.8 1592.3M557.4 1600.7L555.4 1603.4L554.5 1606.7L554.2 1610.1L555.2 1613.4L554 1616.8L555.1 1620.1L555 1623.5M670.1 1307L670.1 1310.7L671.3 1314.2L672.2 1317.6L673.9 1320.7L674.4 1324.3L676.1 1327.4L679.7 1331L680.5 1334.1L680.2 1337.4L680.9 1340.6L682.6 1346.6L681.6 1351.4L685.7 1355L689.3 1354.8L692.9 1354.2L696.5 1355L700.7 1353.9L704.9 1352.6M704.9 1352.6L707.9 1349.6L710.9 1346.6L710.9 1343L713.2 1340.6L716.8 1340.4L719.3 1338.2L720.5 1332.2L723.9 1330.6L727.6 1330.4L731.3 1329.8L734.6 1328L738.5 1327.4L740 1323.3L740.8 1319L744 1321.3L746.8 1324.1L749.4 1327.1L752.8 1329.1L756.2 1328.1L759.6 1328.1L763 1328.4L766.4 1328.8L769.8 1328L773.2 1328.6L777.2 1329.4L781.3 1328.6L785.2 1329.8L790 1329.1M704.9 1352.6L707.6 1355.8L710.9 1358.5L700.1 1392.1L671.3 1402.9L667.8 1406L664.1 1408.9L662.6 1412.2L661.2 1415.4L659.3 1418.5L661.6 1420.9L663.4 1423.6L664.1 1427L666.5 1429.3L663.8 1431.1L660.5 1431.7L660.6 1435.1L658.9 1438.1L658.1 1441.3L659.2 1444.5L660.7 1447.6L661.7 1450.9L663 1454.1L664 1457.3L664.6 1460.7L665.3 1464L663.5 1467.1L660.3 1468.6L658.1 1471.2L659.3 1474.8L660.5 1478.4L662.8 1481L664.5 1484L666.7 1486.6L668.9 1489.2L667.7 1494L664.3 1494.6L661.1 1495.9L658.1 1497.6L653.9 1497.5L649.7 1497.6L649.1 1501.8L648.5 1506L645.4 1509.5L642.5 1513.2L641 1516.2L640.7 1519.5L640.1 1522.8L637.7 1525.6L634.7 1527.7L631.8 1530L628.8 1532.7L626.1 1535.5L623.4 1538.4L622.8 1542.2L621.8 1545.9L619.8 1549.2L619.2 1553.1L618.6 1557.1L618.6 1561.2L615.7 1563.5L612.9 1565.8L610.2 1568.3L611.2 1571.6L611.8 1575L613.8 1577.9L613.5 1581.5L613.6 1585.1L614.1 1588.7L613.8 1592.3L615.1 1595.6L617.4 1598.3L616 1602.1L613.8 1605.5L610.2 1606.3L606.6 1605.5L604.6 1608.8L603.5 1612.5L603 1616.3L603.8 1619.4L603.9 1622.7L604.2 1625.9L600.7 1627L597.6 1628.7L594.6 1630.7L594.6 1634.1L593.6 1637.2L592.2 1640.3L592.4 1644.4L593 1648.4L594.6 1652.3L598.2 1653.6L601.4 1655.6L604.2 1658.3L599.4 1661.9L600.2 1665L601.5 1668L602.9 1670.9L604.2 1673.8L604.7 1677.1L605.1 1680.4L606.6 1683.4L608.6 1686.2L611.4 1688.2L610.2 1692.1M480.7 1955.7L480.9 1959.5L479.5 1962.9L480.4 1967L482 1970.9L483.1 1974.9L486.5 1976.8L489.1 1979.7L491.9 1978.1L495.1 1977.3L493.8 1980.3L492.7 1983.3L496.7 1982.7L500.7 1982.9L504.7 1983.3L507.1 1979.3L510.7 1976.1L514.3 1976.2L517.9 1976.1L520.4 1979.6L523.9 1982.1L526.9 1980.7L530.3 1980.5L533.5 1979.7L534.6 1975.6L535.4 1971.3M510.7 1984.5L509.5 1989.3M517.9 1991.7L521.9 1989.8L526.3 1989.3L528.7 1994.1L527 1997.7L525.1 2001.3L527.7 2003.5L529.9 2006.1M480.7 1986.9L485.5 1989.3M485.5 2008.5L488.7 2005.5L492.7 2003.7L493.3 2007.5L495.1 2010.9L491.9 2013.9L487.9 2015.7L487.9 2019.1L489.6 2022.1L490.3 2025.3L495.1 2027.7M449.5 2045.7L454.3 2044L456.7 2046.9L451.9 2048.8L449.5 2045.7M504.7 1814.3L508.3 1817.9L507.1 1823.9M491.5 1845.5L489.1 1850.2M495.1 1919.8L498.7 1922.2M555 1706.4L557.4 1711.2L556 1715L553.8 1718.4M535.8 1754.3L534.8 1757.5L534.9 1760.9L533.5 1763.9M610.2 1692L608.8 1695.5L609 1699.2L612.1 1700.2L615.2 1701.3L618.6 1701.6L617.5 1704.7L618.4 1708.1L617.4 1711.2L616.6 1714.9L615 1718.4L615.2 1721.7L616.5 1724.8L617.4 1728L618.6 1734L614.7 1734.5L611.4 1736.4L609.6 1740L606 1742.3L604.2 1745.9L602.3 1749.3L602.2 1753.3L600.6 1756.7L599.9 1760L599 1763.1L598.2 1766.3L593.4 1768.7L596.1 1771.7L598.7 1774.7L599.3 1778L599.9 1781.3L599.1 1784.6L599.4 1787.9L597.8 1792L597 1796.3L593.8 1797.7L591 1799.9L588.6 1803.5L586.2 1807.1L583.2 1808.6L579.9 1809.2L576.6 1809.5L575.4 1812.7L575 1816.2L573 1819.1L573.9 1822.2L574.6 1825.5L575.4 1828.7L574.1 1832.2L573 1835.9L572.9 1839.5L574.7 1843L574.5 1846.6L574.7 1850.2L576 1853.8L577.4 1857.3L577.5 1861.2L579 1864.6L579.8 1868.2L579.2 1871.9L580.2 1875.4L583.8 1879L581.4 1883.8L578.2 1884.6L575 1885.5L572.2 1887.5L568.6 1887.2L565.8 1889.1L565.1 1892.3L565.3 1895.6L564.3 1898.8L564.9 1902.1L564.6 1905.4L562.9 1909L561 1912.6L555 1913.8L555.7 1918.1L557.4 1922.2L555.9 1925.7L555 1929.4L551.4 1931.8L553.8 1934.8L556.2 1937.8L553.7 1941.2L550.2 1943.8L548.4 1947.9L546.6 1952.1L548.4 1955.1L550.2 1958.1L550.4 1962.2L550.3 1966.2L549 1970.1L549.8 1973.7L548.9 1977.4L549.8 1980.9L550.2 1984.5L551.5 1988.1L552.3 1991.8L553.8 1995.3L551.4 1998.9L547.8 1999.5L544.2 1998.9L542.2 2002.2L541.8 2006.1L544.2 2010.9L540.6 2015.7L541.1 2019.7L542.5 2023.6L543 2027.7L545.6 2030L547.8 2032.5L552.6 2034.9L550.3 2038.5L547.8 2042.1L550.2 2045L554 2046.2L556.2 2049.3L554.3 2052.6L553.8 2056.4L555.5 2060.1L557.4 2063.6L554 2065.4L550.2 2066L552.1 2069.4L552.6 2073.2L555.8 2073.9L559 2074.5L562.2 2073.5L565.5 2073.5L568.7 2073.5L571.8 2074.4L574.2 2077.1M773.2 1958.1L776.5 1955.9L779.7 1953.5L782.8 1950.9L786.6 1951.6L790 1953.3M790 2010.9L787.1 2013.7L783.4 2015.4L780.4 2018.1L783.9 2019.2L787 2021L790 2022.9M574.2 2077L571.7 2080.5L569.4 2084.2L565.4 2084.8L561.5 2086.2L557.4 2086.6L554.1 2086.9L550.8 2085.9L547.5 2085.8L544.2 2086.6L545.4 2091.4L549.1 2092.1L552.7 2092.8L556.1 2094.6L559.8 2095L562.3 2097.9L564.6 2101L568.2 2103.4L566.7 2106.9L564.4 2109.9L562.2 2113L559.7 2115.1L556.7 2116.2L553.8 2117.8L556.3 2121L557.4 2125L555.5 2127.8L553.4 2130.5L551.4 2133.3L553.4 2136.3L554.6 2139.7L555 2143.2L556.2 2146.5L556.2 2151.3L553.4 2152.9L550.4 2154.1L547.8 2156.1L547.6 2159.4L548.5 2162.5L549 2165.7L544.2 2168.1L543 2172.9L539.1 2175L534.6 2175.3L532.8 2178.8L531.2 2182.3L530.7 2186.3L528.7 2189.7L530.9 2193L534.1 2195.6L535.8 2199.3L535.8 2205.3L532.7 2206.7L529.3 2207.2L526.3 2208.9L525.8 2212.9L525.7 2216.9L525.1 2220.9L521.9 2221.8L519.4 2224L516.7 2225.7L513.4 2228.2L509.5 2229.3L507.7 2232.7L507.1 2236.4L503.2 2238L499 2238.5L495.1 2240L494.4 2243.7L493.2 2247.2L493 2251.4L493.9 2255.3L495.1 2259.2L496.8 2262.4L497.7 2265.9L499.9 2268.8L500.9 2271.9L501.9 2274.9L502.7 2278.1L504.7 2280.8L507.2 2283.1L509.5 2285.6L512.7 2284.7L515.8 2283.5L519.1 2282.7L522.7 2283.1L526.3 2282.6L529.8 2281.9L533.5 2282L535.3 2286.2L537 2290.4L535.2 2294L533.5 2297.6L533.3 2301.6L533.8 2305.5L535 2309.3L535.8 2313.2L538.8 2316.2L542.2 2318.9L545.4 2321.6L546.7 2324.9L547.8 2328.3L610.2 2328.3L613.8 2328.9L617.2 2330.6L621 2330.7L624.8 2331L628.1 2333L631.8 2333.5L665.3 2338.3M760 2079.4L757.9 2082.8L756.4 2086.6L761.2 2090.2M733.7 2189.7L737.4 2189.5L741 2188.7L744.4 2187.3L747.3 2188.9L749.8 2191L752.8 2192.1M744.4 2184.9L749.2 2188.5M685.7 2240L689.3 2236.4L691.7 2232.8L694.1 2230.4L696 2227.6L698.5 2225.3L701.1 2223.1L703.6 2220.8L706.1 2218.5M654.5 2252L659.3 2255.6L661 2259.3L662.9 2262.8M646.1 2261.6L649.3 2260.7L652.5 2260.2L655.7 2260.4L659.9 2261.2L664.1 2261.6M633 2296.4L636.7 2294.9L640.1 2292.8M624.6 2315.6L628.1 2314.8L631.8 2315.3L635.3 2314.3L638.9 2314.4L642.5 2314.8L646.1 2314.4M638.9 2316.8L641.3 2319.2M598.2 2375.5L602.2 2375.3L606.2 2375.3L610.2 2374.3L613.3 2373.3L616.5 2372.8L619.8 2373.1L623.8 2372.4L627.8 2372.8L631.8 2373.1L634.2 2376.7L630.2 2377.4L627 2379.9L623.3 2381L619.8 2382.7L615.8 2383.2L611.8 2384.1L607.8 2383.9L606.5 2387.4L606.6 2391.1L607.8 2394.1L609 2397.1L611.4 2399.5L615.6 2400.7L619.8 2401.9L623.2 2402.6L626.4 2403.6L629.4 2405.5L633.1 2405.6L636.6 2407.1L640.2 2407.8L643.7 2409.1M662.9 2363.5L664.5 2367.2L666.5 2370.7L672.5 2370.7M648.5 2422.3L651.7 2422.4L654.9 2422.4L658.1 2423.6L661.3 2423.6L664.5 2423.9L667.7 2423.5L671.2 2423.5L674.6 2423.3L678 2424.1L681.4 2424.3L684.9 2424L688.2 2425.1L691.7 2424.7L695.3 2425.3L698.9 2423.8L702.5 2423.8L706.1 2424.9L709.7 2424.6L713.3 2424.7M725.3 2429.5L728.5 2428.8L731.6 2427.8L734.9 2427.4L737.9 2425.8L741.3 2425.7L744.4 2424.7L747.6 2425.6L750.9 2424.9L754 2426L757.3 2425.9L760.4 2426.6L763.6 2427.1L766.7 2425.2L770.1 2424.1L773.2 2422.3M710.9 2436.6L715.7 2435.5L718.1 2437.8L713.3 2439L710.9 2436.6M689.3 2447.4L694.1 2451L698.9 2449.8L701.4 2452.7L703.7 2455.8L708.5 2458.2M684.5 2455.8L688.1 2456.6L691.7 2457M441.1 2087.8L442.8 2089L441.9 2090.2L440.4 2089L441.1 2087.8M509.5 2410.3L511.9 2411M869.9 252.7L868.5 256.2L867.9 260L865.6 263.2L865.1 267.1L866.3 270.8L868.4 274.2L869.4 278L871.1 281.5L873.1 284.3L876 286.2L878.3 288.7L876.8 291.8L876.3 295.2L874.7 298.3M872.3 257.5L873 261.3L874.7 264.7M884.3 257.5L886.8 260.7L887.9 264.7M909.5 301.9L913.1 303.5M845.9 237.1L847.1 243.1L850.6 241.2L854.1 239.7L857.9 238.8L854.4 236.7L850.7 234.7L845.9 237.1M845.9 249.1L850.7 250.3L855.5 249.8M603.8 188L606.8 186L608.7 183L611 180.3M606.2 197.6L610.1 196.5L614.2 196.8L618.2 196.4L617.9 200.1L619.4 203.5L616.5 201.5L613.1 200.8L609.8 200M690.1 185.6L690.6 186M712.9 189.2L717.7 188L723.7 189.2L726.1 192.3L722.5 192.9L718.9 193.2L715.3 190.8L712.9 189.2M740 190.8L742.4 189.9L741.9 192.3M791.5 189.4L793.2 190.8M765.6 220.3L769.2 221.3L772.8 222L769.2 223.2L765.6 221.5L765.6 220.3M799.2 217.2L803.4 216.3L807.6 215.5L811.6 213.6L816 213.1L818 216L819.6 219.1L815.5 220.8L811.2 221.5L807.1 220.2L802.8 220.3L799.2 217.2M806.4 223.9L807.1 224.6M813.6 226.3L814.8 226.8M804 234.7L807.7 235.2L811.1 233.6L814.8 233.5L818.1 234L821.2 234.9L824.4 235.9L821.3 237.1L818.1 237.7L814.8 237.8L811.2 237L807.5 237.7L804 236.4M787.2 241.9L793.2 243.1L796.2 241.9L799.2 240.7M587 349.8L590.6 350.8L594.1 352L597.7 352.8L601.4 353.4L607.4 354.1L631.4 383.4L637.4 383.4L640.1 381.3L642.1 378.6L645.8 378.7L649.4 379.4L653 379.9L656.5 381L660.2 380.7L663.6 379L667.3 378.8L670.9 378.6L674.8 377.5L679 378L682.9 376.7L686.1 376.9L689.3 377.7L692.5 377.4L693.8 380.3L696 382.8L697.3 385.8L694.6 389.1L691.3 391.8L691.2 395.4L690.1 398.9L690.1 402.6L687.3 406.3L684.1 409.7L684 413.1L685.3 416.3L684.8 419.7L685.3 422.9L684.2 426.9L683.1 430.8L682.9 434.9L683.3 438.7L684.8 442.1L686.2 445.6L686.5 449.3L687.8 452.9L689.2 456.4L690.1 460.1L693.6 462.1L697.3 463.7L699.1 466.8L701.2 469.7L702.1 473.3L698.5 478.1L695.3 479.8L693.4 482.8L690.7 485L688.3 487.6L685.7 489.9L682.9 492L686.9 493.4L690.1 496.1L692 498.8L694.9 500.4L696.9 503.1L699.5 505.1L701.6 507.6L704.5 509.3L706.1 512.1L706.8 515.3L708.5 518.1L709.3 521.2L711 524.2L712.3 527.3L713.6 530.4L714.4 533.8L715.3 537.1M617 537.1L617 533.3L617 529.6L620.5 529L624.1 528.4L627.8 528.4L673.3 528.9L669.7 524.8L672.1 520L675.9 522.2L679.3 524.8L681.7 522.4L685 521.1L687.4 518.6L690 516.4L692.5 514L696.1 513.3L699.7 512.1L700.7 516.7L702.1 521.2L704.7 524.7L706.9 528.4L709 531L709.5 534.5L711.7 537.1M923.9 413.3L924.9 416.5L925 419.8L926.3 422.9L923.3 424.7L921 427.3L917.7 428.6L915.5 431.3L912.5 433.3L909.1 434.6L905.9 436.1L902.5 436.9L899.5 438.5L896.3 439.7L893.1 441.7L890 443.9L886.7 445.7L883.7 446.9L881 448.8L878 450L874.7 450.5L871.4 450.3L868.3 449L865.1 448.1L861.9 448.6L859.3 450.9L856.2 451.9L853.1 452.9L853.3 456.1L854.7 459.2L854.3 462.5L850.6 464L847.1 466.1L845.1 463.3L843.1 460.5L841.2 457.7L837.3 457.2L834 455.3L830.4 454.3L826.7 454.8L823.2 454.1L819.5 454.5L816.2 456.5L812.4 456.5L810.1 454L807.9 451.4L805.2 449.3L801.6 450L798 448.6L794.4 449.5L790.8 449.3L788.2 446.4L784.8 444.5L786 450.5L788.6 452.4L790.5 455.2L793.4 456.8L795.5 459.2L798 461.3L800.9 464.4L803.9 467.4L806.4 470.9L806.4 474.5L806.1 478.1L805.2 481.7L806.6 485.2L809.5 487.9L810.2 491.8L812.4 494.9L811.4 498L810.7 501.2L811.2 504.5L814.8 504.5L818.4 504.6L821.9 506.1L825.6 505.8L829.2 505.7L832.8 506.9L833.2 510.5L834 514L830.5 514.9L827.4 516.5L824.2 518.1L820.8 518.8L818.5 521.3L815.3 522.3L813 524.7L810 526L809.8 529.7L808.8 533.2L804.8 535.5L800.4 537.1M952.6 309L949.6 312L946.6 315L943.9 317.5L940.1 318.4L937.4 320.9L934.1 322.5L931.1 324.6L929.1 327.2L926.8 329.6L925.5 332.6L923.9 335.4L925.8 338.3L926 341.9L927.5 345L931.3 346.2L934.5 348.6L938.3 349.8L935 353.2L932.3 357L928.7 358.1L925 358.3L921.3 359L917.9 360.6L914.6 362.1L911.7 364.2L908.3 365.4L909.4 369.3L908.5 373.4L909.5 377.4L906.8 379.9L905.2 383.3L902.7 385.8L899.9 388.2L922.7 412.9L926.1 413.2L929.4 412.1L932.7 412.1L936.1 412.1L939.5 411.7L943.2 414L946.6 416.9L946.1 420.2L946.2 423.5L946.3 426.9L945.5 430.1L943.6 433.1L941.9 436.1L945.5 437L949.2 437.5L952.7 438.7L956.2 439.7L956.5 443L957.7 446.1L958.6 449.3L960.1 452.5L962.2 455.3L959.7 458.3L958.2 462L956.1 465.3L953.8 468.5L952.2 472.3L952.8 476.6L951.4 480.5L949.5 484.2L948.2 488.2L947.8 492.5L948.1 495.9L948.8 499.3L950.1 502.5L950.3 506L951.4 509.3L952.1 512.5L953.3 515.5L955.1 518.2L956.2 521.2L957.7 524.1L959.4 526.9L961 529.6L964 532.3L967.5 534.5L970.6 537.1M617 537L617.8 540.3L617.4 543.6L617 546.9L617.7 550.2L621.2 549.8L624.6 550.1L628.1 550.2L631.5 551.4L635 551.4L638.3 554.7L640.9 558.6L640 562.1L639.7 565.8L636.7 564.2L633.4 564L630.2 563.4L626.9 563.9L623.8 565.2L620.4 565.2L617.2 565.9L614.2 567.5L611 568.2L610.8 571.8L610.7 575.4L611.1 579L610.7 582.6L610.7 586.2L609.5 589.7L609.8 593.3L612.5 596.1L615.8 598L618.7 600.4L622.1 602.2L625.4 604.1L626.5 607.6L626.6 611.3L627.9 614.4L629.2 617.4L630.5 620.4L632.1 623.3L632.7 626.6L632.2 629.8L631.4 632.9L613.4 731.2L609.8 733.6L607.4 730L605 726.4L603.4 722.7L601.4 719.2L598.2 718.5L595.7 716.1L592.7 715L589.4 714.4L609.8 678.5L607 676.4L604.6 673.9L601.4 672.5L597.5 671.6L594.5 668.8L590.6 668.1L587 666.5M613.4 731.2L609.7 731.6L606.2 732.4L602.9 729L599 726.4L595 726.5L591 727.6L587 727.6M706.9 537L708.1 540.1L707.3 543.4L708.1 546.6L712.3 546.2L716.5 545.4L716 541.2L715.3 537M716.5 545.4L719 547.9L722.4 549.3L725 551.7L727.3 554.4L730.5 556.1L733.3 558.3L735.7 561L739.3 560.4L742.8 561L746 559.4L749.1 557.8L751.8 555.6L754.8 553.8L758.4 555.7L762 557.4L761 560.9L760.8 564.6L763.9 562.9L766.8 561L769.8 558.7L771.7 555.4L774 552.6L777.7 550.3L781.2 547.8L784.2 545.4L787.3 543.4L790.8 541.8L794.1 540.5L797.4 539L800.4 537M968.2 537L972.2 539.5L975.4 543L979.7 544.7L983.8 546.6L987.1 546L990.4 546L993.8 546.4L997 545.4M716.5 922.1L721.3 918.2L724.4 917.3L727.7 918.4L730.8 916.8L734.1 918.1L737.2 916.4L740.5 917L743.9 916.7L747.3 915.7L750.7 914.7L754.1 914L757.6 913.5L761.1 913.2L764.4 912.2L767.2 915.5L770.4 918.2L769.2 922.1M587 907.4L590.8 906L594.2 903.8L593.2 907L591.8 910L591.8 913.4L591.4 918L589.4 922.1M590.6 922L590.6 953.2L593.3 954.9L595.8 957L599 958L602.4 956.2L606.4 956.4L609.8 954.4L613.4 953.2L616.7 952.5L620 952.4L623.3 954L626.6 953.2L630.2 953.2L633.6 955.1L637.3 955.1L640.9 955.3L644.5 956.2L648.2 955.7L651.7 956.8L656.5 960.4L660.3 959.2L663.9 957.9L667.1 955.3L670.9 954.4L673 951.2L675.2 948.2L676.9 944.8L680.5 945.4L684.1 945.3L687.7 944.8L689.5 941.4L692 938.7L694.9 936.4L697.6 934.4L701.2 934.8L703.6 932L706.9 931.6L710.1 929.2L713.3 926.8L716.5 924.4L719.4 923L722.5 922M626.6 953.2L649.3 989.1L650.3 992.7L651.7 996L653.8 999.1L655.6 1002.4L656.5 1005.9L653.5 1008.9L650.5 1011.9L646.9 1014.3L646.1 1017.5L645.9 1020.8L646.4 1024.1L645.8 1027.3L646.1 1030.6L646.2 1033.9L645.7 1037.1L644.2 1041.2L643.3 1045.5L644.4 1048.5L646.3 1051.2L647.8 1054.1L649.4 1056.8L650.5 1059.9L647.5 1062.4L645.7 1065.9L643.9 1068.8L641.2 1070.9L639.2 1073.7L636.2 1075.5L634.3 1078.8L634.5 1082.9L632.6 1086.2L635.6 1089.3L638.5 1092.4L640.9 1095.8L638.9 1098.9L636.8 1102L633.8 1104.2L631.6 1107.6L630.2 1111.4L632.2 1114.5L632.5 1118.1L634.1 1121.4L634.6 1125L636.2 1128.2L639.3 1129.2L642.6 1129.7L645.7 1130.6L649.1 1131.4L651.7 1133.5L648 1136L644.5 1139L644.5 1145L641.4 1147.8L638.2 1150.6L635 1153.4L631.8 1155.5L628.6 1157.7L626.2 1160.8L623 1163L626.5 1164.7L629 1167.8L627.5 1171.2L627.8 1175L624.1 1175.9L620.4 1176.8L617 1178.5L618.2 1182L618.2 1185.7L616.3 1189.1L615.8 1192.9L612.7 1194.5L610.1 1196.9L607.4 1198.9L603.3 1200.1L599 1200.1L595.6 1198.6L593.1 1195.8L589.9 1193.9L587 1191.7M627.8 1175L630.3 1178.5L632.6 1182.1L636.3 1184.4L638.9 1187.7L642.1 1190.5L643 1193.7L642.9 1197L644.1 1200.1L644.5 1203.3L645.6 1206.4L645.7 1209.7L646.3 1213.7L646 1217.8L646.9 1221.7L649.4 1224.1L652.2 1226L654.6 1228.5L657.1 1230.7L660.1 1232.5L662.5 1234.9L660.7 1237.7L659.9 1241.1L658 1243.8L656.5 1246.9L658.2 1250.6L660.1 1254.1L657.6 1256.5L654.6 1258.2L651.7 1260.1L652.4 1263.4L654.2 1266.5L655.3 1269.7L655.3 1273.3L659.5 1275.2L663.7 1276.9L661.8 1281L660.1 1285.2L663 1287.8L666.1 1290L667.9 1293.2L667.3 1297.1L669 1300.3L669.8 1303.7L670.9 1307.1M768 922L768.5 925.6L769.2 929.2L768 932.4L766.3 935.4L765.6 938.8L767 942.3L767.2 946.3L769.3 949.5L770.4 953.2L769.8 956.6L767.2 959.3L766.8 962.8L767.6 965.9L769.4 968.8L769.8 972.1L770.8 975.2L771.6 978.3L774.8 979.1L777.6 980.7L778.8 984.2L778.8 987.9L782.1 988.5L784.7 990.7L787.9 991.2L790.8 992.7L792.9 996.2L795.1 999.5L798 1002.3L801.4 1003.8L805.1 1004.3L808.9 1004.4L812.4 1005.9L816.8 1005.3L820.8 1003.5L824.5 1004.6L827.1 1007.6L830.7 1008.8L834 1010.7L838.2 1010.6L842.4 1009.5L845 1011.9L846.8 1014.8L848.3 1017.9L850.8 1020.1L853.8 1021.4L856.9 1022.3L860.1 1023.2L862.7 1025.1L866.7 1026.1L870.8 1025L874.7 1026.3L877 1028.7L879.3 1031.1L879.8 1034.7L882 1037.2L884.3 1039.5L887.9 1039.3L891.5 1040.3L895.1 1039.2L898.7 1039.5L902.3 1039.2L905.9 1039.1L909.5 1039.3L913.1 1039.5L916.5 1040.7L919.8 1042.1L922.7 1044.3M922.7 1044.3L926.1 1046.3L928.7 1049.6L932.3 1051.5L932.6 1055.5L931.8 1059.5L931.1 1063.5L932.9 1066.1L933.5 1069.4L935.5 1072L937 1074.9L938.3 1077.8L939.2 1081.5L939 1085.3L939.4 1089L939 1092.7L935.1 1091.8L931.3 1093L927.5 1092.7L930.4 1094.7L931.8 1098.1L933.9 1100.8L936.3 1103.2L939 1105.4L940.7 1131.8L997 1133.5M865.1 1307.1L866.7 1303.5L868.2 1300L869.2 1296.3L869.9 1292.4L870 1289.1L869.3 1285.7L869.3 1282.4L869.2 1279L869.9 1275.7L872.3 1272.7L874.1 1269.3L876.6 1266.5L877.9 1262.8L880.7 1260.1L882.6 1257L883.4 1253.5L884.2 1249.9L887.1 1247.3L887.9 1243.8L925.1 1238.5L928.5 1237.6L931.7 1236L935.4 1236.4L938.5 1234.3L942 1234.1L945.5 1233.2L946.6 1234.4L977.3 1233.7L980.5 1234.6L982.9 1236.8L985.4 1238.9L988.8 1239.4L991.5 1241.2L994.5 1242.4L997 1244.5M790 1329.1L793.6 1332.2L794.2 1335.8L795.6 1339.1L796.7 1342.5L798.3 1345.8L799.8 1349.1L800.8 1352.6L815.9 1323.3L852.3 1323.3L854.3 1328.6L857.9 1332.2M857.9 1332.2L865.5 1307M857.9 1332.2L861.5 1333.9L864.6 1336.3L867.1 1339.6L870.3 1341.8L872.4 1344.4L873.7 1347.5L874.9 1350.6L876.7 1353.5L878.7 1356.2L881.2 1359L884.4 1361.1L887.2 1363.5L890.3 1365.7L893.1 1368.1L896.1 1369.6L898.6 1372L901.9 1372.9L904.8 1374.6L907.5 1376.5L910.1 1380L912.3 1383.7L914.9 1385.9L918.1 1387.2L921.7 1387.4L924.3 1389.7L928.1 1391.3L932.4 1391.7L936.3 1393.3L939.9 1394.1L943.5 1393.7L947 1392.8L950.1 1394.4L952.7 1396.8L955.7 1398.6L959.4 1399L961.9 1401.4L965 1402.9L969.1 1405.3L972.2 1408.9L975.8 1410.2L978.9 1412.4L982.3 1413.9L985.5 1415.9L989 1417.3L992.5 1418.9L996 1420.3L999.9 1420.5L1003.4 1422.1L1007.1 1423.7L1010.6 1425.7L1013.8 1426.2L1016.8 1428.1L1020.2 1428.1L1022.7 1430.5L1023.9 1433.8L1026.1 1436.5L1028.6 1438.9L1027.4 1443.7L1024.4 1446.1L1021.4 1448.5L1019.7 1452L1018.7 1455.9L1016.6 1459.3L1013.2 1461.9L1009.4 1464L1008.4 1467.6L1008.5 1471.2L1009.2 1474.9L1008.2 1478.4L1006.4 1481.8L1004.4 1485L1002.2 1488L999.6 1492L996.2 1495.2L993.3 1498.8M993.3 1498.8L997.4 1499.6L1001.7 1498.6L1005.8 1499.5L1009.4 1499.9L1012.9 1501.1L1016.5 1501.5L1020.2 1501.7L1023.6 1503.1L1027.6 1502.4L1031 1504L1034.6 1504.8L1037.9 1505.3L1041.3 1505.3L1044.4 1507.1L1047.7 1507.2L1051.2 1505.9L1054.8 1505L1058.5 1504.8L1062.5 1505.9L1066.5 1505.5L1070.5 1505.5L1074 1505L1076.7 1502.5L1080.1 1501.7L1084.6 1503L1088.5 1505.5L1091.7 1502.3L1094.5 1498.8L1097.1 1495.3L1099.3 1491.6L1102.1 1489.7L1105.4 1488.9L1108.6 1487.8L1111.3 1485.6L1114.7 1484L1118 1482.1L1120.9 1479.6L1122.5 1476.2L1123.2 1472.4L1125.1 1469.1L1125.7 1465.2L1125.2 1462L1125.7 1458.8L1125.4 1455.6L1126.6 1452.5L1127 1449.3L1126.9 1446.1M1014.2 1307L1014.7 1310.6L1015.4 1314.2L1015.1 1318.2L1015.5 1322.3L1014.2 1326.2L1017.5 1326.9L1020.6 1328.5L1024 1329.1L1027.4 1329.8L1031 1329.6L1034.5 1331.2L1038.1 1331.3L1041.8 1331L1045.8 1330.8L1049.7 1332.2L1053.7 1332.2L1057 1331.1L1059.9 1329.5L1063.1 1328.3L1065.7 1326.2L1067.8 1328.9L1070.5 1331L1074.5 1331.2L1078.3 1332L1082.1 1333.3L1086.1 1333.4L1087.6 1336.9L1090.6 1339.5L1092.1 1343L1093.4 1346.2L1093.8 1349.6L1093 1353.1L1093.5 1356.5L1094.5 1359.7L1094.9 1363.2L1095.4 1366.6L1096 1370L1097.6 1373.1L1098.1 1376.5L1099.4 1380.4L1099.5 1384.6L1100.5 1388.5L1104 1389.7L1107.8 1388.7L1111.3 1389.7L1114.6 1387.7L1118.7 1388L1122.2 1386.6L1125.7 1384.9L1128.8 1386.4L1131.7 1388.5L1134.5 1390.7L1137.7 1392.1L1137.9 1395.7L1138.1 1399.3L1137.7 1402.9L1136.7 1406.2L1136.5 1409.7L1136.3 1413.1L1135.4 1416.5L1134.1 1419.7L1132.8 1423.2L1132.2 1426.9L1130.6 1430.3L1130.5 1434.1L1128.9 1438L1127.8 1442L1126.9 1446.1M1126.9 1446.1L1131.3 1445.6L1135.3 1443.7L1138.4 1442.6L1141.7 1443.1L1144.9 1442.5L1148.3 1445L1152 1447.3L1152.8 1451.6L1154.4 1455.7L1155.6 1459.5L1157.4 1463L1159.2 1466.4L1159.1 1469.8L1158.8 1473.2L1158 1476.4L1156.8 1479.6L1156.7 1482.9L1157 1486.1L1158 1489.2L1156.3 1493.3L1153.2 1496.4M1153.2 1496.4L1149.9 1498.5L1146 1499.6L1142.5 1501.2L1139.4 1503.1L1136.3 1505L1132.9 1506L1129.8 1507.1L1127.1 1508.9L1124.1 1510.2L1120.9 1510.8L1117.2 1512.6L1114 1515L1111.3 1518L1108.7 1520.5L1104.8 1520.8L1102.1 1523L1099.3 1525.2L1096.3 1526.9L1093.7 1529.1L1090.9 1531.1L1088.5 1533.6L1090.9 1537.2L1086.7 1538.8L1082.5 1540.8L1079.5 1543.4L1076.3 1545.8L1074.1 1549.2L1071.5 1553.1L1068.1 1556.4L1064 1558.7L1060.9 1562.4L1058.9 1564.9L1057.9 1568.1L1056.1 1570.8L1053.7 1573.1L1051.7 1575.9L1049.2 1578.2L1047.1 1580.9L1044.2 1582.7L1041.4 1585.7L1038.1 1588L1034.6 1589.9L1032.4 1593.5L1028.9 1595.9L1026.2 1599L1023.4 1601.4L1022.7 1605.2L1019.3 1607.1L1017.8 1610.3L1018.6 1613.9L1019.1 1617.4L1019 1621.1L1018.4 1625.3L1017.4 1629.3L1015.4 1633.1L1013.4 1636.9L1013.7 1641.3L1011.8 1645.1L1010 1648.2L1008.8 1651.6L1007 1654.7L1007.3 1658L1007 1661.4L1007.8 1664.7L1007.2 1668.1L1008.2 1671.4L1008.3 1675.5L1009.1 1679.4L1009.4 1683.4L1010.7 1687.7L1011.8 1692.1M1026.2 1599L1029.4 1599.7L1032.7 1599.9L1036.1 1598.5L1039.4 1599.5L1042.8 1597.4L1045.4 1594.2L1048.9 1594.7L1052.5 1594.7L1055.6 1596.7L1057.9 1599.5L1060.2 1602.4L1063.3 1604.3L1065.7 1606.8L1068.5 1608.8L1071.2 1611L1074.1 1612.7L1077.6 1615.9L1081.3 1618.7L1082.2 1623.3L1081.3 1627.8L1084.3 1625.8L1087.6 1624.2L1090.6 1622.4L1093.3 1619.9L1096.2 1622.5L1099.5 1624.9L1101.7 1628.3L1103.5 1631.3L1106.5 1633.1L1110.3 1634.1L1114 1635.3L1117 1638.3L1120.9 1639.1L1124.3 1639.7L1127.1 1642L1130.5 1642.7L1132.7 1645.3L1135.3 1647.5L1138.1 1649.4L1140.1 1652.3L1143.5 1653.4L1146.1 1656.1L1149.6 1657.1L1152.5 1659L1154.1 1662.2L1156.8 1664.3L1158.5 1667.3L1158.6 1670.9L1160.4 1673.8L1163.5 1674.9L1166.5 1676.3L1168.8 1678.6L1172.1 1679.3L1175.1 1680.6L1178.4 1681L1180.9 1678.7L1183.8 1676.8L1185.6 1673.8L1187.4 1670.9L1191 1669.7L1192.9 1666.8L1195.2 1664.3L1194.3 1667.4L1194.4 1670.8L1192.8 1673.8L1194.7 1677.2L1195.2 1681L1192.5 1683.1L1190.8 1686.2L1188 1688.2L1183.2 1684.6M999.8 1723.2L999.1 1719.7L997.4 1716.6L995.7 1713.6L996.3 1710.3L998.1 1707.3L998.6 1704L1001.1 1700.1L1002.2 1695.6L1008.2 1694.4L1011.8 1692M1001 1720.8L998.9 1716.8L998.1 1712.4L999 1709.2L999.8 1705.9L1001 1702.8M1164 1716L1162.9 1712.5L1164.3 1708.7L1162.4 1705.2L1162.8 1701.6L1166 1698.1L1168.8 1694.4L1172.3 1692.8L1176 1692M1167.6 1713.6L1168 1710.3L1166.3 1707.3L1166.4 1704L1169.1 1701.4L1171.7 1698.8L1173.6 1695.6M790 2006.1L793.2 2006.6L796.3 2007.8L799.6 2007.3L802.7 2005.8L805.9 2004.8L809.2 2003.7M790 2013.3L793.1 2011.9L796.3 2011.2L799.6 2010.9L802.4 2013.5L805.6 2015.7L802.4 2016.6L799.7 2018.3L797.2 2020.5L793.5 2020.3L790 2021.7M809.2 2021.7L812.8 2021.1L816.3 2020.6L820 2021.5L823.6 2020.5M866.7 1891L867 1894.3L869.1 1897.2L869.1 1900.6L871.5 1903L873.9 1905.4M873.9 1893.4L877.4 1894.7L881.1 1894.6L882.3 1898L884.7 1900.6L878.7 1899.4M861.9 1936.6L866.7 1934.2L867.3 1937.4L868.1 1940.6L869.1 1943.8L865.5 1946.2L865.1 1942.7L863.9 1939.5L861.9 1936.6M1039.4 1771.1L1043 1774.7L1040.6 1777.4L1039.4 1780.7M1053.7 1807.1L1053.5 1810.8L1055.3 1814.2L1054.4 1818L1055.7 1821.5L1053.4 1824.5L1050.7 1827.2L1049.3 1830.8L1046.5 1833.5M1003.4 1748.3L1005.8 1750.8L1009 1752L1012.5 1752.6L1015 1754.9L1017.8 1756.7M905.1 2295.7L909.9 2296.4M914.7 2298.8L919.5 2301.2L917.1 2297.6M923.1 2304.8L926.4 2306.8L930.3 2306.9L933.9 2308.4L936.7 2306.7L939.8 2305.8L943.1 2305.4L945.8 2303.6L949.8 2304.1L953.8 2303.5L957.8 2303.6L960.8 2304.9L963.5 2306.7L966.8 2307.2L969.8 2308.4L974.6 2310.8M924.3 2307.2L927.3 2308.9L930.8 2309.3L933.9 2310.8L937.3 2310.3L940 2307.7L943.5 2307.2M903.9 2318.7L904.6 2319.6M931 2300L931.5 2300.5M938.7 2300L939.1 2300.5M975.8 2341.7L976.5 2342.2M955.4 2340.3L954.2 2334.7L957.8 2332.4M984.2 2334.7L984.7 2335.2M998.6 2330L999.1 2330.2M909.9 2321.6L913 2320.2L916 2318.4L919.5 2318L922.7 2318.1L926 2317.9L929.1 2319.2L932.5 2319.1L935.6 2318.1L938.7 2316.8M914.7 2326.4L917.7 2324.9L920.9 2323.9L924.3 2324L927.6 2324.3L930.7 2323.5L933.9 2322.8M981.8 2314.4L985.5 2316.6L989 2319.2L992.3 2319.7L995.3 2321.2L998.6 2321.6L1001.7 2319.9L1004.9 2318.3L1008.2 2316.8M993.8 2308.4L997.3 2309.9L1001 2310.8L1005.8 2314.4M957.8 2316.8L961.3 2314.8L965 2313.2L969.8 2314.4M790 2423.5L793.5 2422.1L797.2 2421.1L801.1 2420.1L805.2 2420.7L809.2 2420.3L813.4 2420.1L817.6 2421.1L813.2 2421.1L809.2 2422.7L805.1 2422.8L801.1 2423.3L797.2 2424.7L793.6 2425.7L790 2425.1M1042.6 388.2L1042.4 391.8L1041.7 395.4L1041.4 399L1039.5 402.6L1038.1 406.5L1035.4 409.7L1037.6 412.3L1040.2 414.5L1036.6 417L1033 419.3L1029.6 419.4L1026.4 420.5L1023.1 420.7L1019.8 420.5L1016.2 425.3L1017.8 428.8L1018.6 432.5L1016.9 435.3L1015.9 438.4L1014.5 441.3L1013.8 444.5L1013.1 447.9L1010.9 450.5L1012.8 454.8L1015 458.9L1017.6 462.9L1021 466.1L1023 469.4L1025.8 472.1L1029.4 472.7L1032.9 473.9L1036.6 474.5L1037.8 477.7L1037.5 481.3L1039.2 484.4L1040.2 487.7L1041.3 490.9L1043.4 493.5L1045.2 496.3L1046.5 499.4L1048.5 502.1L1050.5 504.8L1051.6 508.1L1053.3 511.1L1055.2 513.9L1056.5 517L1058.1 520M1146.9 396.6L1147.1 399.8L1145.3 402.9L1145.7 406.2L1143.2 408.5L1139.9 409.9L1137.4 412.2L1134.9 414.5L1133.2 418L1132.6 421.9L1130.8 425.3L1131.4 428.9L1130.8 432.6L1131.6 436.2L1132.5 439.7L1133 443.9L1135.2 447.6L1136.1 451.7L1138.4 454.8L1141 457.6L1143.5 460.5L1145.7 463.7L1146 466.9L1146.4 470.1L1146.9 473.3L1145.1 476.7L1143.6 480.1L1140.9 482.9L1141.5 486.9L1140.8 490.9L1140.9 494.9L1138.5 498.3L1137.5 502.4L1134.9 505.7L1133.5 509.1L1133.7 512.8M1227.2 449.3L1224.3 451.9L1222.1 455.1L1220.5 458.8L1217.6 461.3L1216.7 464.5L1214 466.7L1212.6 469.6L1210.6 472.2L1209.3 475.1L1208 478.1L1206.3 481.1L1204.6 484.1L1202 486.5L1201 490L1199.1 493.1L1196.7 496L1196 499.7L1192.9 502.4L1190.5 505.5L1188.8 509.3L1185.3 512.1L1181.6 514.5L1178.6 513.1L1175.4 512.6L1172 512.8L1168.5 511.6L1164.8 510.5L1161.6 510.2L1158.5 509L1155.2 509.3L1152.3 511L1149 512.1L1146.3 514.4L1143.3 516L1140.1 514.8L1137.1 513.1L1133.7 512.8L1130.2 512.4L1127.4 510L1124.1 509.3L1122.2 505.6L1119.1 503L1116.9 499.7L1113.4 501.2L1109.7 502.1L1106.1 503.2L1102.5 504.5L1098.9 505.1L1095.3 505.4L1091.7 504.9L1088.1 505.7L1084.7 503.8L1080.9 503.3L1079.5 506.2L1077.6 508.8L1076.1 511.6L1078.1 514.5L1080.9 516.4L1081.9 520.1L1083.3 523.6L1079.5 523.8L1076.1 525.6L1072.4 525.1L1068.9 523.8L1065.2 523.7L1061.8 521.6L1058.1 521.2L1054.9 522.2L1051.6 522.7L1048.3 523.2L1045 523.6L1042.5 521.3L1040.2 518.8L1036.9 521.7L1033 523.6L1030.1 525.9L1027.3 528.3L1023.9 529.8L1021 532L1017.1 533.1L1013 533.1L1009 533.2L1004.8 533.8L1001 535.8L997 537.1M1203.2 419.3L1204.1 423.5L1204.4 427.7M1212.8 442.1L1216.4 439.7L1216.4 433.7M1227.2 449.3L1227.3 445.6L1229.5 442.3L1229.6 438.5L1232.8 440.3L1235.4 442.9L1237.8 445.6L1240.4 448.1L1241.2 451.5L1242.8 454.7L1243.7 458.1L1245.2 461.3L1245.9 464.8L1246.5 468.2L1247.3 471.7L1248.7 475L1248.8 478.6L1249.5 482.1L1251.2 485.3L1251.6 488.5L1252.4 491.7L1252.3 495L1254.2 497.9L1254.2 501.3L1254.7 504.5L1255.8 507.5L1257.9 510.2L1257.5 513.8L1259.5 516.4M1263.1 514L1267.9 515.2L1269.7 518.4L1270.6 521.9L1272.7 524.8M1102.5 388.2L1105.7 390.7L1109.7 391.8L1113.8 390.7L1118.1 390.6M1276.3 563.4L1278.4 566.7L1278.3 570.7L1279.9 574.2L1283.2 574.5L1286.5 574.4L1289.9 574.2L1293.1 575.4L1295.6 578.3L1297.1 581.7L1299.1 585L1302.3 586.1L1304.8 588.5L1307.8 590L1311.1 590.9L1314.5 591.6L1317.9 592.4L1321.2 593.7L1324.5 594.9L1327.9 595.7L1331.5 596.6L1335.1 595.7L1333.9 599.9L1332.7 604.1L1336 605.1L1339.3 606.4L1342.9 606.6L1346.5 606.5L1349.7 608L1353.1 608.9M997 543L1000.4 541.8L1003.5 540L1006.6 538.2L1010.3 538.5L1013.8 537M997 1133L1003 1134.2L1000.5 1138.1L999.4 1142.6L998.6 1145.7L998.9 1149L998.2 1152.2L999.5 1155.3L1001.4 1158.1L1003.1 1161L1004.2 1164.2L1006.9 1167.5L1010.7 1169.6L1013.8 1172.6L1017.4 1173.3L1021 1173.8M997 1244.5L999.8 1246.4L1002.8 1247.8L1005.9 1249.2L1009 1250.5M1021 1173.8L1021.5 1177L1023.1 1179.9L1024.8 1182.6L1025.8 1185.7L1026.2 1189.1L1028.4 1191.7L1028.9 1194.9L1030.6 1197.7L1028.7 1200.9L1028 1204.5L1027 1208L1024.9 1211.1L1024.6 1214.9L1023.5 1218.3L1022.2 1221.7L1009 1250.5L1012.5 1251.9L1014.9 1255.2L1018.6 1256.5L1014.5 1258.7L1010.2 1260.1L1008.8 1263.6L1007.8 1267.3L1008.6 1270.6L1011 1273.2L1012.6 1276.1L1013.8 1279.3L1014.4 1282.5L1016 1285.3L1016.7 1288.5L1018.6 1291.2L1017.4 1294.3L1017.6 1297.6L1017.6 1300.8L1016.6 1303.9L1016.2 1307.1M1451.8 1362.1L1454.7 1360.3L1456 1356.8L1458.9 1355L1463 1354.6L1466.9 1352.9L1470.9 1352.6L1474.2 1355.9L1478.1 1358.5L1481.4 1358.2L1484.5 1356.7L1487.7 1356.2L1491.2 1357.8L1494.9 1358.5M1435 1378.9L1438.4 1377.8L1440.7 1374.8L1444 1373.6L1447 1371.7L1450.5 1369.3L1454.2 1366.9M1433.8 1381.3L1437.2 1383.9L1439.8 1387.3L1442.2 1388.5M1444.6 1383.7L1445 1384M1448.2 1382.5L1448.6 1382.8M1411 1384.9L1414.9 1383.9L1419.1 1384.1L1423 1382.5L1426.5 1383.5L1430.1 1384.2L1433.8 1384.9M1327.1 1506L1331.2 1505.1L1335.5 1504.8L1334.1 1508.9L1334.3 1513.2L1331.5 1515.2L1329.5 1518M1238.4 1592.3L1237.3 1595.8L1237.2 1599.5L1239.9 1601.6L1242 1604.3L1248 1603.1L1251.4 1601.8L1255.1 1601.9L1258.3 1600.4L1261.1 1598.3L1262.8 1604.3L1260 1606.5L1257.5 1609.1L1257.5 1612.7L1257.5 1616.3L1254.5 1619.2L1251.4 1622.2L1249.2 1625.9L1246.1 1627.6L1243.2 1629.5L1242.1 1633.6L1242 1637.9L1238.9 1639L1235.9 1640.3L1233.6 1642.7L1231.1 1646.2L1228.8 1649.9L1225.9 1652L1222.8 1653.8L1219.2 1654.7L1215.3 1656.6L1212 1659.5L1209.6 1657.1L1207.2 1652.3L1209.6 1649.9L1212 1647.5L1213.1 1643.5L1215.6 1640.3L1218 1638L1220.8 1636.4L1224 1635.5L1226.4 1632.7L1229.4 1630.4L1231.2 1627.1L1232.1 1623.9L1234.5 1621.6L1236 1618.7L1237.4 1615.4L1239.5 1612.5L1240.8 1609.1L1239.5 1605.9L1240.3 1602.3L1239.2 1599L1238.2 1595.8L1238.4 1592.3M1546.5 2381.5L1550.1 2379.6L1552.9 2382L1556.8 2382.7L1555.3 2385.3L1551.3 2384.4L1547.7 2383.4L1546.5 2381.5M1548.9 2382L1554.9 2383.9M1407 622.1L1411 624.6L1414.2 628.1L1417.7 627L1421.4 626.9L1424.6 630.3L1428.6 632.9L1430.8 635.5L1433.4 637.7L1435.5 640.3L1438.2 642.5L1441.2 639.8L1443.6 636.6L1445.4 632.9L1449 632.3L1452.6 632.9L1453.4 636.1L1454.4 639.3L1455 642.5L1457.4 646.5L1460.9 649.7M1468.9 664.1L1472.6 665.3L1476.4 666.2L1480.1 667.5L1483.7 668.9L1486.7 667L1489.6 665L1492.8 663.7L1495.7 661.7L1498.1 666.5M1651.6 1029.9L1650.5 1033.2L1650.4 1036.6L1650.9 1040L1650.2 1043.3L1650.4 1046.7L1649.4 1050.1L1649.7 1053.5L1649.3 1056.9L1649.5 1060.4L1649.8 1063.8L1649 1067.2L1649.2 1070.7L1648.6 1073.8L1649 1077.1L1648 1080.2L1649.5 1083.7L1649.6 1087.5L1650.4 1091.1L1651.6 1094.6M1606 1267.3L1604.6 1270.2L1603 1273L1600.6 1275.3L1599.1 1278.2L1598.3 1281.4L1596.4 1284"/>
<path class="p" d="M1178.4 1343L1181.5 1340.5L1184.6 1337.8L1188 1335.8L1190.6 1333.2L1194.4 1332.9L1197.3 1330.8L1200 1328.6M1178.4 1343L1182 1343.2L1185.6 1344L1189.3 1342.8L1192.8 1344L1196.4 1343.2L1200 1344.2M1341.1 1106.1L1368.2 1106.1L1370.6 1111.4L1369.5 1114.8L1370.2 1118.4L1369.8 1121.8L1369.8 1125.3L1338.7 1125.3L1339.4 1121.5L1340.4 1117.7L1341.1 1113.8L1341.3 1110L1341.1 1106.1M1253.5 1240.9L1250.9 1244.8L1247.6 1248.1L1247.6 1251.3L1247.5 1254.6L1246.4 1257.7L1244.4 1260.5L1242.1 1263L1239 1264.7L1236.8 1267.3L1234.2 1270.3L1232.2 1273.8L1229.6 1276.9L1228.7 1280.5L1228.4 1284.2L1227.6 1287.8L1226 1291.2L1224.6 1294.6L1222.6 1297.6L1220.4 1300.4L1218.9 1303.7L1217.6 1307.1M1246.4 1257.7L1249.9 1256.8L1253 1254.9L1255.9 1252.9L1259.2 1251.8L1262.5 1251L1265.5 1249.3L1268.7 1250.9L1272.4 1251L1275.5 1252.6L1278.7 1254.1L1282.6 1253.2L1286.5 1254.1L1290.4 1254.4L1294.3 1254.1L1297.9 1255.4L1301.5 1256.6L1305.1 1257.7L1306.6 1262L1308.7 1266.1L1312.6 1264.9L1315.9 1262.5L1316.6 1266.6L1317.1 1270.9L1318.9 1266.7L1320.7 1262.5L1324 1261.8L1327.4 1261.3L1330.8 1261.6L1334.2 1261.1L1337.5 1260.1L1341 1259.6L1344.7 1260.1L1348.3 1259.4L1351.9 1258.9L1355.5 1258.6L1358.9 1256.9L1362.7 1257.3L1366.2 1256.5L1367.5 1259.8L1369.8 1262.4L1372.2 1264.9L1373.6 1268.1L1372.8 1271.8L1374.6 1274.9L1374.4 1278.4L1375.8 1281.6L1375.6 1285L1373.5 1287.9L1373.4 1291.2L1375.6 1294L1376.3 1297.7L1378.8 1300.3L1380.6 1303.2L1384.1 1304.7L1387.7 1305.6L1391.4 1306.2L1395 1307.1M1399 1307L1398.4 1310.4L1395.8 1313.1L1395.4 1316.6L1394.8 1320L1393.7 1323.3L1391.8 1326.2L1393.6 1329.2L1394 1332.7L1395.4 1335.8L1397.3 1338.7L1399.9 1340.9L1402.6 1343L1403.4 1346.1L1404.3 1349.2L1403.8 1352.6L1407.1 1352.7L1410.4 1352.4L1413.7 1352L1417 1351.4L1419.2 1348.8L1421.6 1346.4L1424.2 1344.2L1427.4 1343.4L1430.7 1342.7L1434 1342.6L1437.4 1343L1440.8 1341.9L1444.1 1340.9L1447.8 1340.7L1450.7 1338.2L1454.4 1338L1457.7 1337M1457.7 1337L1460.8 1340.1L1462.5 1344.2L1465.8 1344.3L1469.1 1343.5L1472.4 1343.8L1475.7 1344.2L1476.9 1350.2L1472.9 1352.4L1468.5 1353.8M1200 1344.2L1203.3 1344.2L1206.4 1343.2L1209.6 1342.5L1213.2 1343.1L1216.9 1343.1L1220.5 1344.3L1224 1345.4L1227.6 1345.6L1231.2 1345.4L1234.7 1346.7L1238.4 1346.6L1242 1347.2L1245 1349.7L1248.8 1350.1L1251.7 1352.6L1255.1 1353.8L1258.8 1353.3L1262.3 1355.1L1266 1354.1L1269.5 1355L1273.5 1354.8L1277.5 1354.7L1281.5 1355L1283.8 1357.5L1286.1 1360L1288.7 1362.1L1291.1 1365.1L1293 1368.4L1294.7 1371.7L1295.9 1374.8L1296.3 1378L1295.9 1381.3L1297.2 1384.7L1298.5 1388L1300.7 1390.9L1302.2 1394.8L1305 1398L1306.7 1401.7L1305 1404.7L1304.3 1407.9L1304.3 1411.3L1307.9 1411.7L1311.4 1412.6L1315.1 1412.5L1318.9 1413.4L1322.9 1413.6L1326.8 1414.2L1330.7 1414.9L1330.8 1419.1L1330.7 1423.3L1334.3 1423.6L1337.9 1424.5L1341.4 1427.6L1343.9 1431.7M1214.4 1307L1212.9 1310.2L1211.2 1313.4L1209.6 1316.6L1207.2 1319.6L1204.1 1322L1201.8 1325.1L1200 1328.6M1402.4 927.3L1405.9 928.5L1409.7 928.8L1413.4 929.1L1417 930.2L1420.9 929.4L1424.8 930.2M1424.8 930.2L1421.6 931.9L1419.4 934.6L1416.5 936.5L1413.7 938.6L1410.9 940.7L1408.2 942.9L1407 946L1405.4 948.9L1404 951.9L1401.5 954.3L1400.4 957.5L1397.7 961.1L1394.6 964.3L1396.9 968.3L1398.5 972.6L1402.2 973.2L1405.9 974L1409.4 975.5L1413.1 976.5L1408.7 976.8L1404.3 977L1402.8 982.8L1406 984.3L1409.2 985.7L1405.8 986.9L1402.4 987.7L1401.6 991.6L1402.4 995.5L1404.7 999.2L1406.2 1003.3L1410.1 1005.7L1406.2 1007.2L1405.7 1010.4L1405.5 1013.7L1406.2 1016.9L1409.2 1018.3L1412.1 1019.8L1408.3 1021.4L1404.3 1021.8L1404 1026.2L1404.8 1030.5L1409.4 1031.5L1414 1032L1410.3 1033.1L1407.2 1035.4L1407.5 1039.8L1408.2 1044.2L1407.8 1047.5L1407.3 1050.7L1406.7 1053.9L1407.2 1059.8L1410.4 1061.5L1412.6 1064.6L1415.7 1066.4L1418.9 1068.1L1415 1069.5L1414.9 1073.4L1414.4 1077.3L1415 1081.2L1414.5 1085.1L1416.5 1091L1414.8 1094.2L1412.1 1096.8"/>
<path class="c" d="M177 253.9L197.4 271.2L203.4 282.7L215.4 286.3L228.5 292.3L244.1 289.9L260.9 281.5L278.9 275.5L291.6 265.2L310.1 267.6L309.4 270L326.9 271.4L342.4 276.7L352 285.1L366.4 295.9L382 297.8L397.6 283.9L407.7 273.8L421.6 270L422.8 257.5L425.2 244.3L427.6 232.3L447.9 216.3L468.3 217.2L471.4 208.8L497.1 211.5L517.5 198.8L536.6 188L543.8 178.4L553.4 170.7L565.4 173.1L574.5 182.7L566.6 194L546.2 198.8L552.2 211.9L559.4 221.5L558.2 235.9L542.6 257.5L555.8 283.9L570.2 281.5L576.9 257.5L565.4 240.7L563 221.5L587 211.9M177 310.2L183 309L201 310.2L219 315L226.2 329.4L239.3 330.6L241.7 324.6L246.5 345L262.1 343.3L268.1 337.8L277.2 335.4L260.9 316.2L264.5 309L272.9 306.6L283.7 299.5L287.3 292.3L294.5 287.5L306.5 286.3L318.5 293.5L326.9 304.3L334 309L330.5 317.4L335.2 335.4L348.4 346.2L355.6 357L364 367.8L365.2 382.2L368.8 393L359.7 401.4L364 415.7L367.6 430.1L365.2 440.9L361.1 450.5L368.8 454.6L374.8 457L361.6 475.7L346 498.5L329.3 499.7L322.1 510.5L324.5 524.8L311.3 532L314.9 537.1M314.9 537L313.7 541.8L289.7 555L274.1 561L276.5 575.4L268.1 589.7L261.4 601.7L258.5 614.9L246.5 622.1L248.9 637.7L251.3 653.3L243.7 661.2L265.2 677.3L275.3 662.9L284.9 655L280.1 662.9L284.9 673.7L277.7 688.1L268.1 700L256.1 708.4L240.5 721.6L233.3 733.6L229.7 745.6L238.1 763.6L246.5 776.8L240.5 784L235 793.1L258.5 806.7L284.9 827.1L295.7 852.3L308.9 867.9L320.9 891.9L335.2 922.1M335.2 922L342.4 936.4L355.6 958L373.6 993.9L394 1025.1L402.4 1039.5L396.4 1050.3L402.4 1063.5L410.8 1077.8L438.3 1100.6L486.3 1128.2L517.5 1143.8L539 1154.6L561.8 1166.6L565.4 1182.1L587 1194.1M609 1307L604.2 1343L597 1390.9L591 1426.9L586.2 1462.8L582.6 1498.8L580.9 1513.2L571.8 1533.6L561.5 1554L563.4 1573.1L565.8 1594.7L556.2 1621.1L558.6 1642.7L564.1 1672.6L557.4 1692.1M558.6 1692L551.4 1718.4L539.4 1749.5L528.7 1773.5L519.1 1797.5L510.7 1822.7L504.7 1831.1L491.5 1831.1L489.8 1840.7L492.7 1855L496.3 1874.2L504.7 1901.8L489.1 1924.1L485.5 1943.8L481.9 1962.9L475.9 1994.1L469.9 2022.9L466.3 2036.1L486.7 2039.2L497.5 1997.7L520.3 2006.1L514.3 2032.5L504.2 2074.7L465.6 2062.9L463.9 2077.1M790 1952.1L780.4 1952.1L773.2 1959.3L775.6 1974.9L779.2 1994.1L787.6 2000.1L790 2001.3M790 2030.1L778 2038.5L770.8 2049.3L768.4 2077.1M463.9 2077L456.7 2113L449.5 2128.5L422 2147.7L424.4 2156.1L431.5 2153.7L475.9 2160.9L463.9 2164.5L436.3 2186.1L426.8 2199.3L423.2 2211.3L424.4 2232.8L425.6 2254.4L428 2273.6L432.7 2283.2L443.5 2296.4L441.1 2304.8L435.1 2313.2L439.9 2324L445.9 2337.1L459.1 2343.1L480.7 2355.1L499.9 2367.1L523.9 2379.1L547.8 2386.3L571.8 2389.9L579 2388.7L581.4 2371.9L585 2353.9L603 2349.1L629.4 2337.1L665.3 2338.3L674.9 2339.5L654.5 2324L647.3 2302.4L641.3 2285.6L643.7 2276L655.7 2266.4L684.5 2256.8L694.1 2240L706.1 2217.3L746.8 2198.1L757.6 2168.1L746.8 2163.3L722.9 2159.7L701.3 2144.1L692.9 2135.7L694.1 2122.6L702.5 2108.2L727.7 2095L761.2 2093.8L768.4 2077M454.3 2352.7L475.9 2371.9L499.9 2393.5L523.9 2407.9L547.8 2419.9L576.6 2429.5L607.8 2434.3L643.7 2442.6L677.3 2446.2L703.7 2437.8L713.3 2424.7L727.7 2436.6L763.6 2435.5L778 2417.5L734.9 2410.3L689.3 2391.1L677.3 2371.9L667.7 2357.5L655.7 2347.9L629.4 2344.3L603 2355.1L595.8 2371.9L591 2382.7L575.4 2394.7L547.8 2388.7L523.9 2380.3L495.1 2364.7L454.3 2352.7M587 212.4L606.2 205.9L601.4 190.4L608.6 179.6L614.6 180.3L625.4 203.1L649.3 203.5L666.1 217.9L670.9 226.3L673.3 234.2L711.7 233L738.1 230.4L747.6 239.5L757.2 245.5L782.4 250.3L801.6 239.5L802.1 229.9L884.3 228.2L857.9 238.3L869.9 252.7L893.9 256.3L919.1 271.9L921.5 279.1L922.7 298.3L941.9 298.7L956.2 307.8L976.6 318.6L989.8 331.8L997 341.4M891.5 225.1L910.7 222.3L917.4 223.2L916.7 249.1L886.7 251.5L880.7 249.6L891 240.7ZM874.7 297.8L889.1 298.7L905.9 303.1L909.5 298.3M997 352.2L993.4 363L992.2 372.6M587 1191.7L599 1200.1L603.8 1228.9L607.4 1257.7L608.1 1281.6L609.1 1307.1M1200 1676.2L1195.2 1692.1M1200 1692L1192.8 1699.2L1168.8 1717.2L1154.4 1738.8L1137.7 1747.1L1116.1 1756.7L1090.9 1750.3L1074.1 1754.3L1063.3 1749.5L1043 1739.5L1020.2 1740.4L999.8 1723.2L996.2 1737.6L1003.4 1745.9L1020.2 1755.5L1034.6 1763.9L1040.6 1769.9L1037 1780.7L1034.6 1791.5L1044.2 1797.5L1056.1 1804.7L1058.5 1821.5L1048.9 1835.9L1039.4 1845.5L1029.8 1857.4L1021.4 1865.8L1001 1874.2L972.2 1883.1L955.4 1885.7L931.5 1888.6L905.1 1891L890.7 1889.8L866.7 1886.7L871.5 1897L875.1 1907.8L872.7 1919.8L869.1 1931.8L872.7 1941.4L875.8 1949.7L869.1 1953.3L854.7 1960.5L840.4 1964.1L820 1965.3L790 1953.3M790 2000.1L799.6 2003.7L804.4 2001.3L821.2 1994.1L832 2012.1L823.6 2015.7L804.4 2022.9L790 2030.1M905.1 2322.8L927.9 2313.2L943.5 2316.8L953 2321.6L933.9 2332.4L921.9 2337.1L905.1 2322.8M974.6 2310.8L995 2297.6L1023.8 2313.2L1013 2325.2L993.8 2328.8L981.8 2325.2L974.6 2315.6L974.6 2310.8M953 2321.6L974.6 2310.8M953 2326.4L966.2 2335.9L969.8 2328.8L993.8 2328.8M997 341.4L998.2 343.8L999.4 358.2L1012.6 359.4L1042.6 388.2L1083.3 394.6L1085.2 388.2L1113.3 385.1L1150.5 394.2L1184 405L1203.2 419.3L1220 432.5L1227.2 449.3L1239.2 449.3L1246.4 466.1L1264.3 523.2L1283.5 529.6L1284.7 537.1M1284.7 537L1283.5 552.6L1267.9 568.2L1258.3 580.2L1267.9 589.7L1327.9 595.7L1329.1 629.3L1353.1 607.7L1371 608.9L1390.2 614.9L1407 619.7M1588.4 1307L1585.5 1322.6L1559.6 1335.8L1551.3 1355L1511.7 1356.2L1494.9 1358.5L1463.7 1366.9L1447 1376.5L1435 1383.7L1411 1388.5L1401.4 1392.1L1382.2 1401.7L1363 1416.1L1353.5 1424.5L1343.9 1436.5L1330.7 1453.3L1329.5 1462.8L1326.6 1479.6L1330.7 1494L1333.1 1506L1330.7 1518L1327.1 1530L1322.3 1543.2L1317.5 1548L1305.5 1555.2L1293.5 1568.3L1282.7 1585.1L1269.5 1606.7L1255.1 1628.3L1236 1645.1L1209.6 1661.9L1203.6 1669L1200 1678.6M1508.1 1351.4L1514.1 1347.8M1407 619.7L1421.4 628.1L1435.8 635.3L1443 634.1L1451.4 630.5L1458.5 641.3L1466.9 654.5L1468.9 664.1L1463.3 677.3L1501.7 666.5L1526.9 674.9L1550.9 680.9L1570 683.7L1615.6 682.1L1664.7 709.6L1686.3 731.2L1709.1 749.2L1733.1 757.6L1749.9 757.6L1764.3 760L1776.2 769.6L1783.4 795.9L1793 833.1L1787 865.5L1779.8 887.1L1766.6 906.2L1749.9 922.1M1749.9 922L1735.5 935.2L1716.3 955.6L1704.3 977.1L1694.7 993.9L1677.9 1013.1L1668.3 1023.9L1660 1025.1L1654 1037.1L1651.6 1049.1L1652.8 1065.9L1654 1089.8L1654.4 1111.4L1651.6 1130.6L1648 1152.2L1643.2 1179.7L1631.2 1192.9L1627.6 1216.9L1624.7 1243.3L1606 1267.3L1590.4 1286.4L1586.8 1307.1"/>
</g>
<rect x="177.5" y="152.3" width="1640.0" height="2309.7" fill="none" stroke="#000" stroke-width="3.2"/>
<text x="277.9" y="2522.2" font-size="49.6" text-anchor="middle">80°W</text>
<text x="612.6" y="2522.2" font-size="49.6" text-anchor="middle">70°W</text>
<text x="947.3" y="2522.2" font-size="49.6" text-anchor="middle">60°W</text>
<text x="1282.0" y="2522.2" font-size="49.6" text-anchor="middle">50°W</text>
<text x="1616.7" y="2522.2" font-size="49.6" text-anchor="middle">40°W</text>
<text x="155" y="2276.2" font-size="49.6" text-anchor="end">50°S</text>
<text x="155" y="1941.5" font-size="49.6" text-anchor="end">40°S</text>
<text x="155" y="1606.8" font-size="49.6" text-anchor="end">30°S</text>
<text x="155" y="1272.1" font-size="49.6" text-anchor="end">20°S</text>
<text x="155" y="937.4" font-size="49.6" text-anchor="end">10°S</text>
<text x="155" y="602.7" font-size="49.6" text-anchor="end">0°</text>
<text x="155" y="268.0" font-size="49.6" text-anchor="end">10°N</text>
<rect x="1859.9" y="257.4" width="51.5" height="2099.8" fill="url(#cb)"/>
<path d="M1859.9 257.9L1885.7 157.1L1911.4 257.9Z" fill="#67001f"/>
<path d="M1859.9 2356.7L1885.7 2457.2L1911.4 2356.7Z" fill="#053061"/>
<path d="M1859.9 257.4L1885.7 157.1L1911.4 257.4L1911.4 2357.2L1885.7 2457.2L1859.9 2357.2Z" fill="none" stroke="#000" stroke-width="3.2" stroke-linejoin="miter" stroke-miterlimit="10"/>
<path d="M1913.0 2357.2h13.9" stroke="#000" stroke-width="3.2"/>
<text x="1940.3" y="2372.8" font-size="41.67">−5</text>
<path d="M1913.0 2123.9h13.9" stroke="#000" stroke-width="3.2"/>
<text x="1940.3" y="2139.5" font-size="41.67">0</text>
<path d="M1913.0 1890.6h13.9" stroke="#000" stroke-width="3.2"/>
<text x="1940.3" y="1906.2" font-size="41.67">5</text>
<path d="M1913.0 1657.3h13.9" stroke="#000" stroke-width="3.2"/>
<text x="1940.3" y="1672.9" font-size="41.67">10</text>
<path d="M1913.0 1424.0h13.9" stroke="#000" stroke-width="3.2"/>
<text x="1940.3" y="1439.6" font-size="41.67">15</text>
<path d="M1913.0 1190.6h13.9" stroke="#000" stroke-width="3.2"/>
<text x="1940.3" y="1206.2" font-size="41.67">20</text>
<path d="M1913.0 957.3h13.9" stroke="#000" stroke-width="3.2"/>
<text x="1940.3" y="972.9" font-size="41.67">25</text>
<path d="M1913.0 724.0h13.9" stroke="#000" stroke-width="3.2"/>
<text x="1940.3" y="739.6" font-size="41.67">30</text>
<path d="M1913.0 490.7h13.9" stroke="#000" stroke-width="3.2"/>
<text x="1940.3" y="506.3" font-size="41.67">35</text>
<path d="M1913.0 257.4h13.9" stroke="#000" stroke-width="3.2"/>
<text x="1940.3" y="273.0" font-size="41.67">40</text>
<text x="1897.5" y="141.8" font-size="41.67" text-anchor="middle">(°C)</text>
<g transform="translate(1560,2180) scale(0.17544)">
<path d="M268 850C272 900 290 1000 350 1085C420 1175 530 1240 660 1252C800 1262 940 1190 1040 1070C1110 975 1155 850 1163 715L1208 715L1068 578L920 715L968 715C966 800 940 900 880 990C830 1060 750 1110 660 1128C560 1145 450 1100 370 1040C320 995 285 930 268 850Z" fill="#0072bc"/>
<circle cx="712" cy="1012" r="97" fill="#f39200"/>
<path d="M272 880C262 780 290 670 360 585C430 515 530 495 620 505C700 520 765 585 795 660C810 700 818 740 820 775L855 773L712 900L592 775L638 773C640 730 610 690 570 668C520 645 450 650 390 690C330 735 295 810 282 900" fill="none" stroke="#0072bc" stroke-width="7" stroke-linejoin="miter"/>
<text x="325" y="945" font-size="138" font-weight="bold" font-style="italic" textLength="292" lengthAdjust="spacingAndGlyphs" style="font-family:'Liberation Sans','DejaVu Sans',sans-serif;fill:#111">INPE</text>
</g>

</svg></body></html>
